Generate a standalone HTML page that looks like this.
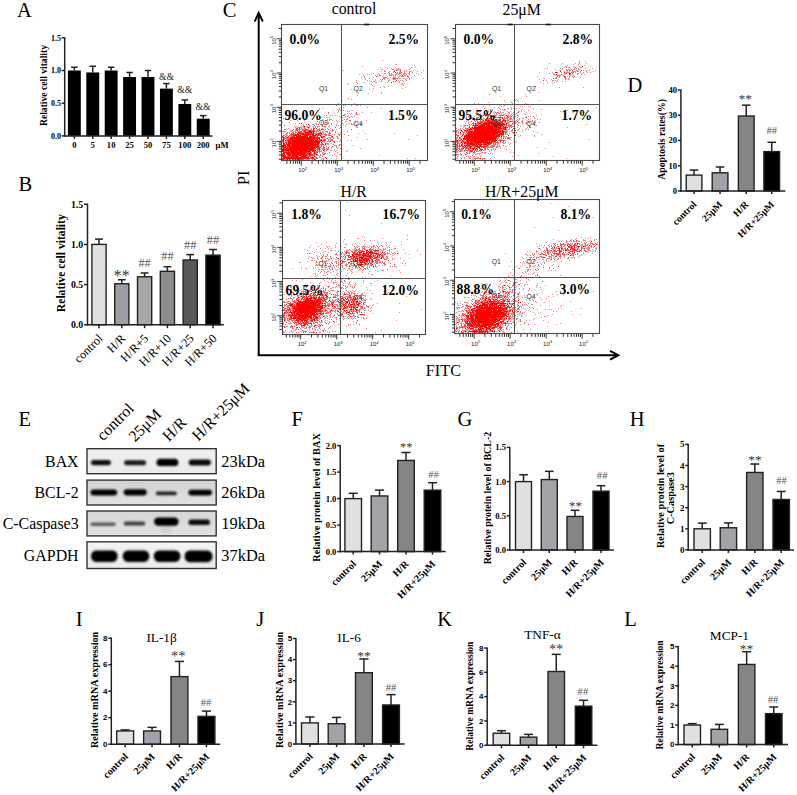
<!DOCTYPE html>
<html><head><meta charset="utf-8"><style>
html,body{margin:0;padding:0;background:#fff;overflow:hidden;width:797px;height:795px;}
svg{display:block;}
</style></head><body>
<svg width="797" height="795" viewBox="0 0 797 795" font-family="Liberation Serif">
<rect width="797" height="795" fill="#fff"/>
<path d="M282 122h1v1h-1zm0 9h1v1h-1zm0 8h1v1h-1zm0 2h1v1h-1zm0 1h1v1h-1zm0 6h1v1h-1zm0 5h1v1h-1zm1 -35h1v1h-1zm0 13h1v1h-1zm0 2h1v1h-1zm0 3h1v1h-1zm1 -7h1v1h-1zm0 2h1v1h-1zm0 1h1v1h-1zm0 3h1v1h-1zm0 3h1v1h-1zm0 1h1v1h-1zm0 2h1v1h-1zm0 10h1v1h-1zm0 8h1v1h-1zm1 -30h1v1h-1zm0 2h1v1h-1zm0 3h1v1h-1zm0 7h1v1h-1zm0 3h1v1h-1zm0 15h1v1h-1zm1 -25h1v1h-1zm0 1h1v1h-1zm0 1h1v1h-1zm0 2h1v1h-1zm0 1h1v1h-1zm0 1h1v1h-1zm0 1h1v1h-1zm0 6h1v1h-1zm1 -15h1v1h-1zm0 1h1v1h-1zm0 2h1v1h-1zm0 3h1v1h-1zm0 3h1v1h-1zm0 1h1v1h-1zm0 1h1v1h-1zm1 -15h1v1h-1zm0 9h1v1h-1zm0 2h1v1h-1zm0 8h1v1h-1zm0 12h1v1h-1zm1 -37h1v1h-1zm0 10h1v1h-1zm0 5h1v1h-1zm0 1h1v1h-1zm0 13h1v1h-1zm1 -31h1v1h-1zm0 10h1v1h-1zm0 1h1v1h-1zm0 3h1v1h-1zm0 1h1v1h-1zm0 1h1v1h-1zm0 20h1v1h-1zm0 3h1v1h-1zm1 -28h1v1h-1zm0 2h1v1h-1zm0 21h1v1h-1zm1 -22h1v1h-1zm0 1h1v1h-1zm0 2h1v1h-1zm1 -6h1v1h-1zm0 2h1v1h-1zm0 1h1v1h-1zm1 -6h1v1h-1zm0 5h1v1h-1zm0 2h1v1h-1zm0 1h1v1h-1zm0 25h1v1h-1zm1 -36h1v1h-1zm0 4h1v1h-1zm0 2h1v1h-1zm0 1h1v1h-1zm0 1h1v1h-1zm0 1h1v1h-1zm0 1h1v1h-1zm1 -7h1v1h-1zm0 6h1v1h-1zm1 -12h1v1h-1zm0 7h1v1h-1zm0 2h1v1h-1zm0 2h1v1h-1zm1 -4h1v1h-1zm0 2h1v1h-1zm0 2h1v1h-1zm0 20h1v1h-1zm0 4h1v1h-1zm1 -32h1v1h-1zm0 4h1v1h-1zm0 2h1v1h-1zm0 2h1v1h-1zm0 3h1v1h-1zm1 -7h1v1h-1zm0 2h1v1h-1zm0 5h1v1h-1zm0 22h1v1h-1zm1 -31h1v1h-1zm0 3h1v1h-1zm0 1h1v1h-1zm0 3h1v1h-1zm0 3h1v1h-1zm1 -9h1v1h-1zm0 2h1v1h-1zm0 1h1v1h-1zm0 1h1v1h-1zm0 2h1v1h-1zm0 3h1v1h-1zm1 -17h1v1h-1zm0 6h1v1h-1zm0 1h1v1h-1zm0 1h1v1h-1zm0 1h1v1h-1zm0 3h1v1h-1zm0 2h1v1h-1zm0 3h1v1h-1zm1 -15h1v1h-1zm0 7h1v1h-1zm0 1h1v1h-1zm0 1h1v1h-1zm0 3h1v1h-1zm1 -13h1v1h-1zm0 40h1v1h-1zm1 -35h1v1h-1zm0 2h1v1h-1zm0 4h1v1h-1zm0 1h1v1h-1zm0 22h1v1h-1zm0 6h1v1h-1zm1 -33h1v1h-1zm0 1h1v1h-1zm0 3h1v1h-1zm0 25h1v1h-1zm0 4h1v1h-1zm1 -44h1v1h-1zm0 13h1v1h-1zm0 1h1v1h-1zm0 1h1v1h-1zm0 25h1v1h-1zm0 1h1v1h-1zm0 3h1v1h-1zm1 -48h1v1h-1zm0 14h1v1h-1zm0 1h1v1h-1zm0 1h1v1h-1zm0 8h1v1h-1zm0 24h1v1h-1zm1 -34h1v1h-1zm0 31h1v1h-1zm0 2h1v1h-1zm1 -30h1v1h-1zm0 2h1v1h-1zm0 22h1v1h-1zm0 2h1v1h-1zm1 -30h1v1h-1zm0 6h1v1h-1zm0 2h1v1h-1zm0 24h1v1h-1zm0 3h1v1h-1zm1 -35h1v1h-1zm0 2h1v1h-1zm0 1h1v1h-1zm0 25h1v1h-1zm0 1h1v1h-1zm0 1h1v1h-1zm1 -22h1v1h-1zm0 1h1v1h-1zm0 16h1v1h-1zm0 6h1v1h-1zm0 3h1v1h-1zm1 -35h1v1h-1zm0 4h1v1h-1zm0 4h1v1h-1zm0 2h1v1h-1zm0 16h1v1h-1zm0 2h1v1h-1zm0 1h1v1h-1zm0 2h1v1h-1zm0 2h1v1h-1zm0 1h1v1h-1zm0 1h1v1h-1zm0 1h1v1h-1zm1 -36h1v1h-1zm0 1h1v1h-1zm0 6h1v1h-1zm0 1h1v1h-1zm0 1h1v1h-1zm0 1h1v1h-1zm0 2h1v1h-1zm0 1h1v1h-1zm0 9h1v1h-1zm0 4h1v1h-1zm0 3h1v1h-1zm0 1h1v1h-1zm0 2h1v1h-1zm0 3h1v1h-1zm1 -37h1v1h-1zm0 3h1v1h-1zm0 2h1v1h-1zm0 1h1v1h-1zm0 2h1v1h-1zm0 1h1v1h-1zm0 1h1v1h-1zm0 2h1v1h-1zm0 1h1v1h-1zm0 17h1v1h-1zm1 -41h1v1h-1zm0 14h1v1h-1zm0 2h1v1h-1zm0 23h1v1h-1zm0 2h1v1h-1zm0 4h1v1h-1zm1 -47h1v1h-1zm0 1h1v1h-1zm0 17h1v1h-1zm0 2h1v1h-1zm0 1h1v1h-1zm0 3h1v1h-1zm0 3h1v1h-1zm0 5h1v1h-1zm0 5h1v1h-1zm0 1h1v1h-1zm0 6h1v1h-1zm0 4h1v1h-1zm0 1h1v1h-1zm1 -27h1v1h-1zm0 1h1v1h-1zm0 3h1v1h-1zm0 2h1v1h-1zm0 3h1v1h-1zm0 2h1v1h-1zm0 3h1v1h-1zm0 2h1v1h-1zm0 3h1v1h-1zm0 2h1v1h-1zm0 3h1v1h-1zm0 3h1v1h-1zm1 -40h1v1h-1zm0 3h1v1h-1zm0 15h1v1h-1zm0 6h1v1h-1zm0 2h1v1h-1zm0 3h1v1h-1zm0 2h1v1h-1zm0 2h1v1h-1zm0 1h1v1h-1zm0 8h1v1h-1zm1 -51h1v1h-1zm0 11h1v1h-1zm0 6h1v1h-1zm0 1h1v1h-1zm0 2h1v1h-1zm0 3h1v1h-1zm0 1h1v1h-1zm0 2h1v1h-1zm0 2h1v1h-1zm0 2h1v1h-1zm0 2h1v1h-1zm0 8h1v1h-1zm0 1h1v1h-1zm0 3h1v1h-1zm0 1h1v1h-1zm0 1h1v1h-1zm0 2h1v1h-1zm0 2h1v1h-1zm1 -37h1v1h-1zm0 10h1v1h-1zm0 1h1v1h-1zm0 5h1v1h-1zm0 2h1v1h-1zm0 2h1v1h-1zm0 7h1v1h-1zm0 1h1v1h-1zm0 3h1v1h-1zm0 6h1v1h-1zm0 1h1v1h-1zm1 -44h1v1h-1zm0 2h1v1h-1zm0 5h1v1h-1zm0 2h1v1h-1zm0 6h1v1h-1zm0 7h1v1h-1zm0 1h1v1h-1zm0 4h1v1h-1zm0 3h1v1h-1zm0 3h1v1h-1zm0 2h1v1h-1zm0 1h1v1h-1zm0 2h1v1h-1zm0 1h1v1h-1zm1 -34h1v1h-1zm0 2h1v1h-1zm0 4h1v1h-1zm0 1h1v1h-1zm0 2h1v1h-1zm0 2h1v1h-1zm0 3h1v1h-1zm0 3h1v1h-1zm0 3h1v1h-1zm0 5h1v1h-1zm1 -11h1v1h-1zm0 1h1v1h-1zm0 3h1v1h-1zm0 5h1v1h-1zm0 3h1v1h-1zm0 2h1v1h-1zm0 1h1v1h-1zm1 -32h1v1h-1zm0 2h1v1h-1zm0 9h1v1h-1zm0 4h1v1h-1zm0 9h1v1h-1zm0 2h1v1h-1zm0 1h1v1h-1zm0 4h1v1h-1zm0 5h1v1h-1zm1 -40h1v1h-1zm0 9h1v1h-1zm0 4h1v1h-1zm0 7h1v1h-1zm0 1h1v1h-1zm0 1h1v1h-1zm0 2h1v1h-1zm0 2h1v1h-1zm0 1h1v1h-1zm0 1h1v1h-1zm0 2h1v1h-1zm0 1h1v1h-1zm0 4h1v1h-1zm0 1h1v1h-1zm1 -32h1v1h-1zm0 2h1v1h-1zm0 1h1v1h-1zm0 5h1v1h-1zm0 2h1v1h-1zm0 4h1v1h-1zm0 1h1v1h-1zm0 2h1v1h-1zm0 3h1v1h-1zm0 2h1v1h-1zm0 2h1v1h-1zm0 5h1v1h-1zm0 9h1v1h-1zm1 -40h1v1h-1zm0 4h1v1h-1zm0 9h1v1h-1zm0 2h1v1h-1zm0 3h1v1h-1zm0 2h1v1h-1zm0 2h1v1h-1zm0 1h1v1h-1zm0 1h1v1h-1zm0 1h1v1h-1zm0 10h1v1h-1zm1 -31h1v1h-1zm0 4h1v1h-1zm0 1h1v1h-1zm0 6h1v1h-1zm0 5h1v1h-1zm0 1h1v1h-1zm0 1h1v1h-1zm0 2h1v1h-1zm0 1h1v1h-1zm0 3h1v1h-1zm0 4h1v1h-1zm0 1h1v1h-1zm0 2h1v1h-1zm1 -35h1v1h-1zm0 5h1v1h-1zm0 9h1v1h-1zm0 1h1v1h-1zm0 1h1v1h-1zm0 3h1v1h-1zm0 3h1v1h-1zm0 2h1v1h-1zm0 16h1v1h-1zm1 -45h1v1h-1zm0 20h1v1h-1zm0 7h1v1h-1zm0 1h1v1h-1zm0 6h1v1h-1zm1 -31h1v1h-1zm0 21h1v1h-1zm0 11h1v1h-1zm0 4h1v1h-1zm0 1h1v1h-1zm0 4h1v1h-1zm1 -39h1v1h-1zm0 16h1v1h-1zm0 1h1v1h-1zm0 13h1v1h-1zm0 6h1v1h-1zm1 -46h1v1h-1zm0 15h1v1h-1zm0 4h1v1h-1zm0 1h1v1h-1zm0 4h1v1h-1zm0 7h1v1h-1zm0 9h1v1h-1zm0 1h1v1h-1zm0 1h1v1h-1zm0 3h1v1h-1zm0 6h1v1h-1zm0 2h1v1h-1zm1 -49h1v1h-1zm0 3h1v1h-1zm0 3h1v1h-1zm0 6h1v1h-1zm0 2h1v1h-1zm0 13h1v1h-1zm0 1h1v1h-1zm0 1h1v1h-1zm0 3h1v1h-1zm0 7h1v1h-1zm0 4h1v1h-1zm1 -49h1v1h-1zm0 7h1v1h-1zm0 1h1v1h-1zm0 14h1v1h-1zm0 8h1v1h-1zm0 1h1v1h-1zm0 4h1v1h-1zm0 9h1v1h-1zm1 -43h1v1h-1zm0 4h1v1h-1zm0 1h1v1h-1zm0 7h1v1h-1zm0 12h1v1h-1zm0 6h1v1h-1zm0 1h1v1h-1zm0 6h1v1h-1zm0 3h1v1h-1zm0 10h1v1h-1zm1 -44h1v1h-1zm0 7h1v1h-1zm0 8h1v1h-1zm0 7h1v1h-1zm0 2h1v1h-1zm0 5h1v1h-1zm0 1h1v1h-1zm0 4h1v1h-1zm0 4h1v1h-1zm0 6h1v1h-1zm1 -33h1v1h-1zm0 2h1v1h-1zm0 10h1v1h-1zm0 1h1v1h-1zm0 4h1v1h-1zm0 4h1v1h-1zm0 3h1v1h-1zm0 6h1v1h-1zm1 -36h1v1h-1zm0 2h1v1h-1zm0 3h1v1h-1zm0 3h1v1h-1zm1 -53h1v1h-1zm0 35h1v1h-1zm0 2h1v1h-1zm0 17h1v1h-1zm1 -20h1v1h-1zm0 10h1v1h-1zm0 1h1v1h-1zm0 4h1v1h-1zm0 15h1v1h-1zm1 -29h1v1h-1zm0 9h1v1h-1zm0 2h1v1h-1zm0 5h1v1h-1zm0 5h1v1h-1zm1 -7h1v1h-1zm0 2h1v1h-1zm0 3h1v1h-1zm0 27h1v1h-1zm1 -68h1v1h-1zm0 28h1v1h-1zm0 2h1v1h-1zm0 5h1v1h-1zm0 1h1v1h-1zm0 12h1v1h-1zm0 9h1v1h-1zm0 10h1v1h-1zm1 -66h1v1h-1zm0 31h1v1h-1zm0 8h1v1h-1zm0 12h1v1h-1zm1 -24h1v1h-1zm0 2h1v1h-1zm0 7h1v1h-1zm0 3h1v1h-1zm1 -9h1v1h-1zm0 7h1v1h-1zm1 -32h1v1h-1zm0 10h1v1h-1zm0 6h1v1h-1zm0 5h1v1h-1zm0 3h1v1h-1zm0 3h1v1h-1zm0 7h1v1h-1zm0 1h1v1h-1zm0 16h1v1h-1zm1 -30h1v1h-1zm0 7h1v1h-1zm0 7h1v1h-1zm1 0h1v1h-1zm0 21h1v1h-1zm1 -42h1v1h-1zm0 13h1v1h-1zm1 -3h1v1h-1zm0 9h1v1h-1zm1 -42h1v1h-1zm0 2h1v1h-1zm0 23h1v1h-1zm0 8h1v1h-1zm0 11h1v1h-1zm0 1h1v1h-1zm1 -42h1v1h-1zm0 12h1v1h-1zm0 10h1v1h-1zm0 9h1v1h-1zm0 23h1v1h-1zm1 -44h1v1h-1zm0 40h1v1h-1zm1 -59h1v1h-1zm0 40h1v1h-1zm1 -9h1v1h-1zm0 18h1v1h-1zm0 2h1v1h-1zm0 23h1v1h-1zm1 -71h1v1h-1zm0 46h1v1h-1zm1 -57h1v1h-1zm0 46h1v1h-1zm1 -37h1v1h-1zm0 7h1v1h-1zm0 49h1v1h-1zm1 -55h1v1h-1zm0 1h1v1h-1zm1 1h1v1h-1zm0 1h1v1h-1zm0 54h1v1h-1zm1 -13h1v1h-1zm1 -46h1v1h-1zm0 6h1v1h-1zm0 27h1v1h-1zm0 32h1v1h-1zm1 -46h1v1h-1zm1 -19h1v1h-1zm0 6h1v1h-1zm0 3h1v1h-1zm0 6h1v1h-1zm2 -16h1v1h-1zm0 8h1v1h-1zm0 3h1v1h-1zm0 28h1v1h-1zm1 -33h1v1h-1zm0 6h1v1h-1zm0 5h1v1h-1zm1 -17h1v1h-1zm0 4h1v1h-1zm0 4h1v1h-1zm0 7h1v1h-1zm1 -7h1v1h-1zm0 5h1v1h-1zm1 -11h1v1h-1zm0 4h1v1h-1zm0 1h1v1h-1zm0 2h1v1h-1zm1 -6h1v1h-1zm0 6h1v1h-1zm1 -8h1v1h-1zm0 2h1v1h-1zm1 -3h1v1h-1zm1 1h1v1h-1zm0 7h1v1h-1zm0 74h1v1h-1zm1 -88h1v1h-1zm0 8h1v1h-1zm0 4h1v1h-1zm0 8h1v1h-1zm1 -18h1v1h-1zm0 2h1v1h-1zm0 9h1v1h-1zm0 1h1v1h-1zm0 11h1v1h-1zm0 1h1v1h-1zm0 15h1v1h-1zm1 -48h1v1h-1zm0 9h1v1h-1zm0 4h1v1h-1zm0 3h1v1h-1zm1 -1h1v1h-1zm0 2h1v1h-1zm0 9h1v1h-1zm1 -16h1v1h-1zm0 1h1v1h-1zm0 2h1v1h-1zm0 5h1v1h-1zm0 1h1v1h-1zm0 8h1v1h-1zm1 -20h1v1h-1zm0 4h1v1h-1zm0 2h1v1h-1zm0 4h1v1h-1zm0 1h1v1h-1zm1 -1h1v1h-1zm1 -9h1v1h-1zm0 8h1v1h-1zm0 2h1v1h-1zm0 4h1v1h-1zm1 -10h1v1h-1zm0 6h1v1h-1zm0 2h1v1h-1zm0 1h1v1h-1zm0 5h1v1h-1zm1 -15h1v1h-1zm0 4h1v1h-1zm0 4h1v1h-1zm0 1h1v1h-1zm1 -5h1v1h-1zm0 2h1v1h-1zm1 -9h1v1h-1zm0 5h1v1h-1zm0 1h1v1h-1zm1 -5h1v1h-1zm0 5h1v1h-1zm0 4h1v1h-1zm1 -9h1v1h-1zm0 2h1v1h-1zm0 1h1v1h-1zm0 3h1v1h-1zm0 1h1v1h-1zm0 1h1v1h-1zm0 2h1v1h-1zm1 -9h1v1h-1zm0 7h1v1h-1zm0 2h1v1h-1zm0 54h1v1h-1zm1 -69h1v1h-1zm0 10h1v1h-1zm0 1h1v1h-1zm0 1h1v1h-1zm0 1h1v1h-1zm0 1h1v1h-1zm0 1h1v1h-1zm0 2h1v1h-1zm1 -17h1v1h-1zm0 4h1v1h-1zm0 5h1v1h-1zm0 1h1v1h-1zm0 4h1v1h-1zm0 3h1v1h-1zm1 -12h1v1h-1zm0 1h1v1h-1zm0 2h1v1h-1zm0 1h1v1h-1zm1 -5h1v1h-1zm0 6h1v1h-1zm0 6h1v1h-1zm1 -10h1v1h-1zm0 2h1v1h-1zm0 3h1v1h-1zm0 1h1v1h-1zm0 2h1v1h-1zm0 3h1v1h-1zm0 1h1v1h-1zm1 -13h1v1h-1zm0 2h1v1h-1zm0 1h1v1h-1zm0 1h1v1h-1zm0 2h1v1h-1zm0 3h1v1h-1zm0 2h1v1h-1zm1 -6h1v1h-1zm0 10h1v1h-1zm1 -8h1v1h-1zm0 4h1v1h-1zm0 3h1v1h-1zm0 1h1v1h-1zm0 4h1v1h-1zm1 -14h1v1h-1zm0 2h1v1h-1zm0 2h1v1h-1zm0 3h1v1h-1zm0 4h1v1h-1zm1 -15h1v1h-1zm0 1h1v1h-1zm0 1h1v1h-1zm0 2h1v1h-1zm0 1h1v1h-1zm0 3h1v1h-1zm0 5h1v1h-1zm1 -10h1v1h-1zm0 2h1v1h-1zm0 4h1v1h-1zm0 8h1v1h-1zm1 -17h1v1h-1zm0 1h1v1h-1zm0 3h1v1h-1zm0 4h1v1h-1zm0 2h1v1h-1zm1 -5h1v1h-1zm0 1h1v1h-1zm0 82h1v1h-1zm1 -85h1v1h-1zm0 3h1v1h-1zm0 1h1v1h-1zm0 62h1v1h-1zm1 -70h1v1h-1zm0 2h1v1h-1zm0 1h1v1h-1zm0 1h1v1h-1zm0 1h1v1h-1zm0 4h1v1h-1zm0 1h1v1h-1zm1 -11h1v1h-1zm0 3h1v1h-1zm0 43h1v1h-1zm1 -47h1v1h-1zm0 4h1v1h-1zm0 6h1v1h-1zm1 -5h1v1h-1zm1 -2h1v1h-1zm1 -5h1v1h-1zm0 10h1v1h-1zm1 -8h1v1h-1zm0 91h1v1h-1zm1 -85h1v1h-1zm1 -2h1v1h-1zm0 64h1v1h-1zm1 -61h1v1h-1zm3 -2h1v1h-1zm2 -2h1v1h-1zm0 8h1v1h-1z" fill="#e62020" fill-opacity="0.55"/>
<path d="M282 136h1v1h-1zm0 1h1v1h-1zm0 3h1v1h-1zm0 7h1v1h-1zm1 -12h1v1h-1zm0 24h1v1h-1zm1 -34h1v1h-1zm0 12h1v1h-1zm0 9h1v1h-1zm0 1h1v1h-1zm0 1h1v1h-1zm1 -12h1v1h-1zm0 6h1v1h-1zm0 6h1v1h-1zm0 3h1v1h-1zm0 1h1v1h-1zm0 3h1v1h-1zm0 1h1v1h-1zm0 2h1v1h-1zm1 -25h1v1h-1zm0 4h1v1h-1zm0 7h1v1h-1zm0 7h1v1h-1zm0 3h1v1h-1zm0 2h1v1h-1zm0 3h1v1h-1zm1 -20h1v1h-1zm0 1h1v1h-1zm0 6h1v1h-1zm0 5h1v1h-1zm0 3h1v1h-1zm0 1h1v1h-1zm0 1h1v1h-1zm1 -18h1v1h-1zm0 18h1v1h-1zm1 -23h1v1h-1zm0 2h1v1h-1zm0 14h1v1h-1zm0 4h1v1h-1zm1 -16h1v1h-1zm0 3h1v1h-1zm0 4h1v1h-1zm0 1h1v1h-1zm0 7h1v1h-1zm1 -17h1v1h-1zm0 1h1v1h-1zm0 4h1v1h-1zm0 2h1v1h-1zm0 3h1v1h-1zm1 -15h1v1h-1zm0 4h1v1h-1zm0 2h1v1h-1zm1 -1h1v1h-1zm0 1h1v1h-1zm0 2h1v1h-1zm0 19h1v1h-1zm0 2h1v1h-1zm1 -20h1v1h-1zm0 17h1v1h-1zm2 -28h1v1h-1zm0 1h1v1h-1zm0 1h1v1h-1zm0 4h1v1h-1zm0 25h1v1h-1zm1 -31h1v1h-1zm0 2h1v1h-1zm0 3h1v1h-1zm0 2h1v1h-1zm1 -2h1v1h-1zm1 -3h1v1h-1zm1 1h1v1h-1zm0 1h1v1h-1zm0 4h1v1h-1zm0 23h1v1h-1zm1 -32h1v1h-1zm0 6h1v1h-1zm0 26h1v1h-1zm1 -2h1v1h-1zm0 2h1v1h-1zm1 -30h1v1h-1zm0 2h1v1h-1zm0 28h1v1h-1zm1 -26h1v1h-1zm0 1h1v1h-1zm1 -6h1v1h-1zm0 1h1v1h-1zm0 1h1v1h-1zm0 1h1v1h-1zm0 23h1v1h-1zm1 -21h1v1h-1zm0 23h1v1h-1zm0 2h1v1h-1zm1 -29h1v1h-1zm0 2h1v1h-1zm0 2h1v1h-1zm0 19h1v1h-1zm0 2h1v1h-1zm0 2h1v1h-1zm1 -25h1v1h-1zm0 4h1v1h-1zm0 15h1v1h-1zm0 2h1v1h-1zm0 2h1v1h-1zm1 -21h1v1h-1zm0 14h1v1h-1zm0 5h1v1h-1zm0 4h1v1h-1zm0 2h1v1h-1zm1 -25h1v1h-1zm0 2h1v1h-1zm0 15h1v1h-1zm0 5h1v1h-1zm0 2h1v1h-1zm1 -28h1v1h-1zm0 4h1v1h-1zm0 20h1v1h-1zm0 4h1v1h-1zm1 -24h1v1h-1zm0 3h1v1h-1zm0 2h1v1h-1zm0 16h1v1h-1zm0 1h1v1h-1zm1 -27h1v1h-1zm0 2h1v1h-1zm0 1h1v1h-1zm0 11h1v1h-1zm0 9h1v1h-1zm0 4h1v1h-1zm0 2h1v1h-1zm0 1h1v1h-1zm1 -33h1v1h-1zm0 5h1v1h-1zm0 1h1v1h-1zm0 5h1v1h-1zm0 4h1v1h-1zm0 3h1v1h-1zm0 11h1v1h-1zm0 5h1v1h-1zm1 -33h1v1h-1zm0 10h1v1h-1zm0 1h1v1h-1zm0 1h1v1h-1zm0 1h1v1h-1zm0 8h1v1h-1zm1 -19h1v1h-1zm0 9h1v1h-1zm0 2h1v1h-1zm0 4h1v1h-1zm0 8h1v1h-1zm0 6h1v1h-1zm1 -22h1v1h-1zm0 1h1v1h-1zm0 11h1v1h-1zm0 1h1v1h-1zm0 6h1v1h-1zm0 4h1v1h-1zm1 -29h1v1h-1zm0 2h1v1h-1zm0 6h1v1h-1zm0 1h1v1h-1zm0 7h1v1h-1zm0 3h1v1h-1zm1 -14h1v1h-1zm0 9h1v1h-1zm0 4h1v1h-1zm0 3h1v1h-1zm0 1h1v1h-1zm1 -19h1v1h-1zm0 15h1v1h-1zm0 8h1v1h-1zm1 -33h1v1h-1zm0 12h1v1h-1zm0 5h1v1h-1zm0 5h1v1h-1zm0 1h1v1h-1zm1 -16h1v1h-1zm0 8h1v1h-1zm0 4h1v1h-1zm0 2h1v1h-1zm0 1h1v1h-1zm1 -15h1v1h-1zm0 4h1v1h-1zm0 7h1v1h-1zm0 4h1v1h-1zm0 2h1v1h-1zm0 1h1v1h-1zm0 3h1v1h-1zm0 4h1v1h-1zm1 -28h1v1h-1zm0 8h1v1h-1zm0 2h1v1h-1zm0 3h1v1h-1zm0 1h1v1h-1zm0 1h1v1h-1zm0 6h1v1h-1zm1 -14h1v1h-1zm0 2h1v1h-1zm0 4h1v1h-1zm0 4h1v1h-1zm1 -28h1v1h-1zm0 16h1v1h-1zm0 19h1v1h-1zm1 -19h1v1h-1zm0 7h1v1h-1zm0 11h1v1h-1zm1 -37h1v1h-1zm0 11h1v1h-1zm0 6h1v1h-1zm0 18h1v1h-1zm1 -14h1v1h-1zm0 2h1v1h-1zm0 17h1v1h-1zm1 -11h1v1h-1zm2 -1h1v1h-1zm0 6h1v1h-1zm1 -5h1v1h-1zm1 0h1v1h-1zm0 1h1v1h-1zm1 -15h1v1h-1zm4 18h1v1h-1zm1 -18h1v1h-1zm1 16h1v1h-1zm2 -33h1v1h-1zm0 5h1v1h-1zm4 1h1v1h-1zm1 -18h1v1h-1zm1 19h1v1h-1zm1 3h1v1h-1zm1 9h1v1h-1zm5 -17h1v1h-1zm0 2h1v1h-1zm13 -36h1v1h-1zm10 -3h1v1h-1zm3 4h1v1h-1zm1 -1h1v1h-1zm1 -1h1v1h-1zm5 -4h1v1h-1zm0 1h1v1h-1zm2 1h1v1h-1zm2 3h1v1h-1zm0 3h1v1h-1zm1 -10h1v1h-1zm0 7h1v1h-1zm2 -8h1v1h-1zm0 10h1v1h-1zm1 -2h1v1h-1zm1 -9h1v1h-1zm0 8h1v1h-1zm2 -7h1v1h-1zm1 2h1v1h-1zm0 4h1v1h-1zm1 -1h1v1h-1zm2 -2h1v1h-1z" fill="#f41010" fill-opacity="0.8"/>
<path d="M282 145h1v1h-1zm0 1h1v1h-1zm0 3h1v1h-1zm0 1h1v1h-1zm0 1h1v1h-1zm0 3h1v1h-1zm0 1h1v1h-1zm0 1h1v1h-1zm0 2h1v1h-1zm0 1h1v1h-1zm1 -22h1v1h-1zm0 1h1v1h-1zm0 1h1v1h-1zm0 1h1v1h-1zm0 1h1v1h-1zm0 1h1v1h-1zm0 1h1v1h-1zm0 1h1v1h-1zm0 1h1v1h-1zm0 1h1v1h-1zm0 1h1v1h-1zm0 1h1v1h-1zm0 1h1v1h-1zm0 1h1v1h-1zm0 1h1v1h-1zm0 1h1v1h-1zm0 1h1v1h-1zm0 1h1v1h-1zm0 1h1v1h-1zm0 1h1v1h-1zm0 1h1v1h-1zm0 1h1v1h-1zm1 -15h1v1h-1zm0 1h1v1h-1zm0 1h1v1h-1zm0 4h1v1h-1zm0 1h1v1h-1zm0 2h1v1h-1zm0 1h1v1h-1zm0 1h1v1h-1zm0 1h1v1h-1zm0 1h1v1h-1zm0 1h1v1h-1zm0 1h1v1h-1zm1 -20h1v1h-1zm0 2h1v1h-1zm0 5h1v1h-1zm0 1h1v1h-1zm0 1h1v1h-1zm0 2h1v1h-1zm0 1h1v1h-1zm0 7h1v1h-1zm1 -15h1v1h-1zm0 1h1v1h-1zm0 3h1v1h-1zm0 2h1v1h-1zm0 1h1v1h-1zm0 1h1v1h-1zm0 2h1v1h-1zm0 1h1v1h-1zm0 4h1v1h-1zm0 1h1v1h-1zm1 -21h1v1h-1zm0 7h1v1h-1zm0 1h1v1h-1zm0 2h1v1h-1zm0 1h1v1h-1zm0 1h1v1h-1zm0 1h1v1h-1zm0 2h1v1h-1zm0 1h1v1h-1zm0 4h1v1h-1zm0 1h1v1h-1zm0 1h1v1h-1zm1 -23h1v1h-1zm0 4h1v1h-1zm0 1h1v1h-1zm0 1h1v1h-1zm0 1h1v1h-1zm0 1h1v1h-1zm0 1h1v1h-1zm0 1h1v1h-1zm0 2h1v1h-1zm0 1h1v1h-1zm0 1h1v1h-1zm0 1h1v1h-1zm0 1h1v1h-1zm0 1h1v1h-1zm0 1h1v1h-1zm0 1h1v1h-1zm0 2h1v1h-1zm0 1h1v1h-1zm1 -19h1v1h-1zm0 1h1v1h-1zm0 1h1v1h-1zm0 1h1v1h-1zm0 1h1v1h-1zm0 1h1v1h-1zm0 1h1v1h-1zm0 1h1v1h-1zm0 1h1v1h-1zm0 1h1v1h-1zm0 2h1v1h-1zm0 2h1v1h-1zm0 2h1v1h-1zm0 1h1v1h-1zm0 1h1v1h-1zm0 1h1v1h-1zm0 1h1v1h-1zm0 1h1v1h-1zm1 -21h1v1h-1zm0 1h1v1h-1zm0 2h1v1h-1zm0 1h1v1h-1zm0 1h1v1h-1zm0 3h1v1h-1zm0 1h1v1h-1zm0 1h1v1h-1zm0 1h1v1h-1zm0 1h1v1h-1zm0 1h1v1h-1zm0 2h1v1h-1zm0 1h1v1h-1zm0 1h1v1h-1zm0 2h1v1h-1zm0 1h1v1h-1zm1 -24h1v1h-1zm0 3h1v1h-1zm0 1h1v1h-1zm0 1h1v1h-1zm0 2h1v1h-1zm0 2h1v1h-1zm0 1h1v1h-1zm0 2h1v1h-1zm0 1h1v1h-1zm0 1h1v1h-1zm0 1h1v1h-1zm0 1h1v1h-1zm0 1h1v1h-1zm0 1h1v1h-1zm0 1h1v1h-1zm0 2h1v1h-1zm0 1h1v1h-1zm0 1h1v1h-1zm0 1h1v1h-1zm1 -21h1v1h-1zm0 1h1v1h-1zm0 1h1v1h-1zm0 1h1v1h-1zm0 1h1v1h-1zm0 1h1v1h-1zm0 1h1v1h-1zm0 1h1v1h-1zm0 1h1v1h-1zm0 1h1v1h-1zm0 1h1v1h-1zm0 1h1v1h-1zm0 1h1v1h-1zm0 1h1v1h-1zm0 1h1v1h-1zm0 1h1v1h-1zm0 1h1v1h-1zm0 1h1v1h-1zm0 1h1v1h-1zm0 1h1v1h-1zm0 1h1v1h-1zm0 1h1v1h-1zm0 1h1v1h-1zm1 -26h1v1h-1zm0 1h1v1h-1zm0 3h1v1h-1zm0 2h1v1h-1zm0 1h1v1h-1zm0 1h1v1h-1zm0 1h1v1h-1zm0 1h1v1h-1zm0 1h1v1h-1zm0 1h1v1h-1zm0 1h1v1h-1zm0 1h1v1h-1zm0 1h1v1h-1zm0 1h1v1h-1zm0 1h1v1h-1zm0 1h1v1h-1zm0 1h1v1h-1zm0 1h1v1h-1zm0 1h1v1h-1zm0 1h1v1h-1zm0 1h1v1h-1zm0 2h1v1h-1zm1 -23h1v1h-1zm0 1h1v1h-1zm0 1h1v1h-1zm0 1h1v1h-1zm0 2h1v1h-1zm0 1h1v1h-1zm0 1h1v1h-1zm0 1h1v1h-1zm0 1h1v1h-1zm0 1h1v1h-1zm0 1h1v1h-1zm0 1h1v1h-1zm0 1h1v1h-1zm0 1h1v1h-1zm0 1h1v1h-1zm0 1h1v1h-1zm0 1h1v1h-1zm0 1h1v1h-1zm0 1h1v1h-1zm0 1h1v1h-1zm0 2h1v1h-1zm0 1h1v1h-1zm1 -24h1v1h-1zm0 1h1v1h-1zm0 2h1v1h-1zm0 1h1v1h-1zm0 1h1v1h-1zm0 1h1v1h-1zm0 1h1v1h-1zm0 1h1v1h-1zm0 1h1v1h-1zm0 1h1v1h-1zm0 1h1v1h-1zm0 1h1v1h-1zm0 1h1v1h-1zm0 1h1v1h-1zm0 1h1v1h-1zm0 1h1v1h-1zm0 1h1v1h-1zm0 1h1v1h-1zm0 1h1v1h-1zm0 1h1v1h-1zm0 1h1v1h-1zm0 1h1v1h-1zm0 1h1v1h-1zm0 1h1v1h-1zm0 1h1v1h-1zm1 -24h1v1h-1zm0 1h1v1h-1zm0 1h1v1h-1zm0 1h1v1h-1zm0 1h1v1h-1zm0 1h1v1h-1zm0 1h1v1h-1zm0 1h1v1h-1zm0 1h1v1h-1zm0 1h1v1h-1zm0 1h1v1h-1zm0 1h1v1h-1zm0 1h1v1h-1zm0 1h1v1h-1zm0 1h1v1h-1zm0 1h1v1h-1zm0 1h1v1h-1zm0 1h1v1h-1zm0 1h1v1h-1zm0 1h1v1h-1zm0 1h1v1h-1zm0 1h1v1h-1zm0 1h1v1h-1zm0 1h1v1h-1zm1 -24h1v1h-1zm0 2h1v1h-1zm0 1h1v1h-1zm0 1h1v1h-1zm0 1h1v1h-1zm0 1h1v1h-1zm0 1h1v1h-1zm0 1h1v1h-1zm0 1h1v1h-1zm0 1h1v1h-1zm0 1h1v1h-1zm0 1h1v1h-1zm0 1h1v1h-1zm0 1h1v1h-1zm0 1h1v1h-1zm0 1h1v1h-1zm0 1h1v1h-1zm0 1h1v1h-1zm0 1h1v1h-1zm0 1h1v1h-1zm0 1h1v1h-1zm0 1h1v1h-1zm0 1h1v1h-1zm0 1h1v1h-1zm0 1h1v1h-1zm1 -27h1v1h-1zm0 2h1v1h-1zm0 1h1v1h-1zm0 1h1v1h-1zm0 1h1v1h-1zm0 1h1v1h-1zm0 1h1v1h-1zm0 1h1v1h-1zm0 1h1v1h-1zm0 1h1v1h-1zm0 1h1v1h-1zm0 1h1v1h-1zm0 1h1v1h-1zm0 1h1v1h-1zm0 1h1v1h-1zm0 1h1v1h-1zm0 1h1v1h-1zm0 1h1v1h-1zm0 2h1v1h-1zm0 1h1v1h-1zm0 1h1v1h-1zm0 2h1v1h-1zm0 1h1v1h-1zm0 1h1v1h-1zm0 1h1v1h-1zm1 -31h1v1h-1zm0 4h1v1h-1zm0 1h1v1h-1zm0 2h1v1h-1zm0 1h1v1h-1zm0 1h1v1h-1zm0 1h1v1h-1zm0 1h1v1h-1zm0 1h1v1h-1zm0 1h1v1h-1zm0 1h1v1h-1zm0 1h1v1h-1zm0 1h1v1h-1zm0 1h1v1h-1zm0 1h1v1h-1zm0 1h1v1h-1zm0 1h1v1h-1zm0 1h1v1h-1zm0 1h1v1h-1zm0 1h1v1h-1zm0 1h1v1h-1zm0 1h1v1h-1zm0 1h1v1h-1zm0 1h1v1h-1zm0 2h1v1h-1zm0 1h1v1h-1zm0 1h1v1h-1zm1 -26h1v1h-1zm0 2h1v1h-1zm0 2h1v1h-1zm0 1h1v1h-1zm0 1h1v1h-1zm0 1h1v1h-1zm0 1h1v1h-1zm0 1h1v1h-1zm0 1h1v1h-1zm0 1h1v1h-1zm0 1h1v1h-1zm0 1h1v1h-1zm0 1h1v1h-1zm0 1h1v1h-1zm0 1h1v1h-1zm0 1h1v1h-1zm0 1h1v1h-1zm0 1h1v1h-1zm0 1h1v1h-1zm0 1h1v1h-1zm0 1h1v1h-1zm0 2h1v1h-1zm0 1h1v1h-1zm1 -35h1v1h-1zm0 8h1v1h-1zm0 3h1v1h-1zm0 2h1v1h-1zm0 1h1v1h-1zm0 1h1v1h-1zm0 1h1v1h-1zm0 1h1v1h-1zm0 1h1v1h-1zm0 1h1v1h-1zm0 1h1v1h-1zm0 1h1v1h-1zm0 1h1v1h-1zm0 1h1v1h-1zm0 1h1v1h-1zm0 1h1v1h-1zm0 1h1v1h-1zm0 1h1v1h-1zm0 1h1v1h-1zm0 1h1v1h-1zm0 1h1v1h-1zm0 1h1v1h-1zm0 1h1v1h-1zm0 1h1v1h-1zm0 1h1v1h-1zm0 1h1v1h-1zm1 -25h1v1h-1zm0 1h1v1h-1zm0 2h1v1h-1zm0 1h1v1h-1zm0 1h1v1h-1zm0 1h1v1h-1zm0 1h1v1h-1zm0 1h1v1h-1zm0 1h1v1h-1zm0 1h1v1h-1zm0 1h1v1h-1zm0 1h1v1h-1zm0 1h1v1h-1zm0 1h1v1h-1zm0 1h1v1h-1zm0 1h1v1h-1zm0 1h1v1h-1zm0 1h1v1h-1zm0 1h1v1h-1zm0 1h1v1h-1zm0 1h1v1h-1zm0 1h1v1h-1zm0 1h1v1h-1zm0 2h1v1h-1zm1 -25h1v1h-1zm0 1h1v1h-1zm0 2h1v1h-1zm0 1h1v1h-1zm0 1h1v1h-1zm0 1h1v1h-1zm0 1h1v1h-1zm0 1h1v1h-1zm0 1h1v1h-1zm0 1h1v1h-1zm0 1h1v1h-1zm0 1h1v1h-1zm0 1h1v1h-1zm0 1h1v1h-1zm0 1h1v1h-1zm0 1h1v1h-1zm0 1h1v1h-1zm0 1h1v1h-1zm0 1h1v1h-1zm0 1h1v1h-1zm0 1h1v1h-1zm0 1h1v1h-1zm0 1h1v1h-1zm0 1h1v1h-1zm0 1h1v1h-1zm1 -32h1v1h-1zm0 4h1v1h-1zm0 1h1v1h-1zm0 4h1v1h-1zm0 1h1v1h-1zm0 1h1v1h-1zm0 1h1v1h-1zm0 1h1v1h-1zm0 1h1v1h-1zm0 1h1v1h-1zm0 1h1v1h-1zm0 1h1v1h-1zm0 1h1v1h-1zm0 1h1v1h-1zm0 1h1v1h-1zm0 1h1v1h-1zm0 1h1v1h-1zm0 1h1v1h-1zm0 1h1v1h-1zm0 1h1v1h-1zm0 1h1v1h-1zm0 1h1v1h-1zm0 1h1v1h-1zm0 1h1v1h-1zm0 1h1v1h-1zm0 1h1v1h-1zm0 1h1v1h-1zm1 -26h1v1h-1zm0 1h1v1h-1zm0 1h1v1h-1zm0 1h1v1h-1zm0 1h1v1h-1zm0 1h1v1h-1zm0 1h1v1h-1zm0 1h1v1h-1zm0 1h1v1h-1zm0 1h1v1h-1zm0 1h1v1h-1zm0 1h1v1h-1zm0 1h1v1h-1zm0 1h1v1h-1zm0 1h1v1h-1zm0 1h1v1h-1zm0 1h1v1h-1zm0 1h1v1h-1zm0 1h1v1h-1zm0 1h1v1h-1zm0 1h1v1h-1zm0 1h1v1h-1zm0 2h1v1h-1zm0 1h1v1h-1zm0 1h1v1h-1zm0 1h1v1h-1zm1 -29h1v1h-1zm0 3h1v1h-1zm0 2h1v1h-1zm0 1h1v1h-1zm0 1h1v1h-1zm0 1h1v1h-1zm0 1h1v1h-1zm0 1h1v1h-1zm0 1h1v1h-1zm0 1h1v1h-1zm0 1h1v1h-1zm0 1h1v1h-1zm0 1h1v1h-1zm0 1h1v1h-1zm0 1h1v1h-1zm0 1h1v1h-1zm0 1h1v1h-1zm0 1h1v1h-1zm0 1h1v1h-1zm0 1h1v1h-1zm0 1h1v1h-1zm0 2h1v1h-1zm0 1h1v1h-1zm0 2h1v1h-1zm1 -25h1v1h-1zm0 2h1v1h-1zm0 1h1v1h-1zm0 1h1v1h-1zm0 1h1v1h-1zm0 1h1v1h-1zm0 1h1v1h-1zm0 1h1v1h-1zm0 1h1v1h-1zm0 1h1v1h-1zm0 1h1v1h-1zm0 1h1v1h-1zm0 1h1v1h-1zm0 1h1v1h-1zm0 1h1v1h-1zm0 1h1v1h-1zm0 1h1v1h-1zm0 1h1v1h-1zm0 1h1v1h-1zm0 2h1v1h-1zm0 4h1v1h-1zm0 1h1v1h-1zm1 -34h1v1h-1zm0 3h1v1h-1zm0 5h1v1h-1zm0 1h1v1h-1zm0 1h1v1h-1zm0 3h1v1h-1zm0 1h1v1h-1zm0 1h1v1h-1zm0 1h1v1h-1zm0 1h1v1h-1zm0 1h1v1h-1zm0 1h1v1h-1zm0 1h1v1h-1zm0 1h1v1h-1zm0 1h1v1h-1zm0 1h1v1h-1zm0 1h1v1h-1zm0 1h1v1h-1zm0 2h1v1h-1zm0 2h1v1h-1zm0 4h1v1h-1zm0 1h1v1h-1zm1 -28h1v1h-1zm0 1h1v1h-1zm0 1h1v1h-1zm0 2h1v1h-1zm0 2h1v1h-1zm0 1h1v1h-1zm0 1h1v1h-1zm0 1h1v1h-1zm0 1h1v1h-1zm0 1h1v1h-1zm0 1h1v1h-1zm0 1h1v1h-1zm0 1h1v1h-1zm0 1h1v1h-1zm0 1h1v1h-1zm0 2h1v1h-1zm0 1h1v1h-1zm0 1h1v1h-1zm0 1h1v1h-1zm0 2h1v1h-1zm0 1h1v1h-1zm0 1h1v1h-1zm1 -25h1v1h-1zm0 1h1v1h-1zm0 1h1v1h-1zm0 2h1v1h-1zm0 2h1v1h-1zm0 1h1v1h-1zm0 1h1v1h-1zm0 1h1v1h-1zm0 1h1v1h-1zm0 1h1v1h-1zm0 1h1v1h-1zm0 1h1v1h-1zm0 1h1v1h-1zm0 1h1v1h-1zm0 1h1v1h-1zm0 1h1v1h-1zm0 1h1v1h-1zm0 1h1v1h-1zm0 2h1v1h-1zm0 1h1v1h-1zm0 1h1v1h-1zm0 1h1v1h-1zm1 -23h1v1h-1zm0 1h1v1h-1zm0 2h1v1h-1zm0 2h1v1h-1zm0 1h1v1h-1zm0 1h1v1h-1zm0 1h1v1h-1zm0 1h1v1h-1zm0 1h1v1h-1zm0 1h1v1h-1zm0 1h1v1h-1zm0 1h1v1h-1zm0 1h1v1h-1zm0 1h1v1h-1zm0 1h1v1h-1zm0 1h1v1h-1zm0 1h1v1h-1zm0 1h1v1h-1zm0 5h1v1h-1zm0 3h1v1h-1zm1 -27h1v1h-1zm0 3h1v1h-1zm0 1h1v1h-1zm0 2h1v1h-1zm0 2h1v1h-1zm0 1h1v1h-1zm0 1h1v1h-1zm0 1h1v1h-1zm0 1h1v1h-1zm0 1h1v1h-1zm0 1h1v1h-1zm0 1h1v1h-1zm0 1h1v1h-1zm0 1h1v1h-1zm0 1h1v1h-1zm0 1h1v1h-1zm0 1h1v1h-1zm0 6h1v1h-1zm0 1h1v1h-1zm1 -29h1v1h-1zm0 3h1v1h-1zm0 1h1v1h-1zm0 1h1v1h-1zm0 1h1v1h-1zm0 1h1v1h-1zm0 1h1v1h-1zm0 1h1v1h-1zm0 1h1v1h-1zm0 1h1v1h-1zm0 1h1v1h-1zm0 2h1v1h-1zm0 1h1v1h-1zm0 1h1v1h-1zm0 1h1v1h-1zm0 1h1v1h-1zm0 1h1v1h-1zm0 1h1v1h-1zm0 1h1v1h-1zm1 -22h1v1h-1zm0 7h1v1h-1zm0 2h1v1h-1zm0 1h1v1h-1zm0 1h1v1h-1zm0 2h1v1h-1zm0 1h1v1h-1zm0 2h1v1h-1zm0 1h1v1h-1zm0 1h1v1h-1zm0 1h1v1h-1zm0 1h1v1h-1zm0 2h1v1h-1zm0 1h1v1h-1zm0 1h1v1h-1zm0 1h1v1h-1zm0 3h1v1h-1zm1 -22h1v1h-1zm0 1h1v1h-1zm0 5h1v1h-1zm0 1h1v1h-1zm0 1h1v1h-1zm0 1h1v1h-1zm0 1h1v1h-1zm0 1h1v1h-1zm0 1h1v1h-1zm0 2h1v1h-1zm0 2h1v1h-1zm0 3h1v1h-1zm1 -19h1v1h-1zm0 4h1v1h-1zm0 2h1v1h-1zm0 1h1v1h-1zm0 1h1v1h-1zm0 2h1v1h-1zm0 2h1v1h-1zm0 1h1v1h-1zm0 7h1v1h-1zm1 -17h1v1h-1zm0 1h1v1h-1zm0 1h1v1h-1zm0 1h1v1h-1zm0 1h1v1h-1zm0 1h1v1h-1zm0 1h1v1h-1zm0 1h1v1h-1zm0 1h1v1h-1zm0 1h1v1h-1zm0 3h1v1h-1zm0 1h1v1h-1zm0 2h1v1h-1zm1 -19h1v1h-1zm0 1h1v1h-1zm0 1h1v1h-1zm0 5h1v1h-1zm0 1h1v1h-1zm0 1h1v1h-1zm0 1h1v1h-1zm0 1h1v1h-1zm0 2h1v1h-1zm0 1h1v1h-1zm1 -17h1v1h-1zm0 3h1v1h-1zm0 4h1v1h-1zm0 1h1v1h-1zm0 1h1v1h-1zm0 2h1v1h-1zm0 1h1v1h-1zm0 6h1v1h-1zm0 1h1v1h-1zm1 -16h1v1h-1zm0 2h1v1h-1zm0 5h1v1h-1zm1 -11h1v1h-1zm0 4h1v1h-1zm0 3h1v1h-1zm0 1h1v1h-1zm0 3h1v1h-1zm0 2h1v1h-1zm2 -6h1v1h-1zm1 13h1v1h-1zm1 -5h1v1h-1zm0 9h1v1h-1zm0 4h1v1h-1zm1 1h1v1h-1zm6 -22h1v1h-1zm59 -54h1v1h-1zm4 -10h1v1h-1zm4 1h1v1h-1z" fill="#ff0000" fill-opacity="1.0"/>
<rect x="281.5" y="24.5" width="146" height="136" fill="none" stroke="#4a4a4a" stroke-width="1.1"/>
<line x1="341.5" y1="24.5" x2="341.5" y2="160.5" stroke="#555" stroke-width="1.1"/>
<line x1="281.5" y1="104.5" x2="427.5" y2="104.5" stroke="#555" stroke-width="1.1"/>
<rect x="364.2" y="23.7" width="5" height="1.6" fill="#111"/>
<path d="M278.8 159.28H281.6M278.8 155.01H281.6M278.8 151.7H281.6M278.8 148.99H281.6M278.8 146.7H281.6M278.8 144.71H281.6M278.8 142.96H281.6M276.8 141.4H281.6M278.8 131.1H281.6M278.8 125.08H281.6M278.8 120.81H281.6M278.8 117.5H281.6M278.8 114.79H281.6M278.8 112.5H281.6M278.8 110.51H281.6M278.8 108.76H281.6M276.8 107.2H281.6M278.8 96.9H281.6M278.8 90.88H281.6M278.8 86.61H281.6M278.8 83.3H281.6M278.8 80.59H281.6M278.8 78.3H281.6M278.8 76.31H281.6M278.8 74.56H281.6M276.8 73H281.6M278.8 62.7H281.6M278.8 56.68H281.6M278.8 52.41H281.6M278.8 49.1H281.6M278.8 46.39H281.6M278.8 44.1H281.6M278.8 42.11H281.6M278.8 40.36H281.6M276.8 38.8H281.6M278.8 28.5H281.6M286.87 160.8V163.8M290.36 160.8V163.8M293.21 160.8V163.8M295.62 160.8V163.8M297.71 160.8V163.8M299.55 160.8V163.8M301.2 160.8V165.6M312.04 160.8V163.8M318.38 160.8V163.8M322.87 160.8V163.8M326.36 160.8V163.8M329.21 160.8V163.8M331.62 160.8V163.8M333.71 160.8V163.8M335.55 160.8V163.8M337.2 160.8V165.6M348.04 160.8V163.8M354.38 160.8V163.8M358.87 160.8V163.8M362.36 160.8V163.8M365.21 160.8V163.8M367.62 160.8V163.8M369.71 160.8V163.8M371.55 160.8V163.8M373.2 160.8V165.6M384.04 160.8V163.8M390.38 160.8V163.8M394.87 160.8V163.8M398.36 160.8V163.8M401.21 160.8V163.8M403.62 160.8V163.8M405.71 160.8V163.8M407.55 160.8V163.8M409.2 160.8V165.6M420.04 160.8V163.8" stroke="#333" stroke-width="1" fill="none"/>
<text transform="translate(275.6 142.9) rotate(-90)" font-size="6" font-family="Liberation Sans" text-anchor="middle" fill="#222">10<tspan dy="-2.4" font-size="4.3">2</tspan></text>
<text x="302.7" y="172.4" font-size="6" font-family="Liberation Sans" text-anchor="middle" fill="#222">10<tspan dy="-2.4" font-size="4.3">2</tspan></text>
<text transform="translate(275.6 108.7) rotate(-90)" font-size="6" font-family="Liberation Sans" text-anchor="middle" fill="#222">10<tspan dy="-2.4" font-size="4.3">3</tspan></text>
<text x="338.7" y="172.4" font-size="6" font-family="Liberation Sans" text-anchor="middle" fill="#222">10<tspan dy="-2.4" font-size="4.3">3</tspan></text>
<text transform="translate(275.6 74.5) rotate(-90)" font-size="6" font-family="Liberation Sans" text-anchor="middle" fill="#222">10<tspan dy="-2.4" font-size="4.3">4</tspan></text>
<text x="374.7" y="172.4" font-size="6" font-family="Liberation Sans" text-anchor="middle" fill="#222">10<tspan dy="-2.4" font-size="4.3">4</tspan></text>
<text transform="translate(275.6 40.3) rotate(-90)" font-size="6" font-family="Liberation Sans" text-anchor="middle" fill="#222">10<tspan dy="-2.4" font-size="4.3">5</tspan></text>
<text x="410.7" y="172.4" font-size="6" font-family="Liberation Sans" text-anchor="middle" fill="#222">10<tspan dy="-2.4" font-size="4.3">5</tspan></text>
<text x="318.9" y="91.2" font-size="6.8" font-family="Liberation Sans" fill="#333">Q1</text>
<text x="353.6" y="91.2" font-size="6.8" font-family="Liberation Sans" fill="#333">Q2</text>
<text x="318.9" y="125.1" font-size="6.8" font-family="Liberation Sans" fill="#333">Q3</text>
<text x="353.6" y="125.5" font-size="6.8" font-family="Liberation Sans" fill="#333">Q4</text>
<text x="354" y="14.3" font-size="15.8" text-anchor="middle">control</text>
<text x="289.6" y="44.1" font-size="13.6" font-weight="bold">0.0%</text>
<text x="388.6" y="44.1" font-size="13.6" font-weight="bold">2.5%</text>
<text x="284.4" y="119.6" font-size="13.6" font-weight="bold">96.0%</text>
<text x="387.9" y="119.6" font-size="13.6" font-weight="bold">1.5%</text>
<path d="M456 119h1v1h-1zm0 9h1v1h-1zm0 2h1v1h-1zm0 1h1v1h-1zm0 1h1v1h-1zm0 3h1v1h-1zm0 2h1v1h-1zm0 1h1v1h-1zm0 1h1v1h-1zm0 2h1v1h-1zm0 1h1v1h-1zm0 4h1v1h-1zm0 1h1v1h-1zm0 1h1v1h-1zm0 3h1v1h-1zm0 1h1v1h-1zm0 2h1v1h-1zm0 1h1v1h-1zm0 3h1v1h-1zm1 -28h1v1h-1zm0 6h1v1h-1zm0 1h1v1h-1zm0 1h1v1h-1zm0 10h1v1h-1zm0 1h1v1h-1zm0 2h1v1h-1zm0 1h1v1h-1zm0 4h1v1h-1zm0 2h1v1h-1zm1 -29h1v1h-1zm0 2h1v1h-1zm0 1h1v1h-1zm0 1h1v1h-1zm0 3h1v1h-1zm0 3h1v1h-1zm0 1h1v1h-1zm0 1h1v1h-1zm0 1h1v1h-1zm0 1h1v1h-1zm0 3h1v1h-1zm0 2h1v1h-1zm0 2h1v1h-1zm0 4h1v1h-1zm1 -42h1v1h-1zm0 18h1v1h-1zm0 11h1v1h-1zm0 2h1v1h-1zm0 1h1v1h-1zm0 2h1v1h-1zm0 1h1v1h-1zm0 1h1v1h-1zm0 3h1v1h-1zm1 -26h1v1h-1zm0 3h1v1h-1zm0 1h1v1h-1zm0 1h1v1h-1zm0 4h1v1h-1zm0 3h1v1h-1zm0 1h1v1h-1zm0 1h1v1h-1zm0 3h1v1h-1zm0 1h1v1h-1zm0 6h1v1h-1zm0 1h1v1h-1zm0 3h1v1h-1zm0 1h1v1h-1zm0 3h1v1h-1zm1 -31h1v1h-1zm0 5h1v1h-1zm0 7h1v1h-1zm0 2h1v1h-1zm0 1h1v1h-1zm0 9h1v1h-1zm0 1h1v1h-1zm0 3h1v1h-1zm0 1h1v1h-1zm1 -27h1v1h-1zm0 3h1v1h-1zm0 1h1v1h-1zm0 2h1v1h-1zm0 2h1v1h-1zm0 2h1v1h-1zm0 4h1v1h-1zm0 5h1v1h-1zm0 2h1v1h-1zm0 1h1v1h-1zm1 -25h1v1h-1zm0 2h1v1h-1zm0 2h1v1h-1zm0 4h1v1h-1zm0 7h1v1h-1zm0 2h1v1h-1zm1 -17h1v1h-1zm0 1h1v1h-1zm0 3h1v1h-1zm0 2h1v1h-1zm0 1h1v1h-1zm0 8h1v1h-1zm0 1h1v1h-1zm0 3h1v1h-1zm0 2h1v1h-1zm0 5h1v1h-1zm0 2h1v1h-1zm0 4h1v1h-1zm0 1h1v1h-1zm1 -35h1v1h-1zm0 4h1v1h-1zm0 4h1v1h-1zm0 3h1v1h-1zm0 3h1v1h-1zm0 7h1v1h-1zm0 3h1v1h-1zm0 2h1v1h-1zm0 1h1v1h-1zm1 -34h1v1h-1zm0 5h1v1h-1zm0 4h1v1h-1zm0 3h1v1h-1zm0 1h1v1h-1zm0 10h1v1h-1zm0 2h1v1h-1zm0 3h1v1h-1zm0 2h1v1h-1zm0 2h1v1h-1zm0 1h1v1h-1zm0 1h1v1h-1zm0 4h1v1h-1zm0 2h1v1h-1zm1 -44h1v1h-1zm0 8h1v1h-1zm0 5h1v1h-1zm0 4h1v1h-1zm0 3h1v1h-1zm0 15h1v1h-1zm0 4h1v1h-1zm0 1h1v1h-1zm1 -36h1v1h-1zm0 4h1v1h-1zm0 2h1v1h-1zm0 1h1v1h-1zm0 4h1v1h-1zm0 1h1v1h-1zm0 2h1v1h-1zm0 16h1v1h-1zm0 1h1v1h-1zm0 3h1v1h-1zm1 -26h1v1h-1zm0 1h1v1h-1zm0 1h1v1h-1zm0 15h1v1h-1zm0 9h1v1h-1zm0 1h1v1h-1zm0 1h1v1h-1zm0 5h1v1h-1zm0 1h1v1h-1zm1 -33h1v1h-1zm0 5h1v1h-1zm0 15h1v1h-1zm0 7h1v1h-1zm0 4h1v1h-1zm0 2h1v1h-1zm1 -40h1v1h-1zm0 6h1v1h-1zm0 3h1v1h-1zm0 3h1v1h-1zm0 15h1v1h-1zm0 2h1v1h-1zm0 3h1v1h-1zm1 -33h1v1h-1zm0 6h1v1h-1zm0 2h1v1h-1zm0 1h1v1h-1zm0 3h1v1h-1zm0 17h1v1h-1zm0 1h1v1h-1zm0 2h1v1h-1zm0 2h1v1h-1zm0 4h1v1h-1zm0 3h1v1h-1zm1 -39h1v1h-1zm0 3h1v1h-1zm0 5h1v1h-1zm0 2h1v1h-1zm0 13h1v1h-1zm0 11h1v1h-1zm0 1h1v1h-1zm0 2h1v1h-1zm0 3h1v1h-1zm1 -56h1v1h-1zm0 13h1v1h-1zm0 2h1v1h-1zm0 1h1v1h-1zm0 4h1v1h-1zm0 23h1v1h-1zm0 4h1v1h-1zm0 2h1v1h-1zm0 1h1v1h-1zm0 3h1v1h-1zm1 -8h1v1h-1zm0 2h1v1h-1zm0 2h1v1h-1zm0 2h1v1h-1zm0 4h1v1h-1zm0 1h1v1h-1zm1 -51h1v1h-1zm0 5h1v1h-1zm0 6h1v1h-1zm0 1h1v1h-1zm0 3h1v1h-1zm0 3h1v1h-1zm0 23h1v1h-1zm0 1h1v1h-1zm0 1h1v1h-1zm0 3h1v1h-1zm0 4h1v1h-1zm1 -45h1v1h-1zm0 4h1v1h-1zm0 1h1v1h-1zm0 2h1v1h-1zm0 4h1v1h-1zm0 2h1v1h-1zm0 22h1v1h-1zm0 2h1v1h-1zm0 1h1v1h-1zm0 2h1v1h-1zm0 4h1v1h-1zm0 1h1v1h-1zm1 -55h1v1h-1zm0 10h1v1h-1zm0 10h1v1h-1zm0 2h1v1h-1zm0 20h1v1h-1zm0 6h1v1h-1zm0 2h1v1h-1zm0 4h1v1h-1zm0 1h1v1h-1zm1 -39h1v1h-1zm0 2h1v1h-1zm0 1h1v1h-1zm0 2h1v1h-1zm0 29h1v1h-1zm0 1h1v1h-1zm0 4h1v1h-1zm1 -45h1v1h-1zm0 7h1v1h-1zm0 4h1v1h-1zm0 24h1v1h-1zm0 2h1v1h-1zm0 1h1v1h-1zm0 2h1v1h-1zm0 3h1v1h-1zm1 -46h1v1h-1zm0 11h1v1h-1zm0 2h1v1h-1zm0 20h1v1h-1zm0 2h1v1h-1zm0 7h1v1h-1zm0 3h1v1h-1zm1 -40h1v1h-1zm0 1h1v1h-1zm0 3h1v1h-1zm0 1h1v1h-1zm0 3h1v1h-1zm0 23h1v1h-1zm0 1h1v1h-1zm0 11h1v1h-1zm0 1h1v1h-1zm1 -53h1v1h-1zm0 12h1v1h-1zm0 1h1v1h-1zm0 3h1v1h-1zm0 28h1v1h-1zm0 8h1v1h-1zm1 -40h1v1h-1zm0 3h1v1h-1zm0 24h1v1h-1zm0 2h1v1h-1zm0 2h1v1h-1zm0 1h1v1h-1zm0 2h1v1h-1zm1 -45h1v1h-1zm0 6h1v1h-1zm0 1h1v1h-1zm0 2h1v1h-1zm0 5h1v1h-1zm0 4h1v1h-1zm0 20h1v1h-1zm0 2h1v1h-1zm0 6h1v1h-1zm1 -43h1v1h-1zm0 1h1v1h-1zm0 3h1v1h-1zm0 4h1v1h-1zm0 3h1v1h-1zm0 26h1v1h-1zm1 -34h1v1h-1zm0 1h1v1h-1zm0 1h1v1h-1zm0 1h1v1h-1zm0 3h1v1h-1zm0 25h1v1h-1zm0 3h1v1h-1zm0 1h1v1h-1zm0 1h1v1h-1zm1 -47h1v1h-1zm0 7h1v1h-1zm0 2h1v1h-1zm0 3h1v1h-1zm0 4h1v1h-1zm0 23h1v1h-1zm0 4h1v1h-1zm0 1h1v1h-1zm0 1h1v1h-1zm0 2h1v1h-1zm0 4h1v1h-1zm1 -59h1v1h-1zm0 11h1v1h-1zm0 9h1v1h-1zm0 5h1v1h-1zm0 28h1v1h-1zm0 4h1v1h-1zm0 3h1v1h-1zm1 -45h1v1h-1zm0 3h1v1h-1zm0 4h1v1h-1zm0 1h1v1h-1zm0 1h1v1h-1zm0 1h1v1h-1zm0 1h1v1h-1zm0 4h1v1h-1zm0 17h1v1h-1zm0 3h1v1h-1zm0 2h1v1h-1zm0 1h1v1h-1zm0 6h1v1h-1zm0 5h1v1h-1zm1 -42h1v1h-1zm0 1h1v1h-1zm0 1h1v1h-1zm0 27h1v1h-1zm0 1h1v1h-1zm0 3h1v1h-1zm0 1h1v1h-1zm1 -41h1v1h-1zm0 8h1v1h-1zm0 2h1v1h-1zm0 23h1v1h-1zm0 4h1v1h-1zm0 7h1v1h-1zm1 -41h1v1h-1zm0 3h1v1h-1zm0 1h1v1h-1zm0 4h1v1h-1zm0 1h1v1h-1zm0 21h1v1h-1zm0 2h1v1h-1zm0 1h1v1h-1zm0 3h1v1h-1zm0 1h1v1h-1zm1 -42h1v1h-1zm0 4h1v1h-1zm0 2h1v1h-1zm0 1h1v1h-1zm0 1h1v1h-1zm0 2h1v1h-1zm0 2h1v1h-1zm0 25h1v1h-1zm0 1h1v1h-1zm0 1h1v1h-1zm0 4h1v1h-1zm0 7h1v1h-1zm1 -53h1v1h-1zm0 12h1v1h-1zm0 26h1v1h-1zm0 6h1v1h-1zm0 1h1v1h-1zm1 -37h1v1h-1zm0 1h1v1h-1zm0 1h1v1h-1zm0 1h1v1h-1zm0 2h1v1h-1zm0 21h1v1h-1zm0 1h1v1h-1zm0 7h1v1h-1zm1 -34h1v1h-1zm0 5h1v1h-1zm0 2h1v1h-1zm0 1h1v1h-1zm0 21h1v1h-1zm0 1h1v1h-1zm0 1h1v1h-1zm0 1h1v1h-1zm0 1h1v1h-1zm0 1h1v1h-1zm0 1h1v1h-1zm1 -40h1v1h-1zm0 3h1v1h-1zm0 2h1v1h-1zm0 1h1v1h-1zm0 6h1v1h-1zm0 2h1v1h-1zm0 12h1v1h-1zm0 4h1v1h-1zm0 1h1v1h-1zm0 2h1v1h-1zm0 2h1v1h-1zm0 1h1v1h-1zm0 1h1v1h-1zm0 2h1v1h-1zm1 -41h1v1h-1zm0 3h1v1h-1zm0 7h1v1h-1zm0 3h1v1h-1zm0 1h1v1h-1zm0 2h1v1h-1zm0 18h1v1h-1zm0 6h1v1h-1zm0 1h1v1h-1zm1 -50h1v1h-1zm0 13h1v1h-1zm0 2h1v1h-1zm0 1h1v1h-1zm0 4h1v1h-1zm0 2h1v1h-1zm0 2h1v1h-1zm0 2h1v1h-1zm0 13h1v1h-1zm0 2h1v1h-1zm0 2h1v1h-1zm0 3h1v1h-1zm0 5h1v1h-1zm0 1h1v1h-1zm1 -42h1v1h-1zm0 7h1v1h-1zm0 1h1v1h-1zm0 1h1v1h-1zm0 2h1v1h-1zm0 4h1v1h-1zm0 2h1v1h-1zm0 4h1v1h-1zm0 2h1v1h-1zm0 1h1v1h-1zm0 2h1v1h-1zm0 3h1v1h-1zm0 2h1v1h-1zm0 1h1v1h-1zm0 1h1v1h-1zm1 -30h1v1h-1zm0 3h1v1h-1zm0 14h1v1h-1zm0 2h1v1h-1zm0 7h1v1h-1zm0 7h1v1h-1zm1 -36h1v1h-1zm0 4h1v1h-1zm0 2h1v1h-1zm0 2h1v1h-1zm0 1h1v1h-1zm0 3h1v1h-1zm0 3h1v1h-1zm0 4h1v1h-1zm0 5h1v1h-1zm0 5h1v1h-1zm0 2h1v1h-1zm0 5h1v1h-1zm0 1h1v1h-1zm1 -43h1v1h-1zm0 5h1v1h-1zm0 4h1v1h-1zm0 1h1v1h-1zm0 4h1v1h-1zm0 2h1v1h-1zm0 1h1v1h-1zm0 1h1v1h-1zm0 1h1v1h-1zm0 2h1v1h-1zm0 1h1v1h-1zm0 1h1v1h-1zm0 2h1v1h-1zm0 1h1v1h-1zm0 6h1v1h-1zm0 4h1v1h-1zm0 4h1v1h-1zm0 3h1v1h-1zm0 5h1v1h-1zm1 -46h1v1h-1zm0 7h1v1h-1zm0 4h1v1h-1zm0 2h1v1h-1zm0 7h1v1h-1zm0 2h1v1h-1zm0 6h1v1h-1zm0 2h1v1h-1zm0 2h1v1h-1zm0 3h1v1h-1zm0 1h1v1h-1zm0 2h1v1h-1zm0 6h1v1h-1zm1 -29h1v1h-1zm0 1h1v1h-1zm0 2h1v1h-1zm0 2h1v1h-1zm0 4h1v1h-1zm0 2h1v1h-1zm0 2h1v1h-1zm0 1h1v1h-1zm0 1h1v1h-1zm0 1h1v1h-1zm0 3h1v1h-1zm0 10h1v1h-1zm0 3h1v1h-1zm1 -41h1v1h-1zm0 3h1v1h-1zm0 2h1v1h-1zm0 2h1v1h-1zm0 2h1v1h-1zm0 2h1v1h-1zm0 1h1v1h-1zm0 1h1v1h-1zm0 1h1v1h-1zm0 1h1v1h-1zm0 2h1v1h-1zm0 5h1v1h-1zm0 1h1v1h-1zm0 6h1v1h-1zm1 -29h1v1h-1zm0 4h1v1h-1zm0 2h1v1h-1zm0 1h1v1h-1zm0 1h1v1h-1zm0 3h1v1h-1zm0 5h1v1h-1zm0 1h1v1h-1zm0 1h1v1h-1zm0 3h1v1h-1zm0 8h1v1h-1zm0 5h1v1h-1zm1 -30h1v1h-1zm0 1h1v1h-1zm0 3h1v1h-1zm0 2h1v1h-1zm0 1h1v1h-1zm0 2h1v1h-1zm0 1h1v1h-1zm0 3h1v1h-1zm0 2h1v1h-1zm0 1h1v1h-1zm0 1h1v1h-1zm0 2h1v1h-1zm0 2h1v1h-1zm0 4h1v1h-1zm0 1h1v1h-1zm0 1h1v1h-1zm0 5h1v1h-1zm1 -43h1v1h-1zm0 6h1v1h-1zm0 4h1v1h-1zm0 4h1v1h-1zm0 1h1v1h-1zm0 1h1v1h-1zm0 2h1v1h-1zm0 7h1v1h-1zm0 11h1v1h-1zm0 2h1v1h-1zm0 4h1v1h-1zm0 9h1v1h-1zm1 -50h1v1h-1zm0 6h1v1h-1zm0 1h1v1h-1zm0 9h1v1h-1zm0 1h1v1h-1zm0 5h1v1h-1zm0 1h1v1h-1zm0 1h1v1h-1zm0 4h1v1h-1zm0 1h1v1h-1zm0 6h1v1h-1zm1 -34h1v1h-1zm0 10h1v1h-1zm0 2h1v1h-1zm0 4h1v1h-1zm0 1h1v1h-1zm0 1h1v1h-1zm0 3h1v1h-1zm0 2h1v1h-1zm0 3h1v1h-1zm0 3h1v1h-1zm0 24h1v1h-1zm1 -52h1v1h-1zm0 4h1v1h-1zm0 4h1v1h-1zm0 2h1v1h-1zm0 2h1v1h-1zm0 1h1v1h-1zm0 1h1v1h-1zm0 3h1v1h-1zm0 1h1v1h-1zm0 1h1v1h-1zm0 3h1v1h-1zm0 7h1v1h-1zm0 19h1v1h-1zm1 -39h1v1h-1zm0 3h1v1h-1zm0 1h1v1h-1zm0 3h1v1h-1zm0 2h1v1h-1zm0 1h1v1h-1zm0 1h1v1h-1zm0 3h1v1h-1zm0 5h1v1h-1zm0 5h1v1h-1zm0 8h1v1h-1zm1 -45h1v1h-1zm0 14h1v1h-1zm0 2h1v1h-1zm0 5h1v1h-1zm0 1h1v1h-1zm0 1h1v1h-1zm0 5h1v1h-1zm0 14h1v1h-1zm1 -43h1v1h-1zm0 9h1v1h-1zm0 5h1v1h-1zm0 7h1v1h-1zm0 2h1v1h-1zm0 19h1v1h-1zm1 -41h1v1h-1zm0 12h1v1h-1zm0 5h1v1h-1zm0 2h1v1h-1zm0 8h1v1h-1zm0 3h1v1h-1zm1 -29h1v1h-1zm0 10h1v1h-1zm0 1h1v1h-1zm0 3h1v1h-1zm0 5h1v1h-1zm0 2h1v1h-1zm0 1h1v1h-1zm0 2h1v1h-1zm0 11h1v1h-1zm0 19h1v1h-1zm1 -47h1v1h-1zm0 3h1v1h-1zm0 7h1v1h-1zm0 1h1v1h-1zm0 3h1v1h-1zm0 6h1v1h-1zm1 -22h1v1h-1zm0 20h1v1h-1zm0 9h1v1h-1zm1 -37h1v1h-1zm0 12h1v1h-1zm0 1h1v1h-1zm0 10h1v1h-1zm1 -15h1v1h-1zm0 3h1v1h-1zm0 9h1v1h-1zm0 2h1v1h-1zm0 1h1v1h-1zm0 1h1v1h-1zm0 7h1v1h-1zm0 2h1v1h-1zm1 -13h1v1h-1zm1 -7h1v1h-1zm0 2h1v1h-1zm1 -19h1v1h-1zm0 9h1v1h-1zm0 11h1v1h-1zm0 3h1v1h-1zm0 6h1v1h-1zm0 6h1v1h-1zm1 -33h1v1h-1zm0 16h1v1h-1zm0 4h1v1h-1zm0 1h1v1h-1zm0 5h1v1h-1zm0 1h1v1h-1zm0 5h1v1h-1zm1 -24h1v1h-1zm0 16h1v1h-1zm0 7h1v1h-1zm1 -21h1v1h-1zm0 4h1v1h-1zm0 6h1v1h-1zm0 3h1v1h-1zm0 2h1v1h-1zm0 1h1v1h-1zm0 7h1v1h-1zm1 -7h1v1h-1zm0 4h1v1h-1zm0 1h1v1h-1zm1 -21h1v1h-1zm0 10h1v1h-1zm0 2h1v1h-1zm0 9h1v1h-1zm2 -7h1v1h-1zm0 1h1v1h-1zm1 -13h1v1h-1zm0 8h1v1h-1zm0 7h1v1h-1zm0 8h1v1h-1zm1 -14h1v1h-1zm0 1h1v1h-1zm0 17h1v1h-1zm0 1h1v1h-1zm1 -50h1v1h-1zm0 34h1v1h-1zm0 2h1v1h-1zm1 -7h1v1h-1zm0 10h1v1h-1zm1 -49h1v1h-1zm0 43h1v1h-1zm0 13h1v1h-1zm0 15h1v1h-1zm1 -55h1v1h-1zm0 61h1v1h-1zm1 -81h1v1h-1zm0 7h1v1h-1zm0 21h1v1h-1zm0 22h1v1h-1zm1 -40h1v1h-1zm0 37h1v1h-1zm1 -10h1v1h-1zm0 5h1v1h-1zm0 20h1v1h-1zm2 -56h1v1h-1zm0 5h1v1h-1zm1 -5h1v1h-1zm1 -10h1v1h-1zm0 80h1v1h-1zm1 -68h1v1h-1zm1 -12h1v1h-1zm0 14h1v1h-1zm2 -19h1v1h-1zm0 10h1v1h-1zm0 69h1v1h-1zm2 -63h1v1h-1zm1 -7h1v1h-1zm0 8h1v1h-1zm0 1h1v1h-1zm0 2h1v1h-1zm1 -10h1v1h-1zm0 1h1v1h-1zm0 6h1v1h-1zm0 76h1v1h-1zm1 -82h1v1h-1zm0 8h1v1h-1zm1 -13h1v1h-1zm0 6h1v1h-1zm0 3h1v1h-1zm0 2h1v1h-1zm1 -3h1v1h-1zm0 4h1v1h-1zm1 -9h1v1h-1zm0 3h1v1h-1zm0 1h1v1h-1zm0 4h1v1h-1zm1 -5h1v1h-1zm0 1h1v1h-1zm0 3h1v1h-1zm1 -9h1v1h-1zm0 5h1v1h-1zm0 1h1v1h-1zm0 1h1v1h-1zm0 10h1v1h-1zm1 -19h1v1h-1zm0 2h1v1h-1zm0 5h1v1h-1zm0 36h1v1h-1zm1 -39h1v1h-1zm1 -9h1v1h-1zm0 5h1v1h-1zm0 1h1v1h-1zm0 5h1v1h-1zm0 7h1v1h-1zm1 -6h1v1h-1zm1 -8h1v1h-1zm0 4h1v1h-1zm0 2h1v1h-1zm0 2h1v1h-1zm0 2h1v1h-1zm1 -11h1v1h-1zm0 7h1v1h-1zm0 1h1v1h-1zm0 2h1v1h-1zm0 2h1v1h-1zm0 1h1v1h-1zm0 2h1v1h-1zm1 -15h1v1h-1zm0 1h1v1h-1zm0 3h1v1h-1zm0 2h1v1h-1zm0 6h1v1h-1zm0 80h1v1h-1zm1 -93h1v1h-1zm0 5h1v1h-1zm0 1h1v1h-1zm0 1h1v1h-1zm0 4h1v1h-1zm0 34h1v1h-1zm0 17h1v1h-1zm1 -60h1v1h-1zm0 2h1v1h-1zm0 3h1v1h-1zm0 6h1v1h-1zm0 1h1v1h-1zm1 -10h1v1h-1zm0 1h1v1h-1zm0 1h1v1h-1zm0 1h1v1h-1zm0 4h1v1h-1zm0 1h1v1h-1zm1 -9h1v1h-1zm0 2h1v1h-1zm0 4h1v1h-1zm0 1h1v1h-1zm1 -6h1v1h-1zm0 3h1v1h-1zm1 -1h1v1h-1zm0 1h1v1h-1zm0 1h1v1h-1zm0 1h1v1h-1zm0 2h1v1h-1zm1 -12h1v1h-1zm0 3h1v1h-1zm0 2h1v1h-1zm0 2h1v1h-1zm0 4h1v1h-1zm0 2h1v1h-1zm1 -11h1v1h-1zm0 2h1v1h-1zm0 1h1v1h-1zm0 2h1v1h-1zm0 5h1v1h-1zm1 -13h1v1h-1zm0 8h1v1h-1zm0 1h1v1h-1zm1 -2h1v1h-1zm1 0h1v1h-1zm0 3h1v1h-1zm0 1h1v1h-1zm1 -10h1v1h-1zm0 4h1v1h-1zm0 1h1v1h-1zm0 2h1v1h-1zm0 2h1v1h-1zm1 -12h1v1h-1zm0 1h1v1h-1zm0 1h1v1h-1zm0 6h1v1h-1zm1 -2h1v1h-1zm0 4h1v1h-1zm0 1h1v1h-1zm0 5h1v1h-1zm1 -10h1v1h-1zm0 7h1v1h-1zm1 -1h1v1h-1zm1 -3h1v1h-1zm0 2h1v1h-1zm0 15h1v1h-1zm1 -22h1v1h-1zm0 9h1v1h-1zm1 -13h1v1h-1zm0 7h1v1h-1zm1 -5h1v1h-1zm0 7h1v1h-1zm0 1h1v1h-1zm0 53h1v1h-1zm1 -52h1v1h-1zm2 -2h1v1h-1zm0 69h1v1h-1zm1 -73h1v1h-1zm0 6h1v1h-1zm2 -4h1v1h-1zm1 3h1v1h-1zm2 -1h1v1h-1zm1 37h1v1h-1z" fill="#e62020" fill-opacity="0.55"/>
<path d="M456 134h1v1h-1zm0 10h1v1h-1zm0 1h1v1h-1zm0 5h1v1h-1zm1 -15h1v1h-1zm0 6h1v1h-1zm0 2h1v1h-1zm0 1h1v1h-1zm0 1h1v1h-1zm0 1h1v1h-1zm0 1h1v1h-1zm0 7h1v1h-1zm1 -19h1v1h-1zm1 5h1v1h-1zm0 9h1v1h-1zm1 -17h1v1h-1zm0 1h1v1h-1zm0 7h1v1h-1zm0 11h1v1h-1zm1 -15h1v1h-1zm0 3h1v1h-1zm0 5h1v1h-1zm0 4h1v1h-1zm0 1h1v1h-1zm0 9h1v1h-1zm1 -18h1v1h-1zm0 1h1v1h-1zm0 3h1v1h-1zm0 1h1v1h-1zm0 1h1v1h-1zm0 2h1v1h-1zm1 -16h1v1h-1zm0 14h1v1h-1zm0 1h1v1h-1zm1 -17h1v1h-1zm0 5h1v1h-1zm0 4h1v1h-1zm0 8h1v1h-1zm0 3h1v1h-1zm1 -25h1v1h-1zm0 3h1v1h-1zm0 5h1v1h-1zm0 2h1v1h-1zm0 6h1v1h-1zm0 2h1v1h-1zm0 2h1v1h-1zm0 3h1v1h-1zm0 6h1v1h-1zm1 -24h1v1h-1zm0 1h1v1h-1zm0 1h1v1h-1zm0 2h1v1h-1zm0 9h1v1h-1zm0 9h1v1h-1zm1 -24h1v1h-1zm0 3h1v1h-1zm0 2h1v1h-1zm0 1h1v1h-1zm0 8h1v1h-1zm0 3h1v1h-1zm0 3h1v1h-1zm0 2h1v1h-1zm0 3h1v1h-1zm1 -22h1v1h-1zm0 13h1v1h-1zm0 5h1v1h-1zm0 7h1v1h-1zm1 -25h1v1h-1zm0 11h1v1h-1zm0 5h1v1h-1zm0 2h1v1h-1zm0 4h1v1h-1zm1 -20h1v1h-1zm0 2h1v1h-1zm0 11h1v1h-1zm0 5h1v1h-1zm1 -30h1v1h-1zm0 7h1v1h-1zm0 9h1v1h-1zm0 4h1v1h-1zm0 7h1v1h-1zm1 -29h1v1h-1zm0 9h1v1h-1zm0 2h1v1h-1zm0 2h1v1h-1zm0 8h1v1h-1zm0 10h1v1h-1zm1 -27h1v1h-1zm0 1h1v1h-1zm0 7h1v1h-1zm0 14h1v1h-1zm0 1h1v1h-1zm0 6h1v1h-1zm1 -32h1v1h-1zm0 5h1v1h-1zm0 18h1v1h-1zm0 8h1v1h-1zm0 7h1v1h-1zm1 -39h1v1h-1zm0 2h1v1h-1zm0 3h1v1h-1zm0 20h1v1h-1zm0 2h1v1h-1zm0 1h1v1h-1zm1 -23h1v1h-1zm0 19h1v1h-1zm0 2h1v1h-1zm1 -24h1v1h-1zm0 1h1v1h-1zm0 1h1v1h-1zm0 17h1v1h-1zm0 4h1v1h-1zm1 -29h1v1h-1zm0 2h1v1h-1zm0 7h1v1h-1zm0 22h1v1h-1zm0 1h1v1h-1zm1 -22h1v1h-1zm0 18h1v1h-1zm0 2h1v1h-1zm0 5h1v1h-1zm1 -32h1v1h-1zm0 3h1v1h-1zm0 1h1v1h-1zm1 25h1v1h-1zm1 -26h1v1h-1zm0 1h1v1h-1zm0 22h1v1h-1zm0 5h1v1h-1zm0 3h1v1h-1zm1 -37h1v1h-1zm0 5h1v1h-1zm0 1h1v1h-1zm0 4h1v1h-1zm0 19h1v1h-1zm0 1h1v1h-1zm0 1h1v1h-1zm1 -38h1v1h-1zm0 33h1v1h-1zm0 2h1v1h-1zm0 5h1v1h-1zm0 10h1v1h-1zm1 -43h1v1h-1zm0 4h1v1h-1zm0 3h1v1h-1zm0 4h1v1h-1zm0 2h1v1h-1zm0 15h1v1h-1zm0 3h1v1h-1zm0 2h1v1h-1zm0 1h1v1h-1zm0 3h1v1h-1zm1 -11h1v1h-1zm0 4h1v1h-1zm0 1h1v1h-1zm1 -28h1v1h-1zm0 2h1v1h-1zm0 2h1v1h-1zm0 23h1v1h-1zm0 1h1v1h-1zm1 -27h1v1h-1zm0 25h1v1h-1zm1 -23h1v1h-1zm1 -11h1v1h-1zm0 1h1v1h-1zm0 4h1v1h-1zm1 0h1v1h-1zm0 5h1v1h-1zm0 5h1v1h-1zm0 9h1v1h-1zm0 6h1v1h-1zm0 3h1v1h-1zm0 4h1v1h-1zm1 -31h1v1h-1zm0 6h1v1h-1zm0 23h1v1h-1zm0 2h1v1h-1zm1 -6h1v1h-1zm0 2h1v1h-1zm1 -15h1v1h-1zm0 11h1v1h-1zm0 2h1v1h-1zm0 1h1v1h-1zm1 -30h1v1h-1zm0 3h1v1h-1zm0 2h1v1h-1zm0 3h1v1h-1zm0 1h1v1h-1zm0 14h1v1h-1zm0 8h1v1h-1zm0 1h1v1h-1zm1 -24h1v1h-1zm0 14h1v1h-1zm0 8h1v1h-1zm0 5h1v1h-1zm1 -19h1v1h-1zm0 2h1v1h-1zm0 8h1v1h-1zm0 1h1v1h-1zm1 -22h1v1h-1zm0 6h1v1h-1zm1 -10h1v1h-1zm0 4h1v1h-1zm0 3h1v1h-1zm0 6h1v1h-1zm0 3h1v1h-1zm0 4h1v1h-1zm0 3h1v1h-1zm0 4h1v1h-1zm1 -25h1v1h-1zm0 6h1v1h-1zm0 2h1v1h-1zm0 6h1v1h-1zm0 1h1v1h-1zm0 2h1v1h-1zm0 2h1v1h-1zm0 6h1v1h-1zm1 -14h1v1h-1zm0 5h1v1h-1zm0 9h1v1h-1zm1 -23h1v1h-1zm0 3h1v1h-1zm0 2h1v1h-1zm0 5h1v1h-1zm0 2h1v1h-1zm0 4h1v1h-1zm0 7h1v1h-1zm1 -21h1v1h-1zm0 8h1v1h-1zm0 2h1v1h-1zm0 7h1v1h-1zm0 2h1v1h-1zm0 2h1v1h-1zm0 1h1v1h-1zm0 4h1v1h-1zm1 -25h1v1h-1zm0 8h1v1h-1zm0 3h1v1h-1zm1 -13h1v1h-1zm0 8h1v1h-1zm0 5h1v1h-1zm0 2h1v1h-1zm0 9h1v1h-1zm1 -18h1v1h-1zm0 1h1v1h-1zm0 2h1v1h-1zm0 2h1v1h-1zm1 -11h1v1h-1zm0 16h1v1h-1zm0 4h1v1h-1zm1 -21h1v1h-1zm0 3h1v1h-1zm0 2h1v1h-1zm1 2h1v1h-1zm0 2h1v1h-1zm1 -8h1v1h-1zm0 3h1v1h-1zm1 -7h1v1h-1zm0 2h1v1h-1zm0 5h1v1h-1zm0 6h1v1h-1zm1 -4h1v1h-1zm0 7h1v1h-1zm1 -2h1v1h-1zm0 4h1v1h-1zm1 -23h1v1h-1zm0 5h1v1h-1zm0 7h1v1h-1zm1 9h1v1h-1zm1 2h1v1h-1zm1 -17h1v1h-1zm0 6h1v1h-1zm0 3h1v1h-1zm1 5h1v1h-1zm4 -6h1v1h-1zm6 2h1v1h-1zm15 -45h1v1h-1zm10 -2h1v1h-1zm3 0h1v1h-1zm5 -4h1v1h-1zm4 3h1v1h-1zm1 -8h1v1h-1zm0 4h1v1h-1zm3 -6h1v1h-1zm0 7h1v1h-1zm1 -1h1v1h-1zm2 -3h1v1h-1zm1 2h1v1h-1zm2 -5h1v1h-1zm1 1h1v1h-1zm1 3h1v1h-1zm4 -1h1v1h-1z" fill="#f41010" fill-opacity="0.8"/>
<path d="M456 140h1v1h-1zm0 9h1v1h-1zm1 -9h1v1h-1zm0 2h1v1h-1zm2 -5h1v1h-1zm0 1h1v1h-1zm0 7h1v1h-1zm1 1h1v1h-1zm1 -16h1v1h-1zm0 12h1v1h-1zm0 3h1v1h-1zm1 -10h1v1h-1zm0 8h1v1h-1zm1 -9h1v1h-1zm0 4h1v1h-1zm0 1h1v1h-1zm0 2h1v1h-1zm0 7h1v1h-1zm1 -12h1v1h-1zm0 1h1v1h-1zm0 1h1v1h-1zm0 4h1v1h-1zm0 1h1v1h-1zm0 2h1v1h-1zm1 -15h1v1h-1zm0 6h1v1h-1zm0 2h1v1h-1zm0 1h1v1h-1zm0 3h1v1h-1zm0 4h1v1h-1zm1 -11h1v1h-1zm0 1h1v1h-1zm0 1h1v1h-1zm0 1h1v1h-1zm0 2h1v1h-1zm0 2h1v1h-1zm0 3h1v1h-1zm0 2h1v1h-1zm1 -17h1v1h-1zm0 5h1v1h-1zm0 1h1v1h-1zm0 1h1v1h-1zm0 1h1v1h-1zm0 1h1v1h-1zm0 1h1v1h-1zm0 1h1v1h-1zm0 2h1v1h-1zm0 1h1v1h-1zm0 2h1v1h-1zm1 -17h1v1h-1zm0 3h1v1h-1zm0 1h1v1h-1zm0 1h1v1h-1zm0 1h1v1h-1zm0 1h1v1h-1zm0 1h1v1h-1zm0 1h1v1h-1zm0 1h1v1h-1zm0 1h1v1h-1zm0 1h1v1h-1zm0 1h1v1h-1zm0 1h1v1h-1zm0 2h1v1h-1zm0 3h1v1h-1zm1 -21h1v1h-1zm0 2h1v1h-1zm0 1h1v1h-1zm0 2h1v1h-1zm0 1h1v1h-1zm0 1h1v1h-1zm0 1h1v1h-1zm0 1h1v1h-1zm0 1h1v1h-1zm0 1h1v1h-1zm0 1h1v1h-1zm0 1h1v1h-1zm0 3h1v1h-1zm0 1h1v1h-1zm0 1h1v1h-1zm0 1h1v1h-1zm1 -18h1v1h-1zm0 1h1v1h-1zm0 2h1v1h-1zm0 1h1v1h-1zm0 2h1v1h-1zm0 2h1v1h-1zm0 1h1v1h-1zm0 1h1v1h-1zm0 1h1v1h-1zm0 1h1v1h-1zm0 1h1v1h-1zm0 1h1v1h-1zm0 1h1v1h-1zm0 1h1v1h-1zm0 3h1v1h-1zm0 1h1v1h-1zm0 2h1v1h-1zm1 -21h1v1h-1zm0 2h1v1h-1zm0 1h1v1h-1zm0 1h1v1h-1zm0 1h1v1h-1zm0 1h1v1h-1zm0 1h1v1h-1zm0 2h1v1h-1zm0 1h1v1h-1zm0 1h1v1h-1zm0 2h1v1h-1zm0 1h1v1h-1zm0 1h1v1h-1zm0 2h1v1h-1zm0 5h1v1h-1zm1 -24h1v1h-1zm0 4h1v1h-1zm0 2h1v1h-1zm0 1h1v1h-1zm0 1h1v1h-1zm0 1h1v1h-1zm0 1h1v1h-1zm0 1h1v1h-1zm0 1h1v1h-1zm0 2h1v1h-1zm0 1h1v1h-1zm0 1h1v1h-1zm0 1h1v1h-1zm0 1h1v1h-1zm0 3h1v1h-1zm1 -23h1v1h-1zm0 3h1v1h-1zm0 4h1v1h-1zm0 1h1v1h-1zm0 1h1v1h-1zm0 1h1v1h-1zm0 1h1v1h-1zm0 1h1v1h-1zm0 1h1v1h-1zm0 1h1v1h-1zm0 1h1v1h-1zm0 1h1v1h-1zm0 2h1v1h-1zm0 1h1v1h-1zm0 4h1v1h-1zm0 1h1v1h-1zm1 -23h1v1h-1zm0 1h1v1h-1zm0 1h1v1h-1zm0 1h1v1h-1zm0 1h1v1h-1zm0 1h1v1h-1zm0 1h1v1h-1zm0 1h1v1h-1zm0 1h1v1h-1zm0 1h1v1h-1zm0 1h1v1h-1zm0 1h1v1h-1zm0 1h1v1h-1zm0 1h1v1h-1zm0 1h1v1h-1zm0 1h1v1h-1zm0 1h1v1h-1zm0 2h1v1h-1zm0 1h1v1h-1zm0 2h1v1h-1zm0 1h1v1h-1zm1 -25h1v1h-1zm0 2h1v1h-1zm0 1h1v1h-1zm0 1h1v1h-1zm0 1h1v1h-1zm0 1h1v1h-1zm0 1h1v1h-1zm0 1h1v1h-1zm0 1h1v1h-1zm0 1h1v1h-1zm0 1h1v1h-1zm0 1h1v1h-1zm0 1h1v1h-1zm0 1h1v1h-1zm0 1h1v1h-1zm0 1h1v1h-1zm0 1h1v1h-1zm0 1h1v1h-1zm0 1h1v1h-1zm0 1h1v1h-1zm0 2h1v1h-1zm0 4h1v1h-1zm1 -24h1v1h-1zm0 2h1v1h-1zm0 1h1v1h-1zm0 1h1v1h-1zm0 1h1v1h-1zm0 1h1v1h-1zm0 1h1v1h-1zm0 1h1v1h-1zm0 1h1v1h-1zm0 1h1v1h-1zm0 1h1v1h-1zm0 1h1v1h-1zm0 1h1v1h-1zm0 1h1v1h-1zm0 1h1v1h-1zm0 1h1v1h-1zm0 1h1v1h-1zm0 2h1v1h-1zm0 2h1v1h-1zm0 2h1v1h-1zm1 -23h1v1h-1zm0 2h1v1h-1zm0 1h1v1h-1zm0 1h1v1h-1zm0 1h1v1h-1zm0 1h1v1h-1zm0 1h1v1h-1zm0 1h1v1h-1zm0 1h1v1h-1zm0 1h1v1h-1zm0 1h1v1h-1zm0 1h1v1h-1zm0 1h1v1h-1zm0 1h1v1h-1zm0 2h1v1h-1zm0 1h1v1h-1zm0 1h1v1h-1zm0 2h1v1h-1zm0 1h1v1h-1zm0 1h1v1h-1zm0 2h1v1h-1zm1 -27h1v1h-1zm0 4h1v1h-1zm0 1h1v1h-1zm0 1h1v1h-1zm0 1h1v1h-1zm0 1h1v1h-1zm0 1h1v1h-1zm0 1h1v1h-1zm0 1h1v1h-1zm0 1h1v1h-1zm0 1h1v1h-1zm0 1h1v1h-1zm0 1h1v1h-1zm0 1h1v1h-1zm0 1h1v1h-1zm0 1h1v1h-1zm0 1h1v1h-1zm0 1h1v1h-1zm0 1h1v1h-1zm0 1h1v1h-1zm1 -21h1v1h-1zm0 3h1v1h-1zm0 1h1v1h-1zm0 1h1v1h-1zm0 1h1v1h-1zm0 1h1v1h-1zm0 1h1v1h-1zm0 1h1v1h-1zm0 1h1v1h-1zm0 1h1v1h-1zm0 1h1v1h-1zm0 1h1v1h-1zm0 1h1v1h-1zm0 1h1v1h-1zm0 1h1v1h-1zm0 1h1v1h-1zm0 1h1v1h-1zm0 1h1v1h-1zm0 2h1v1h-1zm0 2h1v1h-1zm0 1h1v1h-1zm0 1h1v1h-1zm1 -25h1v1h-1zm0 2h1v1h-1zm0 1h1v1h-1zm0 1h1v1h-1zm0 1h1v1h-1zm0 1h1v1h-1zm0 1h1v1h-1zm0 1h1v1h-1zm0 1h1v1h-1zm0 1h1v1h-1zm0 1h1v1h-1zm0 1h1v1h-1zm0 1h1v1h-1zm0 1h1v1h-1zm0 1h1v1h-1zm0 1h1v1h-1zm0 1h1v1h-1zm0 1h1v1h-1zm0 1h1v1h-1zm0 1h1v1h-1zm0 1h1v1h-1zm0 1h1v1h-1zm0 1h1v1h-1zm0 3h1v1h-1zm0 9h1v1h-1zm1 -39h1v1h-1zm0 3h1v1h-1zm0 2h1v1h-1zm0 1h1v1h-1zm0 1h1v1h-1zm0 1h1v1h-1zm0 1h1v1h-1zm0 1h1v1h-1zm0 1h1v1h-1zm0 1h1v1h-1zm0 1h1v1h-1zm0 1h1v1h-1zm0 1h1v1h-1zm0 1h1v1h-1zm0 1h1v1h-1zm0 1h1v1h-1zm0 1h1v1h-1zm0 1h1v1h-1zm0 1h1v1h-1zm0 1h1v1h-1zm0 1h1v1h-1zm0 2h1v1h-1zm0 2h1v1h-1zm0 3h1v1h-1zm0 1h1v1h-1zm1 -26h1v1h-1zm0 1h1v1h-1zm0 1h1v1h-1zm0 1h1v1h-1zm0 1h1v1h-1zm0 1h1v1h-1zm0 1h1v1h-1zm0 1h1v1h-1zm0 1h1v1h-1zm0 1h1v1h-1zm0 1h1v1h-1zm0 1h1v1h-1zm0 1h1v1h-1zm0 1h1v1h-1zm0 1h1v1h-1zm0 1h1v1h-1zm0 1h1v1h-1zm0 1h1v1h-1zm0 1h1v1h-1zm1 -19h1v1h-1zm0 1h1v1h-1zm0 2h1v1h-1zm0 1h1v1h-1zm0 1h1v1h-1zm0 1h1v1h-1zm0 1h1v1h-1zm0 1h1v1h-1zm0 1h1v1h-1zm0 1h1v1h-1zm0 1h1v1h-1zm0 1h1v1h-1zm0 1h1v1h-1zm0 1h1v1h-1zm0 1h1v1h-1zm0 1h1v1h-1zm0 1h1v1h-1zm0 1h1v1h-1zm0 1h1v1h-1zm0 1h1v1h-1zm0 4h1v1h-1zm1 -25h1v1h-1zm0 1h1v1h-1zm0 1h1v1h-1zm0 1h1v1h-1zm0 1h1v1h-1zm0 1h1v1h-1zm0 1h1v1h-1zm0 1h1v1h-1zm0 1h1v1h-1zm0 1h1v1h-1zm0 1h1v1h-1zm0 1h1v1h-1zm0 1h1v1h-1zm0 1h1v1h-1zm0 1h1v1h-1zm0 1h1v1h-1zm0 1h1v1h-1zm0 1h1v1h-1zm0 1h1v1h-1zm0 2h1v1h-1zm0 2h1v1h-1zm0 2h1v1h-1zm1 -26h1v1h-1zm0 3h1v1h-1zm0 1h1v1h-1zm0 3h1v1h-1zm0 2h1v1h-1zm0 1h1v1h-1zm0 1h1v1h-1zm0 1h1v1h-1zm0 1h1v1h-1zm0 1h1v1h-1zm0 1h1v1h-1zm0 1h1v1h-1zm0 1h1v1h-1zm0 1h1v1h-1zm0 1h1v1h-1zm0 1h1v1h-1zm0 1h1v1h-1zm0 1h1v1h-1zm0 2h1v1h-1zm1 -24h1v1h-1zm0 2h1v1h-1zm0 1h1v1h-1zm0 1h1v1h-1zm0 1h1v1h-1zm0 1h1v1h-1zm0 1h1v1h-1zm0 1h1v1h-1zm0 1h1v1h-1zm0 1h1v1h-1zm0 1h1v1h-1zm0 1h1v1h-1zm0 1h1v1h-1zm0 1h1v1h-1zm0 1h1v1h-1zm0 1h1v1h-1zm0 1h1v1h-1zm0 1h1v1h-1zm0 1h1v1h-1zm0 1h1v1h-1zm0 2h1v1h-1zm0 1h1v1h-1zm0 1h1v1h-1zm1 -23h1v1h-1zm0 2h1v1h-1zm0 1h1v1h-1zm0 1h1v1h-1zm0 1h1v1h-1zm0 1h1v1h-1zm0 1h1v1h-1zm0 1h1v1h-1zm0 1h1v1h-1zm0 1h1v1h-1zm0 1h1v1h-1zm0 1h1v1h-1zm0 1h1v1h-1zm0 1h1v1h-1zm0 1h1v1h-1zm0 1h1v1h-1zm0 1h1v1h-1zm0 1h1v1h-1zm0 1h1v1h-1zm0 1h1v1h-1zm0 1h1v1h-1zm0 1h1v1h-1zm1 -23h1v1h-1zm0 1h1v1h-1zm0 1h1v1h-1zm0 1h1v1h-1zm0 1h1v1h-1zm0 1h1v1h-1zm0 1h1v1h-1zm0 1h1v1h-1zm0 1h1v1h-1zm0 1h1v1h-1zm0 1h1v1h-1zm0 1h1v1h-1zm0 1h1v1h-1zm0 1h1v1h-1zm0 1h1v1h-1zm0 1h1v1h-1zm0 1h1v1h-1zm0 1h1v1h-1zm0 1h1v1h-1zm0 1h1v1h-1zm0 1h1v1h-1zm0 2h1v1h-1zm0 1h1v1h-1zm1 -25h1v1h-1zm0 2h1v1h-1zm0 2h1v1h-1zm0 1h1v1h-1zm0 1h1v1h-1zm0 1h1v1h-1zm0 1h1v1h-1zm0 1h1v1h-1zm0 1h1v1h-1zm0 1h1v1h-1zm0 1h1v1h-1zm0 1h1v1h-1zm0 1h1v1h-1zm0 1h1v1h-1zm0 1h1v1h-1zm0 1h1v1h-1zm0 1h1v1h-1zm0 1h1v1h-1zm0 1h1v1h-1zm0 1h1v1h-1zm0 1h1v1h-1zm0 1h1v1h-1zm0 1h1v1h-1zm0 1h1v1h-1zm0 1h1v1h-1zm1 -23h1v1h-1zm0 1h1v1h-1zm0 1h1v1h-1zm0 2h1v1h-1zm0 1h1v1h-1zm0 1h1v1h-1zm0 1h1v1h-1zm0 1h1v1h-1zm0 1h1v1h-1zm0 1h1v1h-1zm0 1h1v1h-1zm0 1h1v1h-1zm0 1h1v1h-1zm0 1h1v1h-1zm0 1h1v1h-1zm0 1h1v1h-1zm0 1h1v1h-1zm0 1h1v1h-1zm0 1h1v1h-1zm0 2h1v1h-1zm0 1h1v1h-1zm1 -24h1v1h-1zm0 2h1v1h-1zm0 1h1v1h-1zm0 1h1v1h-1zm0 1h1v1h-1zm0 2h1v1h-1zm0 1h1v1h-1zm0 1h1v1h-1zm0 1h1v1h-1zm0 1h1v1h-1zm0 1h1v1h-1zm0 1h1v1h-1zm0 1h1v1h-1zm0 2h1v1h-1zm0 1h1v1h-1zm0 1h1v1h-1zm0 1h1v1h-1zm0 1h1v1h-1zm0 2h1v1h-1zm0 1h1v1h-1zm1 -22h1v1h-1zm0 1h1v1h-1zm0 2h1v1h-1zm0 1h1v1h-1zm0 1h1v1h-1zm0 1h1v1h-1zm0 1h1v1h-1zm0 1h1v1h-1zm0 1h1v1h-1zm0 1h1v1h-1zm0 1h1v1h-1zm0 1h1v1h-1zm0 1h1v1h-1zm0 1h1v1h-1zm0 1h1v1h-1zm0 1h1v1h-1zm0 1h1v1h-1zm0 1h1v1h-1zm0 1h1v1h-1zm0 1h1v1h-1zm0 1h1v1h-1zm1 -24h1v1h-1zm0 1h1v1h-1zm0 1h1v1h-1zm0 3h1v1h-1zm0 1h1v1h-1zm0 1h1v1h-1zm0 1h1v1h-1zm0 1h1v1h-1zm0 1h1v1h-1zm0 1h1v1h-1zm0 1h1v1h-1zm0 1h1v1h-1zm0 1h1v1h-1zm0 1h1v1h-1zm0 1h1v1h-1zm0 1h1v1h-1zm0 1h1v1h-1zm0 1h1v1h-1zm0 1h1v1h-1zm0 1h1v1h-1zm0 1h1v1h-1zm0 1h1v1h-1zm0 6h1v1h-1zm1 -30h1v1h-1zm0 4h1v1h-1zm0 1h1v1h-1zm0 1h1v1h-1zm0 1h1v1h-1zm0 1h1v1h-1zm0 1h1v1h-1zm0 1h1v1h-1zm0 1h1v1h-1zm0 2h1v1h-1zm0 1h1v1h-1zm0 1h1v1h-1zm0 1h1v1h-1zm0 1h1v1h-1zm0 1h1v1h-1zm0 1h1v1h-1zm0 1h1v1h-1zm0 1h1v1h-1zm0 1h1v1h-1zm0 2h1v1h-1zm1 -21h1v1h-1zm0 3h1v1h-1zm0 1h1v1h-1zm0 1h1v1h-1zm0 1h1v1h-1zm0 1h1v1h-1zm0 1h1v1h-1zm0 1h1v1h-1zm0 1h1v1h-1zm0 1h1v1h-1zm0 1h1v1h-1zm0 1h1v1h-1zm0 1h1v1h-1zm0 1h1v1h-1zm0 2h1v1h-1zm0 1h1v1h-1zm0 1h1v1h-1zm0 1h1v1h-1zm0 1h1v1h-1zm0 1h1v1h-1zm1 -22h1v1h-1zm0 2h1v1h-1zm0 1h1v1h-1zm0 1h1v1h-1zm0 1h1v1h-1zm0 1h1v1h-1zm0 1h1v1h-1zm0 1h1v1h-1zm0 1h1v1h-1zm0 1h1v1h-1zm0 1h1v1h-1zm0 1h1v1h-1zm0 1h1v1h-1zm0 1h1v1h-1zm0 2h1v1h-1zm0 1h1v1h-1zm0 1h1v1h-1zm0 3h1v1h-1zm1 -19h1v1h-1zm0 1h1v1h-1zm0 1h1v1h-1zm0 1h1v1h-1zm0 1h1v1h-1zm0 1h1v1h-1zm0 1h1v1h-1zm0 2h1v1h-1zm0 2h1v1h-1zm0 1h1v1h-1zm0 1h1v1h-1zm0 1h1v1h-1zm0 1h1v1h-1zm0 1h1v1h-1zm1 -14h1v1h-1zm0 2h1v1h-1zm0 1h1v1h-1zm0 1h1v1h-1zm0 1h1v1h-1zm0 1h1v1h-1zm0 1h1v1h-1zm0 1h1v1h-1zm0 1h1v1h-1zm0 1h1v1h-1zm0 2h1v1h-1zm0 1h1v1h-1zm0 1h1v1h-1zm1 -14h1v1h-1zm0 1h1v1h-1zm0 1h1v1h-1zm0 1h1v1h-1zm0 2h1v1h-1zm0 1h1v1h-1zm0 2h1v1h-1zm0 1h1v1h-1zm0 1h1v1h-1zm0 2h1v1h-1zm0 1h1v1h-1zm1 -18h1v1h-1zm0 2h1v1h-1zm0 5h1v1h-1zm0 1h1v1h-1zm0 1h1v1h-1zm0 1h1v1h-1zm0 1h1v1h-1zm0 3h1v1h-1zm0 2h1v1h-1zm0 8h1v1h-1zm1 -19h1v1h-1zm0 2h1v1h-1zm0 1h1v1h-1zm0 3h1v1h-1zm0 5h1v1h-1zm0 1h1v1h-1zm0 2h1v1h-1zm1 -21h1v1h-1zm0 3h1v1h-1zm0 3h1v1h-1zm0 2h1v1h-1zm0 1h1v1h-1zm0 1h1v1h-1zm0 5h1v1h-1zm0 1h1v1h-1zm0 1h1v1h-1zm0 2h1v1h-1zm1 -14h1v1h-1zm0 3h1v1h-1zm0 1h1v1h-1zm0 2h1v1h-1zm0 2h1v1h-1zm0 3h1v1h-1zm0 1h1v1h-1zm0 1h1v1h-1zm0 1h1v1h-1zm1 -10h1v1h-1zm0 3h1v1h-1zm0 2h1v1h-1zm1 -9h1v1h-1zm0 1h1v1h-1zm0 6h1v1h-1zm0 1h1v1h-1zm0 1h1v1h-1zm1 -14h1v1h-1zm0 8h1v1h-1zm1 -7h1v1h-1zm0 11h1v1h-1zm1 8h1v1h-1zm0 3h1v1h-1zm2 -13h1v1h-1zm5 10h1v1h-1zm40 -63h1v1h-1zm1 0h1v1h-1zm0 2h1v1h-1zm4 -3h1v1h-1zm4 1h1v1h-1zm0 4h1v1h-1zm5 -3h1v1h-1zm13 -7h1v1h-1z" fill="#ff0000" fill-opacity="1.0"/>
<rect x="455.5" y="24.5" width="144" height="136" fill="none" stroke="#4a4a4a" stroke-width="1.1"/>
<line x1="514.5" y1="24.5" x2="514.5" y2="160.5" stroke="#555" stroke-width="1.1"/>
<line x1="455.5" y1="104.5" x2="599.5" y2="104.5" stroke="#555" stroke-width="1.1"/>
<rect x="507.6" y="23.7" width="5" height="1.6" fill="#111"/>
<rect x="545.8" y="23.7" width="5" height="1.6" fill="#111"/>
<path d="M452.5 159.28H455.3M452.5 155.01H455.3M452.5 151.7H455.3M452.5 148.99H455.3M452.5 146.7H455.3M452.5 144.71H455.3M452.5 142.96H455.3M450.5 141.4H455.3M452.5 131.1H455.3M452.5 125.08H455.3M452.5 120.81H455.3M452.5 117.5H455.3M452.5 114.79H455.3M452.5 112.5H455.3M452.5 110.51H455.3M452.5 108.76H455.3M450.5 107.2H455.3M452.5 96.9H455.3M452.5 90.88H455.3M452.5 86.61H455.3M452.5 83.3H455.3M452.5 80.59H455.3M452.5 78.3H455.3M452.5 76.31H455.3M452.5 74.56H455.3M450.5 73H455.3M452.5 62.7H455.3M452.5 56.68H455.3M452.5 52.41H455.3M452.5 49.1H455.3M452.5 46.39H455.3M452.5 44.1H455.3M452.5 42.11H455.3M452.5 40.36H455.3M450.5 38.8H455.3M452.5 28.5H455.3M459.87 160.7V163.7M463.36 160.7V163.7M466.21 160.7V163.7M468.62 160.7V163.7M470.71 160.7V163.7M472.55 160.7V163.7M474.2 160.7V165.5M485.04 160.7V163.7M491.38 160.7V163.7M495.87 160.7V163.7M499.36 160.7V163.7M502.21 160.7V163.7M504.62 160.7V163.7M506.71 160.7V163.7M508.55 160.7V163.7M510.2 160.7V165.5M521.04 160.7V163.7M527.38 160.7V163.7M531.87 160.7V163.7M535.36 160.7V163.7M538.21 160.7V163.7M540.62 160.7V163.7M542.71 160.7V163.7M544.55 160.7V163.7M546.2 160.7V165.5M557.04 160.7V163.7M563.38 160.7V163.7M567.87 160.7V163.7M571.36 160.7V163.7M574.21 160.7V163.7M576.62 160.7V163.7M578.71 160.7V163.7M580.55 160.7V163.7M582.2 160.7V165.5M593.04 160.7V163.7" stroke="#333" stroke-width="1" fill="none"/>
<text transform="translate(449.3 142.9) rotate(-90)" font-size="6" font-family="Liberation Sans" text-anchor="middle" fill="#222">10<tspan dy="-2.4" font-size="4.3">2</tspan></text>
<text x="475.7" y="172.3" font-size="6" font-family="Liberation Sans" text-anchor="middle" fill="#222">10<tspan dy="-2.4" font-size="4.3">2</tspan></text>
<text transform="translate(449.3 108.7) rotate(-90)" font-size="6" font-family="Liberation Sans" text-anchor="middle" fill="#222">10<tspan dy="-2.4" font-size="4.3">3</tspan></text>
<text x="511.7" y="172.3" font-size="6" font-family="Liberation Sans" text-anchor="middle" fill="#222">10<tspan dy="-2.4" font-size="4.3">3</tspan></text>
<text transform="translate(449.3 74.5) rotate(-90)" font-size="6" font-family="Liberation Sans" text-anchor="middle" fill="#222">10<tspan dy="-2.4" font-size="4.3">4</tspan></text>
<text x="547.7" y="172.3" font-size="6" font-family="Liberation Sans" text-anchor="middle" fill="#222">10<tspan dy="-2.4" font-size="4.3">4</tspan></text>
<text transform="translate(449.3 40.3) rotate(-90)" font-size="6" font-family="Liberation Sans" text-anchor="middle" fill="#222">10<tspan dy="-2.4" font-size="4.3">5</tspan></text>
<text x="583.7" y="172.3" font-size="6" font-family="Liberation Sans" text-anchor="middle" fill="#222">10<tspan dy="-2.4" font-size="4.3">5</tspan></text>
<text x="491.9" y="91.2" font-size="6.8" font-family="Liberation Sans" fill="#333">Q1</text>
<text x="526.6" y="91.2" font-size="6.8" font-family="Liberation Sans" fill="#333">Q2</text>
<text x="491.9" y="125.1" font-size="6.8" font-family="Liberation Sans" fill="#333">Q3</text>
<text x="526.6" y="125.5" font-size="6.8" font-family="Liberation Sans" fill="#333">Q4</text>
<text x="521.7" y="15.3" font-size="15.8" text-anchor="middle">25μM</text>
<text x="463.6" y="44.1" font-size="13.6" font-weight="bold">0.0%</text>
<text x="562.6" y="44.1" font-size="13.6" font-weight="bold">2.8%</text>
<text x="458.5" y="119.6" font-size="13.6" font-weight="bold">95.5%</text>
<text x="561.6" y="119.6" font-size="13.6" font-weight="bold">1.7%</text>
<path d="M283 298h1v1h-1zm0 3h1v1h-1zm0 1h1v1h-1zm0 7h1v1h-1zm0 5h1v1h-1zm0 3h1v1h-1zm0 2h1v1h-1zm0 3h1v1h-1zm0 1h1v1h-1zm0 1h1v1h-1zm0 2h1v1h-1zm0 5h1v1h-1zm0 1h1v1h-1zm1 -38h1v1h-1zm0 7h1v1h-1zm0 1h1v1h-1zm0 2h1v1h-1zm0 2h1v1h-1zm0 2h1v1h-1zm0 1h1v1h-1zm0 1h1v1h-1zm0 4h1v1h-1zm0 2h1v1h-1zm0 5h1v1h-1zm1 -19h1v1h-1zm0 3h1v1h-1zm0 5h1v1h-1zm0 1h1v1h-1zm0 2h1v1h-1zm0 4h1v1h-1zm0 1h1v1h-1zm0 1h1v1h-1zm0 1h1v1h-1zm0 1h1v1h-1zm0 3h1v1h-1zm0 3h1v1h-1zm0 3h1v1h-1zm1 -44h1v1h-1zm0 12h1v1h-1zm0 1h1v1h-1zm0 3h1v1h-1zm0 6h1v1h-1zm0 3h1v1h-1zm0 1h1v1h-1zm0 3h1v1h-1zm0 1h1v1h-1zm0 10h1v1h-1zm1 -25h1v1h-1zm0 1h1v1h-1zm0 1h1v1h-1zm0 2h1v1h-1zm0 2h1v1h-1zm0 1h1v1h-1zm0 2h1v1h-1zm0 1h1v1h-1zm0 5h1v1h-1zm0 3h1v1h-1zm0 1h1v1h-1zm0 6h1v1h-1zm1 -38h1v1h-1zm0 7h1v1h-1zm0 3h1v1h-1zm0 3h1v1h-1zm0 4h1v1h-1zm0 1h1v1h-1zm0 5h1v1h-1zm0 1h1v1h-1zm0 1h1v1h-1zm0 5h1v1h-1zm0 2h1v1h-1zm0 1h1v1h-1zm0 2h1v1h-1zm1 -29h1v1h-1zm0 1h1v1h-1zm0 6h1v1h-1zm0 3h1v1h-1zm0 3h1v1h-1zm0 10h1v1h-1zm0 1h1v1h-1zm0 2h1v1h-1zm0 1h1v1h-1zm0 2h1v1h-1zm0 9h1v1h-1zm1 -45h1v1h-1zm0 10h1v1h-1zm0 9h1v1h-1zm0 2h1v1h-1zm0 6h1v1h-1zm0 8h1v1h-1zm0 1h1v1h-1zm0 3h1v1h-1zm0 1h1v1h-1zm1 -38h1v1h-1zm0 5h1v1h-1zm0 1h1v1h-1zm0 1h1v1h-1zm0 2h1v1h-1zm0 5h1v1h-1zm0 3h1v1h-1zm0 1h1v1h-1zm0 1h1v1h-1zm0 2h1v1h-1zm0 9h1v1h-1zm0 1h1v1h-1zm0 3h1v1h-1zm0 2h1v1h-1zm0 2h1v1h-1zm0 3h1v1h-1zm0 1h1v1h-1zm1 -63h1v1h-1zm0 12h1v1h-1zm0 12h1v1h-1zm0 7h1v1h-1zm0 2h1v1h-1zm0 8h1v1h-1zm0 2h1v1h-1zm0 5h1v1h-1zm0 5h1v1h-1zm0 6h1v1h-1zm0 1h1v1h-1zm0 4h1v1h-1zm1 -39h1v1h-1zm0 1h1v1h-1zm0 3h1v1h-1zm0 1h1v1h-1zm0 4h1v1h-1zm0 2h1v1h-1zm0 1h1v1h-1zm0 9h1v1h-1zm0 2h1v1h-1zm0 3h1v1h-1zm0 1h1v1h-1zm0 8h1v1h-1zm0 1h1v1h-1zm0 2h1v1h-1zm1 -37h1v1h-1zm0 1h1v1h-1zm0 2h1v1h-1zm0 4h1v1h-1zm0 4h1v1h-1zm0 5h1v1h-1zm0 9h1v1h-1zm0 1h1v1h-1zm0 1h1v1h-1zm0 1h1v1h-1zm0 3h1v1h-1zm1 -34h1v1h-1zm0 3h1v1h-1zm0 7h1v1h-1zm0 2h1v1h-1zm0 2h1v1h-1zm0 8h1v1h-1zm0 8h1v1h-1zm0 3h1v1h-1zm0 5h1v1h-1zm0 1h1v1h-1zm1 -50h1v1h-1zm0 6h1v1h-1zm0 1h1v1h-1zm0 2h1v1h-1zm0 4h1v1h-1zm0 5h1v1h-1zm0 2h1v1h-1zm0 1h1v1h-1zm0 1h1v1h-1zm0 16h1v1h-1zm0 5h1v1h-1zm0 1h1v1h-1zm0 4h1v1h-1zm0 1h1v1h-1zm1 -39h1v1h-1zm0 6h1v1h-1zm0 3h1v1h-1zm0 17h1v1h-1zm0 6h1v1h-1zm0 2h1v1h-1zm0 1h1v1h-1zm1 -30h1v1h-1zm0 1h1v1h-1zm0 2h1v1h-1zm0 1h1v1h-1zm0 25h1v1h-1zm0 8h1v1h-1zm1 -70h1v1h-1zm0 28h1v1h-1zm0 3h1v1h-1zm0 1h1v1h-1zm0 1h1v1h-1zm0 2h1v1h-1zm0 2h1v1h-1zm0 21h1v1h-1zm0 1h1v1h-1zm0 6h1v1h-1zm1 -65h1v1h-1zm0 34h1v1h-1zm0 2h1v1h-1zm0 2h1v1h-1zm0 21h1v1h-1zm0 2h1v1h-1zm0 5h1v1h-1zm0 3h1v1h-1zm1 -65h1v1h-1zm0 2h1v1h-1zm0 23h1v1h-1zm0 2h1v1h-1zm0 2h1v1h-1zm0 3h1v1h-1zm0 2h1v1h-1zm0 21h1v1h-1zm0 3h1v1h-1zm0 2h1v1h-1zm0 1h1v1h-1zm0 2h1v1h-1zm0 2h1v1h-1zm1 -52h1v1h-1zm0 6h1v1h-1zm0 5h1v1h-1zm0 1h1v1h-1zm0 2h1v1h-1zm0 2h1v1h-1zm0 1h1v1h-1zm0 2h1v1h-1zm0 1h1v1h-1zm0 23h1v1h-1zm0 1h1v1h-1zm0 2h1v1h-1zm0 1h1v1h-1zm0 1h1v1h-1zm0 3h1v1h-1zm1 -39h1v1h-1zm0 3h1v1h-1zm0 1h1v1h-1zm0 5h1v1h-1zm0 13h1v1h-1zm0 7h1v1h-1zm0 4h1v1h-1zm0 3h1v1h-1zm0 3h1v1h-1zm0 1h1v1h-1zm1 -82h1v1h-1zm0 36h1v1h-1zm0 6h1v1h-1zm0 6h1v1h-1zm0 3h1v1h-1zm0 22h1v1h-1zm0 4h1v1h-1zm0 2h1v1h-1zm0 3h1v1h-1zm1 -48h1v1h-1zm0 6h1v1h-1zm0 1h1v1h-1zm0 1h1v1h-1zm0 2h1v1h-1zm0 2h1v1h-1zm0 2h1v1h-1zm0 1h1v1h-1zm0 23h1v1h-1zm0 7h1v1h-1zm0 3h1v1h-1zm0 1h1v1h-1zm1 -46h1v1h-1zm0 1h1v1h-1zm0 2h1v1h-1zm0 1h1v1h-1zm0 2h1v1h-1zm0 27h1v1h-1zm0 5h1v1h-1zm0 4h1v1h-1zm1 -78h1v1h-1zm0 3h1v1h-1zm0 8h1v1h-1zm0 17h1v1h-1zm0 14h1v1h-1zm0 29h1v1h-1zm0 2h1v1h-1zm0 2h1v1h-1zm0 5h1v1h-1zm1 -72h1v1h-1zm0 34h1v1h-1zm0 26h1v1h-1zm0 4h1v1h-1zm0 3h1v1h-1zm0 2h1v1h-1zm1 -80h1v1h-1zm0 9h1v1h-1zm0 35h1v1h-1zm0 3h1v1h-1zm0 1h1v1h-1zm0 1h1v1h-1zm0 18h1v1h-1zm0 4h1v1h-1zm0 1h1v1h-1zm0 1h1v1h-1zm0 1h1v1h-1zm0 6h1v1h-1zm0 1h1v1h-1zm0 1h1v1h-1zm0 3h1v1h-1zm1 -87h1v1h-1zm0 8h1v1h-1zm0 23h1v1h-1zm0 6h1v1h-1zm0 4h1v1h-1zm0 1h1v1h-1zm0 1h1v1h-1zm0 1h1v1h-1zm0 1h1v1h-1zm0 1h1v1h-1zm0 2h1v1h-1zm0 3h1v1h-1zm0 23h1v1h-1zm0 2h1v1h-1zm0 1h1v1h-1zm0 4h1v1h-1zm0 1h1v1h-1zm0 5h1v1h-1zm1 -75h1v1h-1zm0 3h1v1h-1zm0 35h1v1h-1zm0 4h1v1h-1zm0 26h1v1h-1zm0 1h1v1h-1zm0 6h1v1h-1zm1 -81h1v1h-1zm0 7h1v1h-1zm0 2h1v1h-1zm0 30h1v1h-1zm0 2h1v1h-1zm0 6h1v1h-1zm0 19h1v1h-1zm0 1h1v1h-1zm0 10h1v1h-1zm0 1h1v1h-1zm0 3h1v1h-1zm1 -74h1v1h-1zm0 9h1v1h-1zm0 6h1v1h-1zm0 19h1v1h-1zm0 1h1v1h-1zm0 2h1v1h-1zm0 4h1v1h-1zm0 17h1v1h-1zm0 6h1v1h-1zm0 1h1v1h-1zm0 8h1v1h-1zm1 -79h1v1h-1zm0 8h1v1h-1zm0 18h1v1h-1zm0 8h1v1h-1zm0 2h1v1h-1zm0 2h1v1h-1zm0 6h1v1h-1zm0 21h1v1h-1zm0 4h1v1h-1zm0 2h1v1h-1zm0 5h1v1h-1zm0 4h1v1h-1zm1 -81h1v1h-1zm0 14h1v1h-1zm0 2h1v1h-1zm0 6h1v1h-1zm0 1h1v1h-1zm0 2h1v1h-1zm0 10h1v1h-1zm0 3h1v1h-1zm0 2h1v1h-1zm0 4h1v1h-1zm0 1h1v1h-1zm0 1h1v1h-1zm0 3h1v1h-1zm0 20h1v1h-1zm0 4h1v1h-1zm0 5h1v1h-1zm0 1h1v1h-1zm1 -88h1v1h-1zm0 7h1v1h-1zm0 6h1v1h-1zm0 7h1v1h-1zm0 2h1v1h-1zm0 1h1v1h-1zm0 12h1v1h-1zm0 12h1v1h-1zm0 1h1v1h-1zm0 2h1v1h-1zm0 4h1v1h-1zm0 16h1v1h-1zm0 3h1v1h-1zm0 5h1v1h-1zm0 5h1v1h-1zm0 2h1v1h-1zm1 -71h1v1h-1zm0 1h1v1h-1zm0 1h1v1h-1zm0 4h1v1h-1zm0 3h1v1h-1zm0 10h1v1h-1zm0 10h1v1h-1zm0 4h1v1h-1zm0 2h1v1h-1zm0 2h1v1h-1zm0 10h1v1h-1zm0 5h1v1h-1zm0 7h1v1h-1zm0 1h1v1h-1zm0 3h1v1h-1zm0 3h1v1h-1zm0 1h1v1h-1zm0 2h1v1h-1zm0 4h1v1h-1zm1 -83h1v1h-1zm0 13h1v1h-1zm0 5h1v1h-1zm0 3h1v1h-1zm0 2h1v1h-1zm0 2h1v1h-1zm0 20h1v1h-1zm0 3h1v1h-1zm0 14h1v1h-1zm0 4h1v1h-1zm0 1h1v1h-1zm0 1h1v1h-1zm0 1h1v1h-1zm0 1h1v1h-1zm0 1h1v1h-1zm0 1h1v1h-1zm0 2h1v1h-1zm0 4h1v1h-1zm0 2h1v1h-1zm1 -70h1v1h-1zm0 5h1v1h-1zm0 4h1v1h-1zm0 4h1v1h-1zm0 14h1v1h-1zm0 3h1v1h-1zm0 1h1v1h-1zm0 3h1v1h-1zm0 1h1v1h-1zm0 1h1v1h-1zm0 2h1v1h-1zm0 1h1v1h-1zm0 2h1v1h-1zm0 11h1v1h-1zm0 4h1v1h-1zm0 3h1v1h-1zm0 2h1v1h-1zm0 1h1v1h-1zm0 1h1v1h-1zm0 2h1v1h-1zm0 1h1v1h-1zm0 2h1v1h-1zm0 1h1v1h-1zm0 1h1v1h-1zm0 1h1v1h-1zm0 1h1v1h-1zm0 4h1v1h-1zm1 -84h1v1h-1zm0 5h1v1h-1zm0 5h1v1h-1zm0 14h1v1h-1zm0 10h1v1h-1zm0 7h1v1h-1zm0 2h1v1h-1zm0 4h1v1h-1zm0 2h1v1h-1zm0 2h1v1h-1zm0 5h1v1h-1zm0 11h1v1h-1zm0 3h1v1h-1zm0 4h1v1h-1zm0 4h1v1h-1zm0 3h1v1h-1zm0 3h1v1h-1zm1 -88h1v1h-1zm0 11h1v1h-1zm0 2h1v1h-1zm0 12h1v1h-1zm0 2h1v1h-1zm0 17h1v1h-1zm0 2h1v1h-1zm0 1h1v1h-1zm0 1h1v1h-1zm0 1h1v1h-1zm0 3h1v1h-1zm0 2h1v1h-1zm0 3h1v1h-1zm0 3h1v1h-1zm0 6h1v1h-1zm0 2h1v1h-1zm0 1h1v1h-1zm0 8h1v1h-1zm0 1h1v1h-1zm0 2h1v1h-1zm1 -67h1v1h-1zm0 2h1v1h-1zm0 1h1v1h-1zm0 1h1v1h-1zm0 3h1v1h-1zm0 2h1v1h-1zm0 3h1v1h-1zm0 9h1v1h-1zm0 13h1v1h-1zm0 2h1v1h-1zm0 2h1v1h-1zm0 2h1v1h-1zm0 1h1v1h-1zm0 4h1v1h-1zm0 2h1v1h-1zm0 7h1v1h-1zm0 3h1v1h-1zm0 1h1v1h-1zm0 2h1v1h-1zm0 4h1v1h-1zm0 9h1v1h-1zm1 -78h1v1h-1zm0 2h1v1h-1zm0 1h1v1h-1zm0 5h1v1h-1zm0 15h1v1h-1zm0 4h1v1h-1zm0 8h1v1h-1zm0 4h1v1h-1zm0 1h1v1h-1zm0 2h1v1h-1zm0 1h1v1h-1zm0 1h1v1h-1zm0 2h1v1h-1zm0 1h1v1h-1zm0 4h1v1h-1zm0 6h1v1h-1zm0 2h1v1h-1zm0 1h1v1h-1zm0 2h1v1h-1zm0 17h1v1h-1zm1 -70h1v1h-1zm0 1h1v1h-1zm0 4h1v1h-1zm0 5h1v1h-1zm0 2h1v1h-1zm0 7h1v1h-1zm0 11h1v1h-1zm0 2h1v1h-1zm0 6h1v1h-1zm0 2h1v1h-1zm0 5h1v1h-1zm0 1h1v1h-1zm0 1h1v1h-1zm0 2h1v1h-1zm0 1h1v1h-1zm0 4h1v1h-1zm0 1h1v1h-1zm0 2h1v1h-1zm0 3h1v1h-1zm0 7h1v1h-1zm0 1h1v1h-1zm1 -81h1v1h-1zm0 3h1v1h-1zm0 5h1v1h-1zm0 7h1v1h-1zm0 4h1v1h-1zm0 8h1v1h-1zm0 9h1v1h-1zm0 4h1v1h-1zm0 1h1v1h-1zm0 3h1v1h-1zm0 3h1v1h-1zm0 5h1v1h-1zm0 2h1v1h-1zm0 5h1v1h-1zm0 4h1v1h-1zm0 6h1v1h-1zm0 3h1v1h-1zm0 2h1v1h-1zm0 8h1v1h-1zm1 -88h1v1h-1zm0 4h1v1h-1zm0 10h1v1h-1zm0 11h1v1h-1zm0 25h1v1h-1zm0 1h1v1h-1zm0 1h1v1h-1zm0 5h1v1h-1zm0 2h1v1h-1zm0 1h1v1h-1zm0 3h1v1h-1zm0 1h1v1h-1zm0 2h1v1h-1zm0 4h1v1h-1zm0 3h1v1h-1zm1 -68h1v1h-1zm0 7h1v1h-1zm0 1h1v1h-1zm0 3h1v1h-1zm0 5h1v1h-1zm0 6h1v1h-1zm0 2h1v1h-1zm0 3h1v1h-1zm0 3h1v1h-1zm0 4h1v1h-1zm0 5h1v1h-1zm0 7h1v1h-1zm0 4h1v1h-1zm0 1h1v1h-1zm0 4h1v1h-1zm0 1h1v1h-1zm0 1h1v1h-1zm0 3h1v1h-1zm0 1h1v1h-1zm0 3h1v1h-1zm0 1h1v1h-1zm0 1h1v1h-1zm0 3h1v1h-1zm0 2h1v1h-1zm0 2h1v1h-1zm0 11h1v1h-1zm1 -83h1v1h-1zm0 4h1v1h-1zm0 7h1v1h-1zm0 1h1v1h-1zm0 11h1v1h-1zm0 11h1v1h-1zm0 5h1v1h-1zm0 3h1v1h-1zm0 7h1v1h-1zm0 4h1v1h-1zm0 2h1v1h-1zm0 1h1v1h-1zm0 9h1v1h-1zm0 10h1v1h-1zm0 1h1v1h-1zm0 4h1v1h-1zm1 -82h1v1h-1zm0 13h1v1h-1zm0 4h1v1h-1zm0 3h1v1h-1zm0 13h1v1h-1zm0 7h1v1h-1zm0 5h1v1h-1zm0 2h1v1h-1zm0 4h1v1h-1zm0 1h1v1h-1zm0 1h1v1h-1zm0 4h1v1h-1zm0 1h1v1h-1zm0 1h1v1h-1zm0 1h1v1h-1zm0 2h1v1h-1zm0 1h1v1h-1zm0 2h1v1h-1zm0 4h1v1h-1zm0 2h1v1h-1zm0 2h1v1h-1zm0 2h1v1h-1zm0 1h1v1h-1zm0 5h1v1h-1zm0 5h1v1h-1zm1 -82h1v1h-1zm0 6h1v1h-1zm0 1h1v1h-1zm0 1h1v1h-1zm0 6h1v1h-1zm0 1h1v1h-1zm0 4h1v1h-1zm0 3h1v1h-1zm0 16h1v1h-1zm0 2h1v1h-1zm0 3h1v1h-1zm0 11h1v1h-1zm0 1h1v1h-1zm0 7h1v1h-1zm0 2h1v1h-1zm0 1h1v1h-1zm0 1h1v1h-1zm0 1h1v1h-1zm0 9h1v1h-1zm1 -78h1v1h-1zm0 2h1v1h-1zm0 8h1v1h-1zm0 22h1v1h-1zm0 2h1v1h-1zm0 6h1v1h-1zm0 2h1v1h-1zm0 11h1v1h-1zm0 3h1v1h-1zm0 1h1v1h-1zm0 2h1v1h-1zm0 2h1v1h-1zm0 4h1v1h-1zm0 6h1v1h-1zm1 -59h1v1h-1zm0 7h1v1h-1zm0 1h1v1h-1zm0 11h1v1h-1zm0 8h1v1h-1zm0 3h1v1h-1zm0 9h1v1h-1zm0 1h1v1h-1zm0 1h1v1h-1zm0 4h1v1h-1zm0 3h1v1h-1zm0 2h1v1h-1zm0 1h1v1h-1zm0 6h1v1h-1zm0 14h1v1h-1zm1 -73h1v1h-1zm0 13h1v1h-1zm0 11h1v1h-1zm0 1h1v1h-1zm0 4h1v1h-1zm0 3h1v1h-1zm0 6h1v1h-1zm0 4h1v1h-1zm0 1h1v1h-1zm0 2h1v1h-1zm0 4h1v1h-1zm0 1h1v1h-1zm0 2h1v1h-1zm0 5h1v1h-1zm0 1h1v1h-1zm1 -54h1v1h-1zm0 5h1v1h-1zm0 8h1v1h-1zm0 7h1v1h-1zm0 12h1v1h-1zm0 2h1v1h-1zm0 4h1v1h-1zm0 1h1v1h-1zm0 3h1v1h-1zm0 3h1v1h-1zm0 1h1v1h-1zm0 3h1v1h-1zm0 3h1v1h-1zm0 1h1v1h-1zm0 6h1v1h-1zm0 1h1v1h-1zm0 3h1v1h-1zm1 -80h1v1h-1zm0 2h1v1h-1zm0 3h1v1h-1zm0 9h1v1h-1zm0 2h1v1h-1zm0 8h1v1h-1zm0 8h1v1h-1zm0 3h1v1h-1zm0 2h1v1h-1zm0 5h1v1h-1zm0 7h1v1h-1zm0 1h1v1h-1zm0 1h1v1h-1zm0 3h1v1h-1zm0 1h1v1h-1zm0 2h1v1h-1zm0 2h1v1h-1zm0 2h1v1h-1zm0 3h1v1h-1zm0 1h1v1h-1zm0 1h1v1h-1zm0 1h1v1h-1zm0 5h1v1h-1zm0 14h1v1h-1zm1 -88h1v1h-1zm0 10h1v1h-1zm0 8h1v1h-1zm0 1h1v1h-1zm0 3h1v1h-1zm0 1h1v1h-1zm0 4h1v1h-1zm0 4h1v1h-1zm0 8h1v1h-1zm0 2h1v1h-1zm0 2h1v1h-1zm0 6h1v1h-1zm0 3h1v1h-1zm0 2h1v1h-1zm0 2h1v1h-1zm0 2h1v1h-1zm0 3h1v1h-1zm0 1h1v1h-1zm0 3h1v1h-1zm0 9h1v1h-1zm0 1h1v1h-1zm0 1h1v1h-1zm0 2h1v1h-1zm1 -66h1v1h-1zm0 3h1v1h-1zm0 11h1v1h-1zm0 4h1v1h-1zm0 2h1v1h-1zm0 15h1v1h-1zm0 1h1v1h-1zm0 1h1v1h-1zm0 1h1v1h-1zm0 2h1v1h-1zm0 1h1v1h-1zm0 2h1v1h-1zm0 1h1v1h-1zm0 1h1v1h-1zm0 4h1v1h-1zm0 1h1v1h-1zm0 1h1v1h-1zm0 1h1v1h-1zm0 1h1v1h-1zm0 5h1v1h-1zm0 1h1v1h-1zm1 -63h1v1h-1zm0 9h1v1h-1zm0 2h1v1h-1zm0 1h1v1h-1zm0 2h1v1h-1zm0 2h1v1h-1zm0 17h1v1h-1zm0 1h1v1h-1zm0 10h1v1h-1zm0 3h1v1h-1zm0 4h1v1h-1zm0 4h1v1h-1zm0 18h1v1h-1zm1 -70h1v1h-1zm0 14h1v1h-1zm0 17h1v1h-1zm0 2h1v1h-1zm0 13h1v1h-1zm0 3h1v1h-1zm0 2h1v1h-1zm0 1h1v1h-1zm0 8h1v1h-1zm0 1h1v1h-1zm0 1h1v1h-1zm0 2h1v1h-1zm1 -61h1v1h-1zm0 8h1v1h-1zm0 12h1v1h-1zm0 3h1v1h-1zm0 2h1v1h-1zm0 3h1v1h-1zm0 10h1v1h-1zm0 1h1v1h-1zm0 1h1v1h-1zm0 2h1v1h-1zm0 2h1v1h-1zm0 1h1v1h-1zm0 2h1v1h-1zm0 1h1v1h-1zm0 5h1v1h-1zm0 1h1v1h-1zm0 6h1v1h-1zm1 -64h1v1h-1zm0 1h1v1h-1zm0 6h1v1h-1zm0 5h1v1h-1zm0 6h1v1h-1zm0 8h1v1h-1zm0 8h1v1h-1zm0 1h1v1h-1zm0 8h1v1h-1zm0 3h1v1h-1zm0 1h1v1h-1zm0 2h1v1h-1zm0 4h1v1h-1zm0 1h1v1h-1zm0 1h1v1h-1zm0 3h1v1h-1zm0 2h1v1h-1zm1 -61h1v1h-1zm0 5h1v1h-1zm0 2h1v1h-1zm0 1h1v1h-1zm0 3h1v1h-1zm0 2h1v1h-1zm0 1h1v1h-1zm0 1h1v1h-1zm0 15h1v1h-1zm0 5h1v1h-1zm0 6h1v1h-1zm0 7h1v1h-1zm0 2h1v1h-1zm0 1h1v1h-1zm0 5h1v1h-1zm0 4h1v1h-1zm0 1h1v1h-1zm0 3h1v1h-1zm1 -75h1v1h-1zm0 12h1v1h-1zm0 5h1v1h-1zm0 4h1v1h-1zm0 7h1v1h-1zm0 14h1v1h-1zm0 2h1v1h-1zm0 3h1v1h-1zm0 3h1v1h-1zm0 3h1v1h-1zm0 1h1v1h-1zm0 2h1v1h-1zm0 1h1v1h-1zm0 2h1v1h-1zm0 2h1v1h-1zm0 5h1v1h-1zm0 2h1v1h-1zm0 1h1v1h-1zm0 1h1v1h-1zm0 1h1v1h-1zm0 5h1v1h-1zm0 2h1v1h-1zm1 -80h1v1h-1zm0 8h1v1h-1zm0 4h1v1h-1zm0 3h1v1h-1zm0 1h1v1h-1zm0 2h1v1h-1zm0 4h1v1h-1zm0 1h1v1h-1zm0 6h1v1h-1zm0 13h1v1h-1zm0 11h1v1h-1zm0 5h1v1h-1zm0 2h1v1h-1zm0 3h1v1h-1zm0 3h1v1h-1zm0 6h1v1h-1zm0 2h1v1h-1zm0 5h1v1h-1zm1 -108h1v1h-1zm0 34h1v1h-1zm0 3h1v1h-1zm0 6h1v1h-1zm0 1h1v1h-1zm0 3h1v1h-1zm0 4h1v1h-1zm0 3h1v1h-1zm0 1h1v1h-1zm0 16h1v1h-1zm0 2h1v1h-1zm0 2h1v1h-1zm0 1h1v1h-1zm0 2h1v1h-1zm0 8h1v1h-1zm0 1h1v1h-1zm0 7h1v1h-1zm0 12h1v1h-1zm1 -72h1v1h-1zm0 6h1v1h-1zm0 5h1v1h-1zm0 8h1v1h-1zm0 1h1v1h-1zm0 1h1v1h-1zm0 1h1v1h-1zm0 21h1v1h-1zm0 6h1v1h-1zm0 1h1v1h-1zm0 2h1v1h-1zm0 7h1v1h-1zm0 1h1v1h-1zm0 1h1v1h-1zm0 2h1v1h-1zm0 1h1v1h-1zm0 18h1v1h-1zm1 -124h1v1h-1zm0 48h1v1h-1zm0 1h1v1h-1zm0 9h1v1h-1zm0 4h1v1h-1zm0 6h1v1h-1zm0 3h1v1h-1zm0 13h1v1h-1zm0 1h1v1h-1zm0 7h1v1h-1zm0 2h1v1h-1zm0 1h1v1h-1zm0 2h1v1h-1zm0 9h1v1h-1zm0 1h1v1h-1zm0 1h1v1h-1zm0 1h1v1h-1zm0 3h1v1h-1zm0 3h1v1h-1zm1 -67h1v1h-1zm0 2h1v1h-1zm0 1h1v1h-1zm0 10h1v1h-1zm0 5h1v1h-1zm0 9h1v1h-1zm0 2h1v1h-1zm0 5h1v1h-1zm0 7h1v1h-1zm0 1h1v1h-1zm0 2h1v1h-1zm0 2h1v1h-1zm0 1h1v1h-1zm0 1h1v1h-1zm0 1h1v1h-1zm0 2h1v1h-1zm0 4h1v1h-1zm0 4h1v1h-1zm0 7h1v1h-1zm0 2h1v1h-1zm0 6h1v1h-1zm0 1h1v1h-1zm1 -110h1v1h-1zm0 34h1v1h-1zm0 3h1v1h-1zm0 1h1v1h-1zm0 1h1v1h-1zm0 3h1v1h-1zm0 8h1v1h-1zm0 3h1v1h-1zm0 11h1v1h-1zm0 3h1v1h-1zm0 1h1v1h-1zm0 9h1v1h-1zm0 1h1v1h-1zm0 1h1v1h-1zm0 4h1v1h-1zm0 2h1v1h-1zm0 1h1v1h-1zm0 3h1v1h-1zm0 6h1v1h-1zm0 3h1v1h-1zm1 -63h1v1h-1zm0 7h1v1h-1zm0 3h1v1h-1zm0 1h1v1h-1zm0 2h1v1h-1zm0 1h1v1h-1zm0 2h1v1h-1zm0 4h1v1h-1zm0 11h1v1h-1zm0 3h1v1h-1zm0 2h1v1h-1zm0 5h1v1h-1zm0 5h1v1h-1zm0 2h1v1h-1zm0 2h1v1h-1zm0 1h1v1h-1zm0 2h1v1h-1zm0 3h1v1h-1zm0 1h1v1h-1zm0 1h1v1h-1zm0 2h1v1h-1zm0 1h1v1h-1zm0 13h1v1h-1zm1 -73h1v1h-1zm0 3h1v1h-1zm0 5h1v1h-1zm0 3h1v1h-1zm0 2h1v1h-1zm0 1h1v1h-1zm0 4h1v1h-1zm0 2h1v1h-1zm0 2h1v1h-1zm0 19h1v1h-1zm0 1h1v1h-1zm0 1h1v1h-1zm0 4h1v1h-1zm0 7h1v1h-1zm0 5h1v1h-1zm0 3h1v1h-1zm0 1h1v1h-1zm0 2h1v1h-1zm0 2h1v1h-1zm1 -74h1v1h-1zm0 5h1v1h-1zm0 3h1v1h-1zm0 7h1v1h-1zm0 1h1v1h-1zm0 1h1v1h-1zm0 2h1v1h-1zm0 2h1v1h-1zm0 2h1v1h-1zm0 2h1v1h-1zm0 3h1v1h-1zm0 14h1v1h-1zm0 1h1v1h-1zm0 3h1v1h-1zm0 2h1v1h-1zm0 4h1v1h-1zm0 2h1v1h-1zm0 5h1v1h-1zm0 4h1v1h-1zm0 2h1v1h-1zm0 1h1v1h-1zm0 1h1v1h-1zm0 5h1v1h-1zm0 3h1v1h-1zm1 -69h1v1h-1zm0 12h1v1h-1zm0 1h1v1h-1zm0 2h1v1h-1zm0 1h1v1h-1zm0 12h1v1h-1zm0 10h1v1h-1zm0 5h1v1h-1zm0 3h1v1h-1zm0 1h1v1h-1zm0 2h1v1h-1zm0 1h1v1h-1zm0 5h1v1h-1zm0 5h1v1h-1zm0 4h1v1h-1zm0 4h1v1h-1zm0 3h1v1h-1zm0 3h1v1h-1zm1 -78h1v1h-1zm0 2h1v1h-1zm0 1h1v1h-1zm0 1h1v1h-1zm0 1h1v1h-1zm0 3h1v1h-1zm0 1h1v1h-1zm0 5h1v1h-1zm0 5h1v1h-1zm0 19h1v1h-1zm0 2h1v1h-1zm0 1h1v1h-1zm0 4h1v1h-1zm0 2h1v1h-1zm0 4h1v1h-1zm0 1h1v1h-1zm0 1h1v1h-1zm0 3h1v1h-1zm0 3h1v1h-1zm0 1h1v1h-1zm0 2h1v1h-1zm0 2h1v1h-1zm0 1h1v1h-1zm0 2h1v1h-1zm0 2h1v1h-1zm0 2h1v1h-1zm1 -74h1v1h-1zm0 4h1v1h-1zm0 1h1v1h-1zm0 3h1v1h-1zm0 1h1v1h-1zm0 1h1v1h-1zm0 2h1v1h-1zm0 1h1v1h-1zm0 10h1v1h-1zm0 1h1v1h-1zm0 1h1v1h-1zm0 17h1v1h-1zm0 5h1v1h-1zm0 3h1v1h-1zm0 8h1v1h-1zm0 1h1v1h-1zm0 5h1v1h-1zm0 4h1v1h-1zm0 7h1v1h-1zm1 -72h1v1h-1zm0 5h1v1h-1zm0 14h1v1h-1zm0 1h1v1h-1zm0 29h1v1h-1zm0 1h1v1h-1zm0 2h1v1h-1zm0 1h1v1h-1zm0 2h1v1h-1zm0 3h1v1h-1zm0 8h1v1h-1zm0 10h1v1h-1zm0 1h1v1h-1zm0 6h1v1h-1zm1 -91h1v1h-1zm0 7h1v1h-1zm0 2h1v1h-1zm0 8h1v1h-1zm0 2h1v1h-1zm0 5h1v1h-1zm0 1h1v1h-1zm0 1h1v1h-1zm0 4h1v1h-1zm0 25h1v1h-1zm0 4h1v1h-1zm0 1h1v1h-1zm0 4h1v1h-1zm0 3h1v1h-1zm0 1h1v1h-1zm0 3h1v1h-1zm0 1h1v1h-1zm0 3h1v1h-1zm0 3h1v1h-1zm0 1h1v1h-1zm1 -79h1v1h-1zm0 14h1v1h-1zm0 4h1v1h-1zm0 1h1v1h-1zm0 1h1v1h-1zm0 1h1v1h-1zm0 3h1v1h-1zm0 3h1v1h-1zm0 1h1v1h-1zm0 1h1v1h-1zm0 3h1v1h-1zm0 25h1v1h-1zm0 1h1v1h-1zm0 3h1v1h-1zm0 7h1v1h-1zm0 3h1v1h-1zm0 6h1v1h-1zm1 -69h1v1h-1zm0 3h1v1h-1zm0 2h1v1h-1zm0 10h1v1h-1zm0 1h1v1h-1zm0 3h1v1h-1zm0 4h1v1h-1zm0 27h1v1h-1zm0 2h1v1h-1zm0 2h1v1h-1zm0 1h1v1h-1zm0 1h1v1h-1zm0 2h1v1h-1zm0 6h1v1h-1zm0 2h1v1h-1zm0 2h1v1h-1zm1 -63h1v1h-1zm0 2h1v1h-1zm0 3h1v1h-1zm0 2h1v1h-1zm0 3h1v1h-1zm0 17h1v1h-1zm0 17h1v1h-1zm0 1h1v1h-1zm0 9h1v1h-1zm0 1h1v1h-1zm0 1h1v1h-1zm0 1h1v1h-1zm0 1h1v1h-1zm1 -59h1v1h-1zm0 4h1v1h-1zm0 1h1v1h-1zm0 10h1v1h-1zm0 21h1v1h-1zm0 7h1v1h-1zm0 1h1v1h-1zm0 3h1v1h-1zm0 1h1v1h-1zm0 1h1v1h-1zm0 1h1v1h-1zm0 4h1v1h-1zm0 3h1v1h-1zm0 1h1v1h-1zm0 9h1v1h-1zm1 -81h1v1h-1zm0 10h1v1h-1zm0 1h1v1h-1zm0 1h1v1h-1zm0 1h1v1h-1zm0 1h1v1h-1zm0 3h1v1h-1zm0 3h1v1h-1zm0 14h1v1h-1zm0 2h1v1h-1zm0 5h1v1h-1zm0 16h1v1h-1zm0 1h1v1h-1zm0 1h1v1h-1zm0 5h1v1h-1zm0 5h1v1h-1zm0 1h1v1h-1zm1 -48h1v1h-1zm0 3h1v1h-1zm0 3h1v1h-1zm0 2h1v1h-1zm0 1h1v1h-1zm0 13h1v1h-1zm0 2h1v1h-1zm0 13h1v1h-1zm0 2h1v1h-1zm0 2h1v1h-1zm0 3h1v1h-1zm0 15h1v1h-1zm0 1h1v1h-1zm1 -81h1v1h-1zm0 3h1v1h-1zm0 4h1v1h-1zm0 2h1v1h-1zm0 1h1v1h-1zm0 1h1v1h-1zm0 3h1v1h-1zm0 1h1v1h-1zm0 5h1v1h-1zm0 4h1v1h-1zm0 3h1v1h-1zm0 4h1v1h-1zm0 24h1v1h-1zm0 3h1v1h-1zm0 4h1v1h-1zm0 1h1v1h-1zm0 2h1v1h-1zm0 2h1v1h-1zm0 3h1v1h-1zm0 1h1v1h-1zm0 2h1v1h-1zm0 2h1v1h-1zm0 2h1v1h-1zm0 1h1v1h-1zm0 3h1v1h-1zm1 -72h1v1h-1zm0 3h1v1h-1zm0 1h1v1h-1zm0 12h1v1h-1zm0 6h1v1h-1zm0 1h1v1h-1zm0 7h1v1h-1zm0 19h1v1h-1zm0 1h1v1h-1zm0 2h1v1h-1zm0 4h1v1h-1zm0 6h1v1h-1zm0 2h1v1h-1zm1 -63h1v1h-1zm0 7h1v1h-1zm0 8h1v1h-1zm0 1h1v1h-1zm0 1h1v1h-1zm0 23h1v1h-1zm0 6h1v1h-1zm0 6h1v1h-1zm0 6h1v1h-1zm0 1h1v1h-1zm0 12h1v1h-1zm0 10h1v1h-1zm1 -82h1v1h-1zm0 3h1v1h-1zm0 2h1v1h-1zm0 2h1v1h-1zm0 4h1v1h-1zm0 5h1v1h-1zm0 1h1v1h-1zm0 2h1v1h-1zm0 1h1v1h-1zm0 1h1v1h-1zm0 22h1v1h-1zm0 17h1v1h-1zm1 -59h1v1h-1zm0 5h1v1h-1zm0 5h1v1h-1zm0 3h1v1h-1zm0 1h1v1h-1zm0 3h1v1h-1zm0 9h1v1h-1zm0 34h1v1h-1zm0 3h1v1h-1zm1 -64h1v1h-1zm0 5h1v1h-1zm0 2h1v1h-1zm0 6h1v1h-1zm0 7h1v1h-1zm0 1h1v1h-1zm0 4h1v1h-1zm0 7h1v1h-1zm1 -38h1v1h-1zm0 10h1v1h-1zm0 10h1v1h-1zm0 2h1v1h-1zm0 2h1v1h-1zm0 1h1v1h-1zm0 18h1v1h-1zm0 7h1v1h-1zm0 9h1v1h-1zm0 9h1v1h-1zm0 3h1v1h-1zm1 -67h1v1h-1zm0 2h1v1h-1zm0 1h1v1h-1zm0 2h1v1h-1zm0 6h1v1h-1zm0 2h1v1h-1zm0 3h1v1h-1zm0 1h1v1h-1zm0 1h1v1h-1zm0 2h1v1h-1zm0 2h1v1h-1zm0 8h1v1h-1zm0 9h1v1h-1zm0 2h1v1h-1zm0 13h1v1h-1zm0 9h1v1h-1zm0 3h1v1h-1zm1 -64h1v1h-1zm0 5h1v1h-1zm0 4h1v1h-1zm0 1h1v1h-1zm0 18h1v1h-1zm0 19h1v1h-1zm0 12h1v1h-1zm0 8h1v1h-1zm1 -68h1v1h-1zm0 1h1v1h-1zm0 1h1v1h-1zm0 1h1v1h-1zm0 1h1v1h-1zm0 3h1v1h-1zm0 2h1v1h-1zm0 13h1v1h-1zm0 37h1v1h-1zm1 -64h1v1h-1zm0 5h1v1h-1zm0 1h1v1h-1zm0 4h1v1h-1zm0 5h1v1h-1zm0 1h1v1h-1zm0 1h1v1h-1zm0 3h1v1h-1zm0 3h1v1h-1zm0 18h1v1h-1zm1 -34h1v1h-1zm0 7h1v1h-1zm0 2h1v1h-1zm0 5h1v1h-1zm0 3h1v1h-1zm0 1h1v1h-1zm0 5h1v1h-1zm0 62h1v1h-1zm1 -87h1v1h-1zm0 7h1v1h-1zm0 4h1v1h-1zm0 2h1v1h-1zm0 2h1v1h-1zm0 2h1v1h-1zm0 5h1v1h-1zm1 -25h1v1h-1zm0 4h1v1h-1zm0 5h1v1h-1zm0 7h1v1h-1zm0 3h1v1h-1zm0 1h1v1h-1zm0 1h1v1h-1zm0 3h1v1h-1zm0 5h1v1h-1zm0 9h1v1h-1zm0 23h1v1h-1zm1 -59h1v1h-1zm0 3h1v1h-1zm0 1h1v1h-1zm0 3h1v1h-1zm0 1h1v1h-1zm0 3h1v1h-1zm0 1h1v1h-1zm0 1h1v1h-1zm0 1h1v1h-1zm0 1h1v1h-1zm0 1h1v1h-1zm0 2h1v1h-1zm1 -16h1v1h-1zm0 3h1v1h-1zm0 8h1v1h-1zm0 2h1v1h-1zm0 1h1v1h-1zm0 1h1v1h-1zm0 1h1v1h-1zm0 3h1v1h-1zm1 -16h1v1h-1zm0 2h1v1h-1zm0 1h1v1h-1zm0 4h1v1h-1zm0 2h1v1h-1zm0 3h1v1h-1zm0 1h1v1h-1zm1 -39h1v1h-1zm0 22h1v1h-1zm0 5h1v1h-1zm0 20h1v1h-1zm0 60h1v1h-1zm1 -92h1v1h-1zm0 8h1v1h-1zm0 4h1v1h-1zm0 1h1v1h-1zm0 3h1v1h-1zm0 7h1v1h-1zm0 4h1v1h-1zm0 5h1v1h-1zm1 -22h1v1h-1zm0 1h1v1h-1zm0 1h1v1h-1zm0 3h1v1h-1zm0 2h1v1h-1zm0 1h1v1h-1zm0 2h1v1h-1zm0 5h1v1h-1zm0 7h1v1h-1zm1 -21h1v1h-1zm0 3h1v1h-1zm0 1h1v1h-1zm0 5h1v1h-1zm0 1h1v1h-1zm0 3h1v1h-1zm0 2h1v1h-1zm0 1h1v1h-1zm1 -17h1v1h-1zm0 1h1v1h-1zm0 2h1v1h-1zm0 2h1v1h-1zm0 1h1v1h-1zm0 3h1v1h-1zm0 2h1v1h-1zm0 2h1v1h-1zm1 -18h1v1h-1zm0 2h1v1h-1zm0 13h1v1h-1zm0 1h1v1h-1zm1 -12h1v1h-1zm0 3h1v1h-1zm0 2h1v1h-1zm0 1h1v1h-1zm0 1h1v1h-1zm0 2h1v1h-1zm0 1h1v1h-1zm0 1h1v1h-1zm0 1h1v1h-1zm0 34h1v1h-1zm1 -47h1v1h-1zm0 7h1v1h-1zm0 9h1v1h-1zm0 30h1v1h-1zm1 -47h1v1h-1zm0 2h1v1h-1zm0 2h1v1h-1zm0 1h1v1h-1zm0 1h1v1h-1zm0 2h1v1h-1zm1 -11h1v1h-1zm0 12h1v1h-1zm0 9h1v1h-1zm0 3h1v1h-1zm0 9h1v1h-1zm1 -26h1v1h-1zm0 3h1v1h-1zm1 1h1v1h-1zm0 2h1v1h-1zm0 3h1v1h-1zm0 1h1v1h-1zm0 7h1v1h-1zm0 24h1v1h-1zm1 -41h1v1h-1zm0 4h1v1h-1zm1 -5h1v1h-1zm0 4h1v1h-1zm0 2h1v1h-1zm0 4h1v1h-1zm0 8h1v1h-1zm1 -20h1v1h-1zm0 7h1v1h-1zm0 13h1v1h-1zm1 1h1v1h-1zm0 53h1v1h-1zm1 -69h1v1h-1zm1 2h1v1h-1zm1 17h1v1h-1zm0 33h1v1h-1zm0 9h1v1h-1zm1 -54h1v1h-1zm0 14h1v1h-1zm1 -31h1v1h-1zm0 3h1v1h-1zm1 19h1v1h-1zm1 -14h1v1h-1zm0 11h1v1h-1zm1 5h1v1h-1zm1 -12h1v1h-1zm0 10h1v1h-1zm1 33h1v1h-1zm1 -61h1v1h-1zm0 4h1v1h-1zm2 15h1v1h-1zm0 4h1v1h-1zm3 -39h1v1h-1zm3 -6h1v1h-1zm2 37h1v1h-1zm3 4h1v1h-1zm1 55h1v1h-1z" fill="#e62020" fill-opacity="0.55"/>
<path d="M283 307h1v1h-1zm0 6h1v1h-1zm0 2h1v1h-1zm1 -10h1v1h-1zm0 8h1v1h-1zm0 2h1v1h-1zm0 2h1v1h-1zm0 1h1v1h-1zm0 1h1v1h-1zm0 7h1v1h-1zm0 1h1v1h-1zm0 5h1v1h-1zm1 -20h1v1h-1zm1 -8h1v1h-1zm0 9h1v1h-1zm0 9h1v1h-1zm1 -16h1v1h-1zm0 3h1v1h-1zm0 5h1v1h-1zm0 4h1v1h-1zm1 -15h1v1h-1zm0 4h1v1h-1zm0 2h1v1h-1zm0 1h1v1h-1zm0 4h1v1h-1zm0 1h1v1h-1zm0 1h1v1h-1zm1 -13h1v1h-1zm0 6h1v1h-1zm0 1h1v1h-1zm0 4h1v1h-1zm1 -16h1v1h-1zm0 4h1v1h-1zm0 1h1v1h-1zm0 6h1v1h-1zm0 1h1v1h-1zm0 2h1v1h-1zm0 3h1v1h-1zm0 2h1v1h-1zm0 1h1v1h-1zm0 1h1v1h-1zm1 -6h1v1h-1zm0 1h1v1h-1zm0 2h1v1h-1zm0 10h1v1h-1zm1 -26h1v1h-1zm0 3h1v1h-1zm0 4h1v1h-1zm0 1h1v1h-1zm0 2h1v1h-1zm0 2h1v1h-1zm0 1h1v1h-1zm0 7h1v1h-1zm0 6h1v1h-1zm1 -25h1v1h-1zm0 2h1v1h-1zm0 4h1v1h-1zm0 2h1v1h-1zm0 2h1v1h-1zm0 2h1v1h-1zm0 9h1v1h-1zm1 -22h1v1h-1zm0 2h1v1h-1zm0 2h1v1h-1zm0 5h1v1h-1zm0 6h1v1h-1zm0 8h1v1h-1zm0 3h1v1h-1zm1 -24h1v1h-1zm0 4h1v1h-1zm0 1h1v1h-1zm0 5h1v1h-1zm0 2h1v1h-1zm0 6h1v1h-1zm0 2h1v1h-1zm1 -23h1v1h-1zm0 6h1v1h-1zm0 2h1v1h-1zm0 5h1v1h-1zm0 4h1v1h-1zm0 6h1v1h-1zm0 3h1v1h-1zm0 2h1v1h-1zm0 5h1v1h-1zm1 -37h1v1h-1zm0 3h1v1h-1zm0 13h1v1h-1zm0 4h1v1h-1zm0 4h1v1h-1zm0 2h1v1h-1zm1 -19h1v1h-1zm0 20h1v1h-1zm0 1h1v1h-1zm0 6h1v1h-1zm1 -28h1v1h-1zm0 12h1v1h-1zm1 -10h1v1h-1zm0 14h1v1h-1zm0 3h1v1h-1zm0 2h1v1h-1zm0 2h1v1h-1zm1 -23h1v1h-1zm0 13h1v1h-1zm0 4h1v1h-1zm1 -17h1v1h-1zm0 13h1v1h-1zm0 5h1v1h-1zm1 -23h1v1h-1zm0 1h1v1h-1zm0 2h1v1h-1zm0 18h1v1h-1zm0 6h1v1h-1zm0 9h1v1h-1zm1 -39h1v1h-1zm0 5h1v1h-1zm0 1h1v1h-1zm0 16h1v1h-1zm0 4h1v1h-1zm0 4h1v1h-1zm1 -24h1v1h-1zm0 19h1v1h-1zm0 1h1v1h-1zm0 3h1v1h-1zm1 -54h1v1h-1zm0 25h1v1h-1zm0 1h1v1h-1zm0 1h1v1h-1zm0 2h1v1h-1zm0 25h1v1h-1zm0 5h1v1h-1zm0 4h1v1h-1zm1 -38h1v1h-1zm0 1h1v1h-1zm0 23h1v1h-1zm0 1h1v1h-1zm0 4h1v1h-1zm0 2h1v1h-1zm1 -30h1v1h-1zm0 25h1v1h-1zm0 2h1v1h-1zm0 2h1v1h-1zm1 -70h1v1h-1zm0 37h1v1h-1zm0 9h1v1h-1zm0 24h1v1h-1zm0 3h1v1h-1zm1 -32h1v1h-1zm0 1h1v1h-1zm0 9h1v1h-1zm0 6h1v1h-1zm0 10h1v1h-1zm0 3h1v1h-1zm1 -27h1v1h-1zm0 20h1v1h-1zm0 3h1v1h-1zm0 2h1v1h-1zm0 2h1v1h-1zm0 1h1v1h-1zm1 -37h1v1h-1zm0 8h1v1h-1zm0 2h1v1h-1zm0 18h1v1h-1zm0 4h1v1h-1zm0 2h1v1h-1zm1 -25h1v1h-1zm0 1h1v1h-1zm0 3h1v1h-1zm0 18h1v1h-1zm0 14h1v1h-1zm1 -45h1v1h-1zm0 12h1v1h-1zm0 13h1v1h-1zm0 2h1v1h-1zm0 4h1v1h-1zm0 7h1v1h-1zm1 -18h1v1h-1zm0 8h1v1h-1zm0 3h1v1h-1zm0 4h1v1h-1zm0 3h1v1h-1zm1 -64h1v1h-1zm0 37h1v1h-1zm0 1h1v1h-1zm0 5h1v1h-1zm0 2h1v1h-1zm0 8h1v1h-1zm0 2h1v1h-1zm0 3h1v1h-1zm0 3h1v1h-1zm0 10h1v1h-1zm1 -38h1v1h-1zm0 1h1v1h-1zm0 14h1v1h-1zm0 2h1v1h-1zm0 1h1v1h-1zm0 1h1v1h-1zm0 5h1v1h-1zm0 2h1v1h-1zm1 -28h1v1h-1zm0 14h1v1h-1zm1 -10h1v1h-1zm0 2h1v1h-1zm0 1h1v1h-1zm0 3h1v1h-1zm0 3h1v1h-1zm0 5h1v1h-1zm0 6h1v1h-1zm1 -23h1v1h-1zm0 5h1v1h-1zm0 2h1v1h-1zm0 5h1v1h-1zm0 5h1v1h-1zm0 2h1v1h-1zm0 2h1v1h-1zm0 3h1v1h-1zm0 8h1v1h-1zm1 -67h1v1h-1zm0 36h1v1h-1zm0 3h1v1h-1zm0 5h1v1h-1zm0 1h1v1h-1zm0 2h1v1h-1zm0 4h1v1h-1zm0 5h1v1h-1zm1 -58h1v1h-1zm0 44h1v1h-1zm0 8h1v1h-1zm0 2h1v1h-1zm0 3h1v1h-1zm0 12h1v1h-1zm1 -55h1v1h-1zm0 18h1v1h-1zm0 2h1v1h-1zm0 10h1v1h-1zm0 1h1v1h-1zm0 4h1v1h-1zm0 2h1v1h-1zm0 23h1v1h-1zm1 -38h1v1h-1zm0 6h1v1h-1zm0 2h1v1h-1zm0 5h1v1h-1zm1 -47h1v1h-1zm0 11h1v1h-1zm0 21h1v1h-1zm0 4h1v1h-1zm0 9h1v1h-1zm0 1h1v1h-1zm0 2h1v1h-1zm0 3h1v1h-1zm0 4h1v1h-1zm1 -53h1v1h-1zm0 12h1v1h-1zm0 24h1v1h-1zm0 14h1v1h-1zm0 3h1v1h-1zm0 10h1v1h-1zm1 -31h1v1h-1zm0 2h1v1h-1zm0 11h1v1h-1zm1 -39h1v1h-1zm0 20h1v1h-1zm0 19h1v1h-1zm0 1h1v1h-1zm0 2h1v1h-1zm0 4h1v1h-1zm1 -44h1v1h-1zm1 -2h1v1h-1zm0 31h1v1h-1zm0 4h1v1h-1zm0 9h1v1h-1zm0 1h1v1h-1zm1 -49h1v1h-1zm0 32h1v1h-1zm0 8h1v1h-1zm0 1h1v1h-1zm1 -40h1v1h-1zm0 6h1v1h-1zm0 33h1v1h-1zm0 1h1v1h-1zm1 -38h1v1h-1zm0 29h1v1h-1zm0 3h1v1h-1zm0 5h1v1h-1zm0 3h1v1h-1zm0 16h1v1h-1zm1 -24h1v1h-1zm1 -43h1v1h-1zm0 43h1v1h-1zm0 10h1v1h-1zm1 -53h1v1h-1zm0 3h1v1h-1zm0 6h1v1h-1zm1 31h1v1h-1zm0 7h1v1h-1zm0 10h1v1h-1zm1 -53h1v1h-1zm0 6h1v1h-1zm0 35h1v1h-1zm0 2h1v1h-1zm0 7h1v1h-1zm0 7h1v1h-1zm1 -11h1v1h-1zm0 8h1v1h-1zm1 -21h1v1h-1zm0 7h1v1h-1zm0 5h1v1h-1zm0 6h1v1h-1zm1 -53h1v1h-1zm0 7h1v1h-1zm0 18h1v1h-1zm0 17h1v1h-1zm0 5h1v1h-1zm0 2h1v1h-1zm0 9h1v1h-1zm1 -53h1v1h-1zm0 1h1v1h-1zm0 34h1v1h-1zm0 1h1v1h-1zm0 9h1v1h-1zm0 3h1v1h-1zm0 5h1v1h-1zm1 -58h1v1h-1zm0 5h1v1h-1zm0 42h1v1h-1zm0 1h1v1h-1zm0 12h1v1h-1zm1 -57h1v1h-1zm0 21h1v1h-1zm0 13h1v1h-1zm0 1h1v1h-1zm0 10h1v1h-1zm0 3h1v1h-1zm1 -55h1v1h-1zm0 4h1v1h-1zm0 2h1v1h-1zm0 36h1v1h-1zm0 4h1v1h-1zm0 7h1v1h-1zm0 3h1v1h-1zm0 3h1v1h-1zm1 -60h1v1h-1zm0 1h1v1h-1zm0 23h1v1h-1zm0 15h1v1h-1zm0 11h1v1h-1zm0 5h1v1h-1zm0 7h1v1h-1zm1 -61h1v1h-1zm0 3h1v1h-1zm0 4h1v1h-1zm0 44h1v1h-1zm0 3h1v1h-1zm0 1h1v1h-1zm0 5h1v1h-1zm1 -57h1v1h-1zm0 1h1v1h-1zm0 1h1v1h-1zm0 2h1v1h-1zm0 45h1v1h-1zm0 2h1v1h-1zm0 8h1v1h-1zm1 -59h1v1h-1zm0 4h1v1h-1zm0 3h1v1h-1zm0 34h1v1h-1zm0 1h1v1h-1zm0 8h1v1h-1zm0 1h1v1h-1zm0 1h1v1h-1zm0 4h1v1h-1zm0 4h1v1h-1zm1 -56h1v1h-1zm0 36h1v1h-1zm0 2h1v1h-1zm0 8h1v1h-1zm0 8h1v1h-1zm1 -57h1v1h-1zm0 1h1v1h-1zm0 1h1v1h-1zm0 5h1v1h-1zm0 34h1v1h-1zm0 2h1v1h-1zm0 2h1v1h-1zm0 7h1v1h-1zm0 3h1v1h-1zm1 -60h1v1h-1zm0 5h1v1h-1zm0 2h1v1h-1zm0 41h1v1h-1zm0 3h1v1h-1zm0 4h1v1h-1zm0 6h1v1h-1zm0 1h1v1h-1zm1 -61h1v1h-1zm0 1h1v1h-1zm0 1h1v1h-1zm0 2h1v1h-1zm0 2h1v1h-1zm0 1h1v1h-1zm0 2h1v1h-1zm0 37h1v1h-1zm0 5h1v1h-1zm0 1h1v1h-1zm0 2h1v1h-1zm0 2h1v1h-1zm0 3h1v1h-1zm0 2h1v1h-1zm0 2h1v1h-1zm1 -62h1v1h-1zm0 41h1v1h-1zm0 2h1v1h-1zm0 4h1v1h-1zm0 1h1v1h-1zm0 2h1v1h-1zm1 -53h1v1h-1zm0 7h1v1h-1zm0 2h1v1h-1zm0 2h1v1h-1zm0 22h1v1h-1zm0 14h1v1h-1zm0 8h1v1h-1zm0 1h1v1h-1zm0 3h1v1h-1zm0 7h1v1h-1zm1 -67h1v1h-1zm0 1h1v1h-1zm0 5h1v1h-1zm0 2h1v1h-1zm0 4h1v1h-1zm0 2h1v1h-1zm0 40h1v1h-1zm0 2h1v1h-1zm0 6h1v1h-1zm1 -61h1v1h-1zm0 2h1v1h-1zm0 1h1v1h-1zm0 3h1v1h-1zm0 4h1v1h-1zm0 1h1v1h-1zm0 34h1v1h-1zm0 5h1v1h-1zm1 -51h1v1h-1zm0 5h1v1h-1zm0 1h1v1h-1zm0 5h1v1h-1zm0 42h1v1h-1zm0 1h1v1h-1zm0 7h1v1h-1zm0 7h1v1h-1zm1 -69h1v1h-1zm0 2h1v1h-1zm0 4h1v1h-1zm0 2h1v1h-1zm0 3h1v1h-1zm0 4h1v1h-1zm0 1h1v1h-1zm0 3h1v1h-1zm0 28h1v1h-1zm0 14h1v1h-1zm0 2h1v1h-1zm0 13h1v1h-1zm1 -74h1v1h-1zm0 5h1v1h-1zm0 4h1v1h-1zm0 6h1v1h-1zm0 3h1v1h-1zm0 29h1v1h-1zm0 4h1v1h-1zm0 2h1v1h-1zm1 -52h1v1h-1zm0 8h1v1h-1zm0 4h1v1h-1zm0 3h1v1h-1zm0 36h1v1h-1zm0 4h1v1h-1zm0 6h1v1h-1zm0 2h1v1h-1zm1 -60h1v1h-1zm0 5h1v1h-1zm0 1h1v1h-1zm0 2h1v1h-1zm0 4h1v1h-1zm0 32h1v1h-1zm0 9h1v1h-1zm0 1h1v1h-1zm1 -62h1v1h-1zm0 2h1v1h-1zm0 4h1v1h-1zm0 17h1v1h-1zm0 35h1v1h-1zm0 10h1v1h-1zm1 -65h1v1h-1zm0 7h1v1h-1zm0 7h1v1h-1zm0 2h1v1h-1zm1 -12h1v1h-1zm0 3h1v1h-1zm0 1h1v1h-1zm0 2h1v1h-1zm0 2h1v1h-1zm0 39h1v1h-1zm1 -49h1v1h-1zm0 5h1v1h-1zm0 1h1v1h-1zm0 1h1v1h-1zm1 -3h1v1h-1zm0 3h1v1h-1zm0 6h1v1h-1zm0 4h1v1h-1zm1 -13h1v1h-1zm0 51h1v1h-1zm1 -56h1v1h-1zm0 5h1v1h-1zm0 2h1v1h-1zm0 1h1v1h-1zm0 4h1v1h-1zm1 -14h1v1h-1zm0 1h1v1h-1zm0 5h1v1h-1zm0 4h1v1h-1zm0 5h1v1h-1zm1 -13h1v1h-1zm0 3h1v1h-1zm0 5h1v1h-1zm0 1h1v1h-1zm0 4h1v1h-1zm0 2h1v1h-1zm1 -16h1v1h-1zm0 8h1v1h-1zm0 2h1v1h-1zm0 3h1v1h-1zm1 -12h1v1h-1zm0 6h1v1h-1zm0 2h1v1h-1zm0 3h1v1h-1zm1 -10h1v1h-1zm0 1h1v1h-1zm0 1h1v1h-1zm0 5h1v1h-1zm1 -9h1v1h-1zm0 2h1v1h-1zm0 4h1v1h-1zm0 2h1v1h-1zm0 1h1v1h-1zm0 2h1v1h-1zm0 2h1v1h-1zm0 4h1v1h-1zm1 -12h1v1h-1zm0 5h1v1h-1zm0 2h1v1h-1zm0 2h1v1h-1zm1 -10h1v1h-1zm0 1h1v1h-1zm0 1h1v1h-1zm0 2h1v1h-1zm0 2h1v1h-1zm0 1h1v1h-1zm1 -10h1v1h-1zm0 3h1v1h-1zm0 1h1v1h-1zm1 0h1v1h-1zm0 2h1v1h-1zm2 -1h1v1h-1zm0 2h1v1h-1zm1 -2h1v1h-1zm0 1h1v1h-1zm0 1h1v1h-1zm0 5h1v1h-1zm1 -5h1v1h-1zm1 6h1v1h-1zm1 1h1v1h-1zm1 -8h1v1h-1zm1 13h1v1h-1zm1 -9h1v1h-1zm6 4h1v1h-1zm1 -16h1v1h-1zm2 5h1v1h-1z" fill="#f41010" fill-opacity="0.8"/>
<path d="M283 310h1v1h-1zm0 6h1v1h-1zm1 -4h1v1h-1zm0 8h1v1h-1zm1 -12h1v1h-1zm1 2h1v1h-1zm1 2h1v1h-1zm2 -7h1v1h-1zm0 3h1v1h-1zm0 4h1v1h-1zm0 3h1v1h-1zm0 4h1v1h-1zm1 -15h1v1h-1zm0 1h1v1h-1zm0 6h1v1h-1zm0 5h1v1h-1zm1 -12h1v1h-1zm0 1h1v1h-1zm0 7h1v1h-1zm0 3h1v1h-1zm0 2h1v1h-1zm0 1h1v1h-1zm1 -14h1v1h-1zm0 1h1v1h-1zm0 1h1v1h-1zm0 8h1v1h-1zm0 1h1v1h-1zm0 3h1v1h-1zm1 -12h1v1h-1zm0 2h1v1h-1zm0 2h1v1h-1zm0 2h1v1h-1zm0 3h1v1h-1zm0 2h1v1h-1zm0 1h1v1h-1zm1 -12h1v1h-1zm0 1h1v1h-1zm0 1h1v1h-1zm0 3h1v1h-1zm0 1h1v1h-1zm0 1h1v1h-1zm0 1h1v1h-1zm0 2h1v1h-1zm0 1h1v1h-1zm0 1h1v1h-1zm1 -10h1v1h-1zm0 1h1v1h-1zm0 1h1v1h-1zm0 1h1v1h-1zm0 4h1v1h-1zm0 1h1v1h-1zm0 1h1v1h-1zm0 1h1v1h-1zm1 -15h1v1h-1zm0 1h1v1h-1zm0 2h1v1h-1zm0 2h1v1h-1zm0 1h1v1h-1zm0 1h1v1h-1zm0 1h1v1h-1zm0 2h1v1h-1zm0 1h1v1h-1zm0 1h1v1h-1zm0 2h1v1h-1zm0 2h1v1h-1zm0 1h1v1h-1zm1 -20h1v1h-1zm0 2h1v1h-1zm0 1h1v1h-1zm0 1h1v1h-1zm0 1h1v1h-1zm0 1h1v1h-1zm0 1h1v1h-1zm0 1h1v1h-1zm0 1h1v1h-1zm0 1h1v1h-1zm0 2h1v1h-1zm0 1h1v1h-1zm0 1h1v1h-1zm0 3h1v1h-1zm0 1h1v1h-1zm0 2h1v1h-1zm0 7h1v1h-1zm1 -30h1v1h-1zm0 3h1v1h-1zm0 1h1v1h-1zm0 2h1v1h-1zm0 1h1v1h-1zm0 1h1v1h-1zm0 1h1v1h-1zm0 1h1v1h-1zm0 1h1v1h-1zm0 1h1v1h-1zm0 1h1v1h-1zm0 1h1v1h-1zm0 1h1v1h-1zm0 1h1v1h-1zm0 1h1v1h-1zm0 1h1v1h-1zm0 1h1v1h-1zm0 1h1v1h-1zm0 1h1v1h-1zm0 1h1v1h-1zm0 1h1v1h-1zm0 1h1v1h-1zm1 -19h1v1h-1zm0 1h1v1h-1zm0 1h1v1h-1zm0 1h1v1h-1zm0 1h1v1h-1zm0 1h1v1h-1zm0 1h1v1h-1zm0 1h1v1h-1zm0 1h1v1h-1zm0 1h1v1h-1zm0 1h1v1h-1zm0 2h1v1h-1zm0 1h1v1h-1zm0 1h1v1h-1zm0 1h1v1h-1zm0 1h1v1h-1zm0 1h1v1h-1zm0 4h1v1h-1zm1 -22h1v1h-1zm0 1h1v1h-1zm0 2h1v1h-1zm0 1h1v1h-1zm0 1h1v1h-1zm0 1h1v1h-1zm0 1h1v1h-1zm0 1h1v1h-1zm0 1h1v1h-1zm0 1h1v1h-1zm0 1h1v1h-1zm0 1h1v1h-1zm0 1h1v1h-1zm0 1h1v1h-1zm0 1h1v1h-1zm0 2h1v1h-1zm0 1h1v1h-1zm1 -23h1v1h-1zm0 3h1v1h-1zm0 3h1v1h-1zm0 1h1v1h-1zm0 1h1v1h-1zm0 1h1v1h-1zm0 1h1v1h-1zm0 1h1v1h-1zm0 1h1v1h-1zm0 1h1v1h-1zm0 1h1v1h-1zm0 1h1v1h-1zm0 1h1v1h-1zm0 1h1v1h-1zm0 2h1v1h-1zm0 1h1v1h-1zm0 1h1v1h-1zm0 2h1v1h-1zm0 1h1v1h-1zm0 3h1v1h-1zm0 2h1v1h-1zm1 -28h1v1h-1zm0 5h1v1h-1zm0 1h1v1h-1zm0 1h1v1h-1zm0 1h1v1h-1zm0 1h1v1h-1zm0 1h1v1h-1zm0 1h1v1h-1zm0 1h1v1h-1zm0 1h1v1h-1zm0 1h1v1h-1zm0 1h1v1h-1zm0 1h1v1h-1zm0 2h1v1h-1zm0 1h1v1h-1zm0 1h1v1h-1zm0 1h1v1h-1zm0 2h1v1h-1zm0 1h1v1h-1zm1 -20h1v1h-1zm0 1h1v1h-1zm0 1h1v1h-1zm0 1h1v1h-1zm0 1h1v1h-1zm0 1h1v1h-1zm0 1h1v1h-1zm0 1h1v1h-1zm0 1h1v1h-1zm0 1h1v1h-1zm0 1h1v1h-1zm0 1h1v1h-1zm0 2h1v1h-1zm0 1h1v1h-1zm0 1h1v1h-1zm0 2h1v1h-1zm0 1h1v1h-1zm0 3h1v1h-1zm0 3h1v1h-1zm1 -29h1v1h-1zm0 5h1v1h-1zm0 1h1v1h-1zm0 1h1v1h-1zm0 1h1v1h-1zm0 1h1v1h-1zm0 1h1v1h-1zm0 1h1v1h-1zm0 1h1v1h-1zm0 1h1v1h-1zm0 1h1v1h-1zm0 1h1v1h-1zm0 1h1v1h-1zm0 1h1v1h-1zm0 1h1v1h-1zm0 2h1v1h-1zm0 1h1v1h-1zm0 1h1v1h-1zm0 2h1v1h-1zm0 1h1v1h-1zm0 3h1v1h-1zm0 1h1v1h-1zm1 -33h1v1h-1zm0 8h1v1h-1zm0 1h1v1h-1zm0 1h1v1h-1zm0 1h1v1h-1zm0 1h1v1h-1zm0 1h1v1h-1zm0 1h1v1h-1zm0 1h1v1h-1zm0 1h1v1h-1zm0 1h1v1h-1zm0 1h1v1h-1zm0 1h1v1h-1zm0 1h1v1h-1zm0 1h1v1h-1zm0 1h1v1h-1zm0 1h1v1h-1zm0 1h1v1h-1zm0 1h1v1h-1zm0 3h1v1h-1zm0 3h1v1h-1zm0 1h1v1h-1zm1 -28h1v1h-1zm0 2h1v1h-1zm0 1h1v1h-1zm0 1h1v1h-1zm0 1h1v1h-1zm0 1h1v1h-1zm0 1h1v1h-1zm0 1h1v1h-1zm0 1h1v1h-1zm0 1h1v1h-1zm0 1h1v1h-1zm0 1h1v1h-1zm0 1h1v1h-1zm0 1h1v1h-1zm0 1h1v1h-1zm0 1h1v1h-1zm0 1h1v1h-1zm0 1h1v1h-1zm0 1h1v1h-1zm0 1h1v1h-1zm0 1h1v1h-1zm0 1h1v1h-1zm0 2h1v1h-1zm0 1h1v1h-1zm0 2h1v1h-1zm1 -26h1v1h-1zm0 1h1v1h-1zm0 1h1v1h-1zm0 1h1v1h-1zm0 1h1v1h-1zm0 1h1v1h-1zm0 1h1v1h-1zm0 1h1v1h-1zm0 1h1v1h-1zm0 1h1v1h-1zm0 1h1v1h-1zm0 1h1v1h-1zm0 1h1v1h-1zm0 1h1v1h-1zm0 1h1v1h-1zm0 1h1v1h-1zm0 1h1v1h-1zm0 1h1v1h-1zm0 1h1v1h-1zm0 1h1v1h-1zm0 3h1v1h-1zm0 1h1v1h-1zm1 -24h1v1h-1zm0 2h1v1h-1zm0 1h1v1h-1zm0 1h1v1h-1zm0 1h1v1h-1zm0 1h1v1h-1zm0 1h1v1h-1zm0 1h1v1h-1zm0 1h1v1h-1zm0 1h1v1h-1zm0 1h1v1h-1zm0 1h1v1h-1zm0 1h1v1h-1zm0 1h1v1h-1zm0 1h1v1h-1zm0 1h1v1h-1zm0 1h1v1h-1zm0 1h1v1h-1zm0 1h1v1h-1zm0 1h1v1h-1zm0 1h1v1h-1zm1 -19h1v1h-1zm0 2h1v1h-1zm0 1h1v1h-1zm0 1h1v1h-1zm0 1h1v1h-1zm0 1h1v1h-1zm0 1h1v1h-1zm0 1h1v1h-1zm0 1h1v1h-1zm0 1h1v1h-1zm0 1h1v1h-1zm0 1h1v1h-1zm0 1h1v1h-1zm0 1h1v1h-1zm0 1h1v1h-1zm0 2h1v1h-1zm0 1h1v1h-1zm0 1h1v1h-1zm1 -20h1v1h-1zm0 1h1v1h-1zm0 1h1v1h-1zm0 1h1v1h-1zm0 1h1v1h-1zm0 1h1v1h-1zm0 1h1v1h-1zm0 2h1v1h-1zm0 1h1v1h-1zm0 1h1v1h-1zm0 1h1v1h-1zm0 1h1v1h-1zm0 2h1v1h-1zm0 1h1v1h-1zm0 1h1v1h-1zm0 1h1v1h-1zm0 1h1v1h-1zm0 1h1v1h-1zm0 1h1v1h-1zm0 1h1v1h-1zm1 -27h1v1h-1zm0 2h1v1h-1zm0 4h1v1h-1zm0 1h1v1h-1zm0 2h1v1h-1zm0 1h1v1h-1zm0 1h1v1h-1zm0 1h1v1h-1zm0 1h1v1h-1zm0 1h1v1h-1zm0 1h1v1h-1zm0 1h1v1h-1zm0 1h1v1h-1zm0 1h1v1h-1zm0 1h1v1h-1zm0 1h1v1h-1zm0 1h1v1h-1zm0 1h1v1h-1zm0 1h1v1h-1zm0 1h1v1h-1zm0 2h1v1h-1zm0 1h1v1h-1zm0 2h1v1h-1zm1 -20h1v1h-1zm0 1h1v1h-1zm0 1h1v1h-1zm0 1h1v1h-1zm0 1h1v1h-1zm0 1h1v1h-1zm0 1h1v1h-1zm0 1h1v1h-1zm0 1h1v1h-1zm0 1h1v1h-1zm0 1h1v1h-1zm0 1h1v1h-1zm0 1h1v1h-1zm0 1h1v1h-1zm0 1h1v1h-1zm0 6h1v1h-1zm1 -22h1v1h-1zm0 3h1v1h-1zm0 1h1v1h-1zm0 1h1v1h-1zm0 1h1v1h-1zm0 1h1v1h-1zm0 1h1v1h-1zm0 1h1v1h-1zm0 1h1v1h-1zm0 1h1v1h-1zm0 1h1v1h-1zm0 1h1v1h-1zm0 1h1v1h-1zm0 1h1v1h-1zm0 1h1v1h-1zm0 1h1v1h-1zm0 2h1v1h-1zm0 2h1v1h-1zm1 -24h1v1h-1zm0 2h1v1h-1zm0 1h1v1h-1zm0 2h1v1h-1zm0 1h1v1h-1zm0 1h1v1h-1zm0 1h1v1h-1zm0 1h1v1h-1zm0 1h1v1h-1zm0 1h1v1h-1zm0 1h1v1h-1zm0 1h1v1h-1zm0 1h1v1h-1zm0 1h1v1h-1zm0 1h1v1h-1zm0 2h1v1h-1zm0 2h1v1h-1zm0 1h1v1h-1zm0 3h1v1h-1zm0 1h1v1h-1zm0 6h1v1h-1zm1 -34h1v1h-1zm0 2h1v1h-1zm0 4h1v1h-1zm0 1h1v1h-1zm0 2h1v1h-1zm0 1h1v1h-1zm0 1h1v1h-1zm0 1h1v1h-1zm0 1h1v1h-1zm0 1h1v1h-1zm0 2h1v1h-1zm0 1h1v1h-1zm0 1h1v1h-1zm0 1h1v1h-1zm0 1h1v1h-1zm0 2h1v1h-1zm0 2h1v1h-1zm0 1h1v1h-1zm1 -22h1v1h-1zm0 2h1v1h-1zm0 3h1v1h-1zm0 1h1v1h-1zm0 1h1v1h-1zm0 1h1v1h-1zm0 2h1v1h-1zm0 2h1v1h-1zm0 1h1v1h-1zm0 1h1v1h-1zm0 1h1v1h-1zm0 1h1v1h-1zm0 2h1v1h-1zm0 4h1v1h-1zm0 1h1v1h-1zm1 -19h1v1h-1zm0 1h1v1h-1zm0 1h1v1h-1zm0 1h1v1h-1zm0 2h1v1h-1zm0 1h1v1h-1zm0 1h1v1h-1zm0 1h1v1h-1zm0 3h1v1h-1zm0 4h1v1h-1zm0 3h1v1h-1zm1 -29h1v1h-1zm0 9h1v1h-1zm0 1h1v1h-1zm0 1h1v1h-1zm0 1h1v1h-1zm0 1h1v1h-1zm0 1h1v1h-1zm0 1h1v1h-1zm0 1h1v1h-1zm0 1h1v1h-1zm0 2h1v1h-1zm0 2h1v1h-1zm0 1h1v1h-1zm0 1h1v1h-1zm1 -11h1v1h-1zm0 1h1v1h-1zm0 2h1v1h-1zm0 1h1v1h-1zm0 2h1v1h-1zm0 1h1v1h-1zm0 2h1v1h-1zm0 2h1v1h-1zm0 2h1v1h-1zm1 -12h1v1h-1zm0 1h1v1h-1zm0 1h1v1h-1zm0 3h1v1h-1zm0 1h1v1h-1zm0 1h1v1h-1zm0 1h1v1h-1zm0 2h1v1h-1zm0 2h1v1h-1zm1 -14h1v1h-1zm0 7h1v1h-1zm0 1h1v1h-1zm0 1h1v1h-1zm0 3h1v1h-1zm0 9h1v1h-1zm1 -26h1v1h-1zm0 9h1v1h-1zm0 2h1v1h-1zm0 1h1v1h-1zm0 1h1v1h-1zm1 -10h1v1h-1zm0 16h1v1h-1zm0 3h1v1h-1zm1 -13h1v1h-1zm1 -2h1v1h-1zm0 4h1v1h-1zm0 5h1v1h-1zm1 -15h1v1h-1zm1 1h1v1h-1zm2 4h1v1h-1zm2 10h1v1h-1zm1 -6h1v1h-1zm0 2h1v1h-1zm2 0h1v1h-1zm3 4h1v1h-1zm1 -19h1v1h-1zm0 20h1v1h-1zm1 -9h1v1h-1zm0 6h1v1h-1zm0 1h1v1h-1zm1 -47h1v1h-1zm1 39h1v1h-1zm0 14h1v1h-1zm1 -17h1v1h-1zm0 3h1v1h-1zm0 3h1v1h-1zm1 -5h1v1h-1zm0 6h1v1h-1zm0 3h1v1h-1zm1 -8h1v1h-1zm0 6h1v1h-1zm0 2h1v1h-1zm0 2h1v1h-1zm1 -9h1v1h-1zm0 2h1v1h-1zm0 4h1v1h-1zm1 -54h1v1h-1zm0 46h1v1h-1zm0 3h1v1h-1zm0 8h1v1h-1zm0 2h1v1h-1zm1 -14h1v1h-1zm0 3h1v1h-1zm0 1h1v1h-1zm1 -40h1v1h-1zm0 38h1v1h-1zm0 12h1v1h-1zm1 -46h1v1h-1zm0 29h1v1h-1zm0 7h1v1h-1zm0 1h1v1h-1zm0 9h1v1h-1zm1 -56h1v1h-1zm0 43h1v1h-1zm0 5h1v1h-1zm0 5h1v1h-1zm0 7h1v1h-1zm1 -55h1v1h-1zm0 41h1v1h-1zm0 2h1v1h-1zm0 2h1v1h-1zm0 1h1v1h-1zm0 2h1v1h-1zm1 -55h1v1h-1zm0 1h1v1h-1zm0 45h1v1h-1zm0 4h1v1h-1zm1 -49h1v1h-1zm0 2h1v1h-1zm0 3h1v1h-1zm0 41h1v1h-1zm0 1h1v1h-1zm0 5h1v1h-1zm0 2h1v1h-1zm1 -57h1v1h-1zm0 4h1v1h-1zm0 1h1v1h-1zm0 2h1v1h-1zm0 2h1v1h-1zm0 3h1v1h-1zm0 40h1v1h-1zm0 3h1v1h-1zm1 -53h1v1h-1zm0 4h1v1h-1zm0 2h1v1h-1zm0 38h1v1h-1zm0 1h1v1h-1zm0 9h1v1h-1zm1 -55h1v1h-1zm0 1h1v1h-1zm0 2h1v1h-1zm0 2h1v1h-1zm0 2h1v1h-1zm0 42h1v1h-1zm0 5h1v1h-1zm0 2h1v1h-1zm0 1h1v1h-1zm1 -56h1v1h-1zm0 4h1v1h-1zm0 1h1v1h-1zm0 42h1v1h-1zm0 3h1v1h-1zm0 3h1v1h-1zm0 5h1v1h-1zm0 8h1v1h-1zm1 -69h1v1h-1zm0 13h1v1h-1zm0 40h1v1h-1zm0 1h1v1h-1zm1 -53h1v1h-1zm0 1h1v1h-1zm0 2h1v1h-1zm0 2h1v1h-1zm0 1h1v1h-1zm0 2h1v1h-1zm0 43h1v1h-1zm1 -51h1v1h-1zm0 2h1v1h-1zm0 3h1v1h-1zm0 3h1v1h-1zm0 2h1v1h-1zm0 2h1v1h-1zm0 50h1v1h-1zm1 -62h1v1h-1zm0 4h1v1h-1zm0 1h1v1h-1zm0 1h1v1h-1zm0 2h1v1h-1zm0 2h1v1h-1zm0 2h1v1h-1zm1 -13h1v1h-1zm0 4h1v1h-1zm0 2h1v1h-1zm0 1h1v1h-1zm0 3h1v1h-1zm0 3h1v1h-1zm0 50h1v1h-1zm1 -63h1v1h-1zm0 2h1v1h-1zm0 1h1v1h-1zm0 1h1v1h-1zm0 1h1v1h-1zm0 1h1v1h-1zm0 2h1v1h-1zm0 1h1v1h-1zm0 2h1v1h-1zm0 41h1v1h-1zm1 -50h1v1h-1zm0 1h1v1h-1zm0 1h1v1h-1zm0 3h1v1h-1zm0 1h1v1h-1zm0 1h1v1h-1zm0 2h1v1h-1zm1 -8h1v1h-1zm0 1h1v1h-1zm0 3h1v1h-1zm0 2h1v1h-1zm0 3h1v1h-1zm0 1h1v1h-1zm1 -14h1v1h-1zm0 2h1v1h-1zm0 1h1v1h-1zm0 2h1v1h-1zm0 4h1v1h-1zm0 1h1v1h-1zm0 1h1v1h-1zm1 -11h1v1h-1zm0 2h1v1h-1zm0 2h1v1h-1zm0 2h1v1h-1zm0 3h1v1h-1zm0 1h1v1h-1zm0 1h1v1h-1zm1 -10h1v1h-1zm0 2h1v1h-1zm0 1h1v1h-1zm0 2h1v1h-1zm0 2h1v1h-1zm0 1h1v1h-1zm0 4h1v1h-1zm1 -14h1v1h-1zm0 3h1v1h-1zm0 4h1v1h-1zm0 4h1v1h-1zm0 1h1v1h-1zm1 -10h1v1h-1zm0 1h1v1h-1zm0 1h1v1h-1zm0 2h1v1h-1zm0 1h1v1h-1zm0 1h1v1h-1zm1 -6h1v1h-1zm0 1h1v1h-1zm0 2h1v1h-1zm0 2h1v1h-1zm1 -4h1v1h-1zm0 1h1v1h-1zm0 7h1v1h-1zm0 1h1v1h-1zm0 3h1v1h-1zm1 -11h1v1h-1zm0 2h1v1h-1zm0 11h1v1h-1zm2 -16h1v1h-1zm0 3h1v1h-1zm1 -3h1v1h-1zm0 3h1v1h-1zm0 4h1v1h-1zm1 -7h1v1h-1zm0 6h1v1h-1zm2 -1h1v1h-1zm1 -1h1v1h-1zm1 -1h1v1h-1zm0 5h1v1h-1zm1 -6h1v1h-1zm2 2h1v1h-1z" fill="#ff0000" fill-opacity="1.0"/>
<rect x="282.5" y="200.5" width="143" height="134" fill="none" stroke="#4a4a4a" stroke-width="1.1"/>
<line x1="340.5" y1="200.5" x2="340.5" y2="334.5" stroke="#555" stroke-width="1.1"/>
<line x1="282.5" y1="278.5" x2="425.5" y2="278.5" stroke="#555" stroke-width="1.1"/>
<path d="M279.3 329.41H282.1M279.3 326.1H282.1M279.3 323.39H282.1M279.3 321.1H282.1M279.3 319.11H282.1M279.3 317.36H282.1M277.3 315.8H282.1M279.3 305.5H282.1M279.3 299.48H282.1M279.3 295.21H282.1M279.3 291.9H282.1M279.3 289.19H282.1M279.3 286.9H282.1M279.3 284.91H282.1M279.3 283.16H282.1M277.3 281.6H282.1M279.3 271.3H282.1M279.3 265.28H282.1M279.3 261.01H282.1M279.3 257.7H282.1M279.3 254.99H282.1M279.3 252.7H282.1M279.3 250.71H282.1M279.3 248.96H282.1M277.3 247.4H282.1M279.3 237.1H282.1M279.3 231.08H282.1M279.3 226.81H282.1M279.3 223.5H282.1M279.3 220.79H282.1M279.3 218.5H282.1M279.3 216.51H282.1M279.3 214.76H282.1M277.3 213.2H282.1M279.3 202.9H282.1M286.37 334.5V337.5M289.86 334.5V337.5M292.71 334.5V337.5M295.12 334.5V337.5M297.21 334.5V337.5M299.05 334.5V337.5M300.7 334.5V339.3M311.54 334.5V337.5M317.88 334.5V337.5M322.37 334.5V337.5M325.86 334.5V337.5M328.71 334.5V337.5M331.12 334.5V337.5M333.21 334.5V337.5M335.05 334.5V337.5M336.7 334.5V339.3M347.54 334.5V337.5M353.88 334.5V337.5M358.37 334.5V337.5M361.86 334.5V337.5M364.71 334.5V337.5M367.12 334.5V337.5M369.21 334.5V337.5M371.05 334.5V337.5M372.7 334.5V339.3M383.54 334.5V337.5M389.88 334.5V337.5M394.37 334.5V337.5M397.86 334.5V337.5M400.71 334.5V337.5M403.12 334.5V337.5M405.21 334.5V337.5M407.05 334.5V337.5M408.7 334.5V339.3M419.54 334.5V337.5" stroke="#333" stroke-width="1" fill="none"/>
<text transform="translate(276.1 317.3) rotate(-90)" font-size="6" font-family="Liberation Sans" text-anchor="middle" fill="#222">10<tspan dy="-2.4" font-size="4.3">2</tspan></text>
<text x="302.2" y="346.1" font-size="6" font-family="Liberation Sans" text-anchor="middle" fill="#222">10<tspan dy="-2.4" font-size="4.3">2</tspan></text>
<text transform="translate(276.1 283.1) rotate(-90)" font-size="6" font-family="Liberation Sans" text-anchor="middle" fill="#222">10<tspan dy="-2.4" font-size="4.3">3</tspan></text>
<text x="338.2" y="346.1" font-size="6" font-family="Liberation Sans" text-anchor="middle" fill="#222">10<tspan dy="-2.4" font-size="4.3">3</tspan></text>
<text transform="translate(276.1 248.9) rotate(-90)" font-size="6" font-family="Liberation Sans" text-anchor="middle" fill="#222">10<tspan dy="-2.4" font-size="4.3">4</tspan></text>
<text x="374.2" y="346.1" font-size="6" font-family="Liberation Sans" text-anchor="middle" fill="#222">10<tspan dy="-2.4" font-size="4.3">4</tspan></text>
<text transform="translate(276.1 214.7) rotate(-90)" font-size="6" font-family="Liberation Sans" text-anchor="middle" fill="#222">10<tspan dy="-2.4" font-size="4.3">5</tspan></text>
<text x="410.2" y="346.1" font-size="6" font-family="Liberation Sans" text-anchor="middle" fill="#222">10<tspan dy="-2.4" font-size="4.3">5</tspan></text>
<text x="318.4" y="265.6" font-size="6.8" font-family="Liberation Sans" fill="#333">Q1</text>
<text x="353.1" y="265.6" font-size="6.8" font-family="Liberation Sans" fill="#333">Q2</text>
<text x="318.4" y="299.5" font-size="6.8" font-family="Liberation Sans" fill="#333">Q3</text>
<text x="353.1" y="299.9" font-size="6.8" font-family="Liberation Sans" fill="#333">Q4</text>
<text x="353.7" y="197.4" font-size="15.8" text-anchor="middle">H/R</text>
<text x="291.2" y="219.4" font-size="13.6" font-weight="bold">1.8%</text>
<text x="382.6" y="219.4" font-size="13.6" font-weight="bold">16.7%</text>
<text x="285.6" y="295.2" font-size="13.6" font-weight="bold">69.5%</text>
<text x="381.6" y="295.2" font-size="13.6" font-weight="bold">12.0%</text>
<path d="M455 302h1v1h-1zm0 22h1v1h-1zm0 6h1v1h-1zm0 1h1v1h-1zm1 -24h1v1h-1zm0 5h1v1h-1zm0 4h1v1h-1zm0 2h1v1h-1zm0 1h1v1h-1zm0 1h1v1h-1zm0 2h1v1h-1zm0 1h1v1h-1zm0 2h1v1h-1zm0 1h1v1h-1zm0 1h1v1h-1zm0 2h1v1h-1zm1 -42h1v1h-1zm0 16h1v1h-1zm0 1h1v1h-1zm0 3h1v1h-1zm0 1h1v1h-1zm0 1h1v1h-1zm0 8h1v1h-1zm0 1h1v1h-1zm0 4h1v1h-1zm0 8h1v1h-1zm1 -25h1v1h-1zm0 2h1v1h-1zm0 4h1v1h-1zm0 7h1v1h-1zm0 1h1v1h-1zm0 1h1v1h-1zm0 4h1v1h-1zm0 5h1v1h-1zm0 3h1v1h-1zm1 -25h1v1h-1zm0 1h1v1h-1zm0 3h1v1h-1zm0 3h1v1h-1zm0 1h1v1h-1zm0 2h1v1h-1zm0 2h1v1h-1zm0 1h1v1h-1zm0 7h1v1h-1zm0 1h1v1h-1zm0 2h1v1h-1zm0 1h1v1h-1zm1 -30h1v1h-1zm0 2h1v1h-1zm0 2h1v1h-1zm0 14h1v1h-1zm0 4h1v1h-1zm1 -30h1v1h-1zm0 14h1v1h-1zm0 4h1v1h-1zm0 4h1v1h-1zm0 1h1v1h-1zm0 1h1v1h-1zm0 4h1v1h-1zm0 1h1v1h-1zm0 1h1v1h-1zm0 1h1v1h-1zm0 2h1v1h-1zm1 -22h1v1h-1zm0 2h1v1h-1zm0 7h1v1h-1zm0 2h1v1h-1zm0 2h1v1h-1zm0 1h1v1h-1zm0 1h1v1h-1zm0 2h1v1h-1zm0 7h1v1h-1zm0 2h1v1h-1zm1 -24h1v1h-1zm0 5h1v1h-1zm0 8h1v1h-1zm0 4h1v1h-1zm0 3h1v1h-1zm0 1h1v1h-1zm0 3h1v1h-1zm0 1h1v1h-1zm1 -34h1v1h-1zm0 5h1v1h-1zm0 7h1v1h-1zm0 7h1v1h-1zm0 2h1v1h-1zm0 1h1v1h-1zm0 2h1v1h-1zm0 3h1v1h-1zm0 3h1v1h-1zm0 4h1v1h-1zm1 -34h1v1h-1zm0 5h1v1h-1zm0 3h1v1h-1zm0 2h1v1h-1zm0 1h1v1h-1zm0 2h1v1h-1zm0 4h1v1h-1zm0 3h1v1h-1zm0 3h1v1h-1zm0 4h1v1h-1zm0 2h1v1h-1zm0 1h1v1h-1zm0 3h1v1h-1zm0 2h1v1h-1zm1 -30h1v1h-1zm0 2h1v1h-1zm0 2h1v1h-1zm0 2h1v1h-1zm0 4h1v1h-1zm0 6h1v1h-1zm0 1h1v1h-1zm0 10h1v1h-1zm0 1h1v1h-1zm0 1h1v1h-1zm1 -29h1v1h-1zm0 4h1v1h-1zm0 2h1v1h-1zm0 4h1v1h-1zm0 8h1v1h-1zm0 8h1v1h-1zm0 1h1v1h-1zm0 1h1v1h-1zm0 2h1v1h-1zm1 -35h1v1h-1zm0 6h1v1h-1zm0 2h1v1h-1zm0 16h1v1h-1zm0 4h1v1h-1zm0 2h1v1h-1zm0 3h1v1h-1zm0 1h1v1h-1zm1 -26h1v1h-1zm0 1h1v1h-1zm0 4h1v1h-1zm0 5h1v1h-1zm0 11h1v1h-1zm0 2h1v1h-1zm0 2h1v1h-1zm1 -24h1v1h-1zm0 2h1v1h-1zm0 2h1v1h-1zm0 1h1v1h-1zm0 8h1v1h-1zm0 2h1v1h-1zm1 -26h1v1h-1zm0 5h1v1h-1zm0 3h1v1h-1zm0 20h1v1h-1zm0 4h1v1h-1zm0 2h1v1h-1zm1 -30h1v1h-1zm0 2h1v1h-1zm0 7h1v1h-1zm0 5h1v1h-1zm0 1h1v1h-1zm0 13h1v1h-1zm0 2h1v1h-1zm0 1h1v1h-1zm0 2h1v1h-1zm1 -39h1v1h-1zm0 2h1v1h-1zm0 4h1v1h-1zm0 4h1v1h-1zm0 2h1v1h-1zm0 1h1v1h-1zm0 3h1v1h-1zm0 8h1v1h-1zm0 12h1v1h-1zm0 3h1v1h-1zm1 -34h1v1h-1zm0 4h1v1h-1zm0 2h1v1h-1zm0 1h1v1h-1zm0 2h1v1h-1zm0 2h1v1h-1zm0 2h1v1h-1zm0 1h1v1h-1zm0 4h1v1h-1zm0 1h1v1h-1zm0 1h1v1h-1zm0 8h1v1h-1zm0 3h1v1h-1zm1 -37h1v1h-1zm0 3h1v1h-1zm0 7h1v1h-1zm0 5h1v1h-1zm0 6h1v1h-1zm0 15h1v1h-1zm0 2h1v1h-1zm0 2h1v1h-1zm1 -41h1v1h-1zm0 5h1v1h-1zm0 4h1v1h-1zm0 1h1v1h-1zm0 1h1v1h-1zm0 2h1v1h-1zm0 4h1v1h-1zm0 15h1v1h-1zm0 5h1v1h-1zm0 1h1v1h-1zm1 -29h1v1h-1zm0 1h1v1h-1zm0 25h1v1h-1zm0 6h1v1h-1zm1 -35h1v1h-1zm0 4h1v1h-1zm0 2h1v1h-1zm0 1h1v1h-1zm0 26h1v1h-1zm0 2h1v1h-1zm1 -42h1v1h-1zm0 11h1v1h-1zm0 27h1v1h-1zm1 -40h1v1h-1zm0 6h1v1h-1zm0 1h1v1h-1zm0 3h1v1h-1zm0 3h1v1h-1zm0 1h1v1h-1zm0 1h1v1h-1zm0 21h1v1h-1zm0 6h1v1h-1zm1 -47h1v1h-1zm0 9h1v1h-1zm0 3h1v1h-1zm0 2h1v1h-1zm0 2h1v1h-1zm0 1h1v1h-1zm0 1h1v1h-1zm0 2h1v1h-1zm1 -16h1v1h-1zm0 4h1v1h-1zm0 4h1v1h-1zm0 1h1v1h-1zm0 1h1v1h-1zm0 2h1v1h-1zm0 30h1v1h-1zm0 1h1v1h-1zm1 -42h1v1h-1zm0 5h1v1h-1zm0 1h1v1h-1zm0 2h1v1h-1zm0 1h1v1h-1zm0 4h1v1h-1zm0 1h1v1h-1zm0 30h1v1h-1zm1 -41h1v1h-1zm0 3h1v1h-1zm0 2h1v1h-1zm0 2h1v1h-1zm0 2h1v1h-1zm0 1h1v1h-1zm0 27h1v1h-1zm0 1h1v1h-1zm0 1h1v1h-1zm1 -35h1v1h-1zm0 6h1v1h-1zm0 8h1v1h-1zm0 19h1v1h-1zm1 -45h1v1h-1zm0 2h1v1h-1zm0 7h1v1h-1zm0 2h1v1h-1zm0 3h1v1h-1zm0 3h1v1h-1zm0 1h1v1h-1zm0 2h1v1h-1zm1 -19h1v1h-1zm0 13h1v1h-1zm0 1h1v1h-1zm0 2h1v1h-1zm0 29h1v1h-1zm1 -37h1v1h-1zm0 2h1v1h-1zm0 7h1v1h-1zm0 1h1v1h-1zm0 2h1v1h-1zm0 1h1v1h-1zm0 1h1v1h-1zm0 25h1v1h-1zm0 1h1v1h-1zm1 -44h1v1h-1zm0 6h1v1h-1zm0 2h1v1h-1zm0 2h1v1h-1zm0 5h1v1h-1zm0 27h1v1h-1zm0 1h1v1h-1zm0 1h1v1h-1zm1 -41h1v1h-1zm0 5h1v1h-1zm0 1h1v1h-1zm0 5h1v1h-1zm0 26h1v1h-1zm0 3h1v1h-1zm1 -37h1v1h-1zm0 4h1v1h-1zm0 8h1v1h-1zm0 21h1v1h-1zm0 4h1v1h-1zm1 -40h1v1h-1zm0 3h1v1h-1zm0 2h1v1h-1zm0 1h1v1h-1zm0 1h1v1h-1zm0 12h1v1h-1zm0 3h1v1h-1zm1 -21h1v1h-1zm0 2h1v1h-1zm0 2h1v1h-1zm0 10h1v1h-1zm0 23h1v1h-1zm0 2h1v1h-1zm0 1h1v1h-1zm1 -35h1v1h-1zm0 26h1v1h-1zm0 7h1v1h-1zm0 2h1v1h-1zm1 -41h1v1h-1zm0 2h1v1h-1zm0 7h1v1h-1zm0 5h1v1h-1zm0 26h1v1h-1zm1 -37h1v1h-1zm0 1h1v1h-1zm0 1h1v1h-1zm0 4h1v1h-1zm0 2h1v1h-1zm0 29h1v1h-1zm1 -34h1v1h-1zm0 2h1v1h-1zm0 2h1v1h-1zm0 4h1v1h-1zm0 13h1v1h-1zm0 4h1v1h-1zm0 5h1v1h-1zm0 1h1v1h-1zm0 1h1v1h-1zm0 2h1v1h-1zm1 -45h1v1h-1zm0 7h1v1h-1zm0 1h1v1h-1zm0 1h1v1h-1zm0 5h1v1h-1zm0 26h1v1h-1zm0 2h1v1h-1zm0 2h1v1h-1zm1 -49h1v1h-1zm0 5h1v1h-1zm0 3h1v1h-1zm0 1h1v1h-1zm0 3h1v1h-1zm0 3h1v1h-1zm0 2h1v1h-1zm0 3h1v1h-1zm0 14h1v1h-1zm0 7h1v1h-1zm0 3h1v1h-1zm0 1h1v1h-1zm0 2h1v1h-1zm0 2h1v1h-1zm1 -50h1v1h-1zm0 4h1v1h-1zm0 3h1v1h-1zm0 4h1v1h-1zm0 1h1v1h-1zm0 5h1v1h-1zm0 4h1v1h-1zm0 24h1v1h-1zm0 6h1v1h-1zm1 -49h1v1h-1zm0 14h1v1h-1zm0 1h1v1h-1zm0 5h1v1h-1zm0 4h1v1h-1zm0 9h1v1h-1zm0 13h1v1h-1zm0 2h1v1h-1zm1 -43h1v1h-1zm0 1h1v1h-1zm0 3h1v1h-1zm0 1h1v1h-1zm0 3h1v1h-1zm0 1h1v1h-1zm0 1h1v1h-1zm0 1h1v1h-1zm0 2h1v1h-1zm0 1h1v1h-1zm0 18h1v1h-1zm0 1h1v1h-1zm0 2h1v1h-1zm0 1h1v1h-1zm0 1h1v1h-1zm0 2h1v1h-1zm0 1h1v1h-1zm0 4h1v1h-1zm1 -46h1v1h-1zm0 2h1v1h-1zm0 2h1v1h-1zm0 5h1v1h-1zm0 1h1v1h-1zm0 1h1v1h-1zm0 3h1v1h-1zm0 8h1v1h-1zm0 10h1v1h-1zm0 1h1v1h-1zm0 4h1v1h-1zm0 3h1v1h-1zm0 4h1v1h-1zm0 2h1v1h-1zm0 1h1v1h-1zm1 -55h1v1h-1zm0 1h1v1h-1zm0 3h1v1h-1zm0 13h1v1h-1zm0 5h1v1h-1zm0 18h1v1h-1zm0 3h1v1h-1zm0 2h1v1h-1zm0 10h1v1h-1zm1 -79h1v1h-1zm0 27h1v1h-1zm0 2h1v1h-1zm0 3h1v1h-1zm0 2h1v1h-1zm0 4h1v1h-1zm0 1h1v1h-1zm0 7h1v1h-1zm0 7h1v1h-1zm0 6h1v1h-1zm0 5h1v1h-1zm0 1h1v1h-1zm0 1h1v1h-1zm0 5h1v1h-1zm0 1h1v1h-1zm1 -46h1v1h-1zm0 3h1v1h-1zm0 6h1v1h-1zm0 5h1v1h-1zm0 3h1v1h-1zm0 3h1v1h-1zm0 2h1v1h-1zm0 2h1v1h-1zm0 7h1v1h-1zm0 4h1v1h-1zm0 3h1v1h-1zm0 2h1v1h-1zm0 2h1v1h-1zm0 6h1v1h-1zm0 2h1v1h-1zm1 -44h1v1h-1zm0 6h1v1h-1zm0 1h1v1h-1zm0 3h1v1h-1zm0 1h1v1h-1zm0 1h1v1h-1zm0 3h1v1h-1zm0 2h1v1h-1zm0 1h1v1h-1zm0 5h1v1h-1zm0 1h1v1h-1zm0 1h1v1h-1zm0 2h1v1h-1zm0 10h1v1h-1zm0 1h1v1h-1zm0 3h1v1h-1zm1 -52h1v1h-1zm0 2h1v1h-1zm0 10h1v1h-1zm0 9h1v1h-1zm0 2h1v1h-1zm0 1h1v1h-1zm0 2h1v1h-1zm0 3h1v1h-1zm0 7h1v1h-1zm0 1h1v1h-1zm0 1h1v1h-1zm0 3h1v1h-1zm0 1h1v1h-1zm0 1h1v1h-1zm0 2h1v1h-1zm0 1h1v1h-1zm0 1h1v1h-1zm0 2h1v1h-1zm0 1h1v1h-1zm0 1h1v1h-1zm1 -59h1v1h-1zm0 14h1v1h-1zm0 3h1v1h-1zm0 5h1v1h-1zm0 1h1v1h-1zm0 2h1v1h-1zm0 1h1v1h-1zm0 1h1v1h-1zm0 1h1v1h-1zm0 2h1v1h-1zm0 4h1v1h-1zm0 2h1v1h-1zm0 2h1v1h-1zm0 2h1v1h-1zm0 2h1v1h-1zm0 1h1v1h-1zm0 3h1v1h-1zm0 1h1v1h-1zm0 1h1v1h-1zm0 9h1v1h-1zm0 6h1v1h-1zm1 -57h1v1h-1zm0 9h1v1h-1zm0 8h1v1h-1zm0 2h1v1h-1zm0 6h1v1h-1zm0 6h1v1h-1zm0 1h1v1h-1zm0 7h1v1h-1zm0 2h1v1h-1zm0 2h1v1h-1zm0 5h1v1h-1zm0 1h1v1h-1zm0 2h1v1h-1zm1 -62h1v1h-1zm0 26h1v1h-1zm0 5h1v1h-1zm0 4h1v1h-1zm0 5h1v1h-1zm0 2h1v1h-1zm0 1h1v1h-1zm0 1h1v1h-1zm0 2h1v1h-1zm0 6h1v1h-1zm0 1h1v1h-1zm0 3h1v1h-1zm0 2h1v1h-1zm0 4h1v1h-1zm0 1h1v1h-1zm0 3h1v1h-1zm1 -58h1v1h-1zm0 6h1v1h-1zm0 10h1v1h-1zm0 1h1v1h-1zm0 4h1v1h-1zm0 1h1v1h-1zm0 1h1v1h-1zm0 6h1v1h-1zm0 2h1v1h-1zm0 7h1v1h-1zm0 1h1v1h-1zm0 1h1v1h-1zm0 3h1v1h-1zm0 1h1v1h-1zm0 1h1v1h-1zm0 1h1v1h-1zm0 1h1v1h-1zm0 1h1v1h-1zm0 2h1v1h-1zm0 3h1v1h-1zm1 -44h1v1h-1zm0 4h1v1h-1zm0 1h1v1h-1zm0 2h1v1h-1zm0 17h1v1h-1zm0 3h1v1h-1zm0 2h1v1h-1zm0 1h1v1h-1zm0 1h1v1h-1zm0 4h1v1h-1zm0 1h1v1h-1zm0 2h1v1h-1zm0 5h1v1h-1zm0 1h1v1h-1zm1 -42h1v1h-1zm0 20h1v1h-1zm0 1h1v1h-1zm0 1h1v1h-1zm0 10h1v1h-1zm0 10h1v1h-1zm0 1h1v1h-1zm0 4h1v1h-1zm1 -48h1v1h-1zm0 4h1v1h-1zm0 2h1v1h-1zm0 2h1v1h-1zm0 2h1v1h-1zm0 3h1v1h-1zm0 6h1v1h-1zm0 2h1v1h-1zm0 1h1v1h-1zm0 8h1v1h-1zm0 2h1v1h-1zm0 13h1v1h-1zm0 1h1v1h-1zm1 -59h1v1h-1zm0 13h1v1h-1zm0 3h1v1h-1zm0 4h1v1h-1zm0 11h1v1h-1zm0 3h1v1h-1zm0 1h1v1h-1zm0 9h1v1h-1zm0 2h1v1h-1zm0 6h1v1h-1zm0 1h1v1h-1zm0 4h1v1h-1zm1 -30h1v1h-1zm0 1h1v1h-1zm0 2h1v1h-1zm0 5h1v1h-1zm0 3h1v1h-1zm0 1h1v1h-1zm0 1h1v1h-1zm0 3h1v1h-1zm0 5h1v1h-1zm0 2h1v1h-1zm0 2h1v1h-1zm0 13h1v1h-1zm1 -63h1v1h-1zm0 9h1v1h-1zm0 7h1v1h-1zm0 9h1v1h-1zm0 3h1v1h-1zm0 2h1v1h-1zm0 1h1v1h-1zm0 4h1v1h-1zm0 6h1v1h-1zm0 12h1v1h-1zm1 -53h1v1h-1zm0 20h1v1h-1zm0 18h1v1h-1zm0 3h1v1h-1zm0 4h1v1h-1zm0 1h1v1h-1zm1 -52h1v1h-1zm0 4h1v1h-1zm0 10h1v1h-1zm0 4h1v1h-1zm0 3h1v1h-1zm0 22h1v1h-1zm0 6h1v1h-1zm0 1h1v1h-1zm0 2h1v1h-1zm0 5h1v1h-1zm0 1h1v1h-1zm0 4h1v1h-1zm1 -49h1v1h-1zm0 1h1v1h-1zm0 30h1v1h-1zm0 1h1v1h-1zm0 6h1v1h-1zm0 2h1v1h-1zm1 -58h1v1h-1zm0 6h1v1h-1zm0 2h1v1h-1zm0 7h1v1h-1zm0 25h1v1h-1zm0 4h1v1h-1zm0 3h1v1h-1zm0 1h1v1h-1zm0 7h1v1h-1zm0 1h1v1h-1zm1 -55h1v1h-1zm0 3h1v1h-1zm0 12h1v1h-1zm0 15h1v1h-1zm0 1h1v1h-1zm0 19h1v1h-1zm0 21h1v1h-1zm1 -66h1v1h-1zm0 2h1v1h-1zm0 20h1v1h-1zm0 10h1v1h-1zm0 2h1v1h-1zm0 5h1v1h-1zm0 2h1v1h-1zm0 8h1v1h-1zm0 10h1v1h-1zm0 1h1v1h-1zm1 -69h1v1h-1zm0 17h1v1h-1zm0 1h1v1h-1zm0 12h1v1h-1zm0 13h1v1h-1zm0 12h1v1h-1zm1 -55h1v1h-1zm0 3h1v1h-1zm0 5h1v1h-1zm0 5h1v1h-1zm0 6h1v1h-1zm0 5h1v1h-1zm0 4h1v1h-1zm0 17h1v1h-1zm0 5h1v1h-1zm0 11h1v1h-1zm0 5h1v1h-1zm1 -69h1v1h-1zm0 4h1v1h-1zm0 4h1v1h-1zm0 8h1v1h-1zm0 2h1v1h-1zm0 1h1v1h-1zm0 1h1v1h-1zm0 13h1v1h-1zm0 11h1v1h-1zm0 10h1v1h-1zm1 -46h1v1h-1zm0 11h1v1h-1zm0 4h1v1h-1zm0 5h1v1h-1zm0 11h1v1h-1zm0 3h1v1h-1zm0 10h1v1h-1zm0 7h1v1h-1zm1 -60h1v1h-1zm0 7h1v1h-1zm0 2h1v1h-1zm0 1h1v1h-1zm0 2h1v1h-1zm0 4h1v1h-1zm0 1h1v1h-1zm0 13h1v1h-1zm0 8h1v1h-1zm0 1h1v1h-1zm0 31h1v1h-1zm1 -68h1v1h-1zm0 3h1v1h-1zm0 2h1v1h-1zm0 1h1v1h-1zm0 8h1v1h-1zm0 3h1v1h-1zm0 28h1v1h-1zm0 14h1v1h-1zm0 18h1v1h-1zm1 -72h1v1h-1zm0 3h1v1h-1zm0 3h1v1h-1zm0 27h1v1h-1zm0 14h1v1h-1zm1 -51h1v1h-1zm0 1h1v1h-1zm0 12h1v1h-1zm0 8h1v1h-1zm0 25h1v1h-1zm0 5h1v1h-1zm0 3h1v1h-1zm1 -50h1v1h-1zm0 4h1v1h-1zm0 35h1v1h-1zm0 12h1v1h-1zm0 4h1v1h-1zm0 7h1v1h-1zm1 -92h1v1h-1zm0 26h1v1h-1zm0 1h1v1h-1zm0 2h1v1h-1zm0 3h1v1h-1zm0 7h1v1h-1zm0 6h1v1h-1zm0 17h1v1h-1zm0 29h1v1h-1zm0 6h1v1h-1zm1 -64h1v1h-1zm0 5h1v1h-1zm0 10h1v1h-1zm0 26h1v1h-1zm0 13h1v1h-1zm1 -71h1v1h-1zm0 7h1v1h-1zm0 1h1v1h-1zm0 1h1v1h-1zm0 5h1v1h-1zm0 1h1v1h-1zm0 12h1v1h-1zm0 15h1v1h-1zm0 2h1v1h-1zm0 7h1v1h-1zm0 8h1v1h-1zm1 -56h1v1h-1zm0 5h1v1h-1zm0 6h1v1h-1zm0 11h1v1h-1zm0 15h1v1h-1zm0 2h1v1h-1zm0 8h1v1h-1zm0 2h1v1h-1zm0 14h1v1h-1zm1 -61h1v1h-1zm0 5h1v1h-1zm0 4h1v1h-1zm0 7h1v1h-1zm0 1h1v1h-1zm0 48h1v1h-1zm1 -68h1v1h-1zm0 9h1v1h-1zm0 2h1v1h-1zm0 3h1v1h-1zm0 7h1v1h-1zm0 10h1v1h-1zm1 -27h1v1h-1zm0 7h1v1h-1zm0 7h1v1h-1zm0 24h1v1h-1zm0 10h1v1h-1zm0 8h1v1h-1zm0 7h1v1h-1zm1 -67h1v1h-1zm0 7h1v1h-1zm0 1h1v1h-1zm0 1h1v1h-1zm0 2h1v1h-1zm0 1h1v1h-1zm0 7h1v1h-1zm0 25h1v1h-1zm0 10h1v1h-1zm0 18h1v1h-1zm1 -64h1v1h-1zm0 1h1v1h-1zm0 2h1v1h-1zm0 1h1v1h-1zm0 2h1v1h-1zm0 32h1v1h-1zm1 -44h1v1h-1zm0 4h1v1h-1zm0 8h1v1h-1zm0 2h1v1h-1zm0 4h1v1h-1zm0 55h1v1h-1zm1 -75h1v1h-1zm0 7h1v1h-1zm0 10h1v1h-1zm0 1h1v1h-1zm0 39h1v1h-1zm0 14h1v1h-1zm1 -63h1v1h-1zm0 1h1v1h-1zm0 1h1v1h-1zm0 2h1v1h-1zm0 28h1v1h-1zm0 24h1v1h-1zm0 7h1v1h-1zm1 -74h1v1h-1zm0 5h1v1h-1zm0 2h1v1h-1zm0 1h1v1h-1zm0 9h1v1h-1zm0 1h1v1h-1zm0 38h1v1h-1zm1 -50h1v1h-1zm0 10h1v1h-1zm0 57h1v1h-1zm0 11h1v1h-1zm1 -81h1v1h-1zm0 5h1v1h-1zm0 1h1v1h-1zm0 1h1v1h-1zm0 1h1v1h-1zm0 3h1v1h-1zm0 2h1v1h-1zm0 3h1v1h-1zm0 9h1v1h-1zm0 26h1v1h-1zm0 26h1v1h-1zm0 9h1v1h-1zm1 -87h1v1h-1zm0 2h1v1h-1zm0 1h1v1h-1zm0 3h1v1h-1zm0 1h1v1h-1zm0 2h1v1h-1zm0 3h1v1h-1zm0 1h1v1h-1zm0 1h1v1h-1zm0 9h1v1h-1zm0 1h1v1h-1zm0 33h1v1h-1zm0 4h1v1h-1zm0 4h1v1h-1zm1 -106h1v1h-1zm0 47h1v1h-1zm0 2h1v1h-1zm0 4h1v1h-1zm0 1h1v1h-1zm0 2h1v1h-1zm1 -14h1v1h-1zm0 6h1v1h-1zm0 4h1v1h-1zm0 1h1v1h-1zm0 1h1v1h-1zm0 1h1v1h-1zm0 12h1v1h-1zm0 39h1v1h-1zm1 -61h1v1h-1zm0 1h1v1h-1zm0 2h1v1h-1zm0 1h1v1h-1zm0 3h1v1h-1zm0 10h1v1h-1zm0 29h1v1h-1zm0 20h1v1h-1zm1 -97h1v1h-1zm0 22h1v1h-1zm0 4h1v1h-1zm0 3h1v1h-1zm0 2h1v1h-1zm0 1h1v1h-1zm0 1h1v1h-1zm0 1h1v1h-1zm0 4h1v1h-1zm0 1h1v1h-1zm0 2h1v1h-1zm0 6h1v1h-1zm0 4h1v1h-1zm0 28h1v1h-1zm0 15h1v1h-1zm1 -68h1v1h-1zm0 3h1v1h-1zm0 2h1v1h-1zm0 4h1v1h-1zm0 2h1v1h-1zm0 3h1v1h-1zm0 4h1v1h-1zm1 -18h1v1h-1zm0 8h1v1h-1zm0 2h1v1h-1zm0 5h1v1h-1zm0 12h1v1h-1zm1 -23h1v1h-1zm0 1h1v1h-1zm0 6h1v1h-1zm0 1h1v1h-1zm0 5h1v1h-1zm0 31h1v1h-1zm0 20h1v1h-1zm0 13h1v1h-1zm1 -80h1v1h-1zm0 2h1v1h-1zm0 2h1v1h-1zm0 7h1v1h-1zm0 4h1v1h-1zm0 35h1v1h-1zm1 -64h1v1h-1zm0 17h1v1h-1zm0 3h1v1h-1zm0 2h1v1h-1zm0 3h1v1h-1zm0 3h1v1h-1zm0 1h1v1h-1zm0 49h1v1h-1zm1 -67h1v1h-1zm0 12h1v1h-1zm1 -9h1v1h-1zm0 1h1v1h-1zm0 2h1v1h-1zm0 3h1v1h-1zm0 2h1v1h-1zm0 1h1v1h-1zm0 1h1v1h-1zm0 2h1v1h-1zm0 1h1v1h-1zm0 1h1v1h-1zm0 17h1v1h-1zm0 31h1v1h-1zm0 17h1v1h-1zm1 -82h1v1h-1zm0 6h1v1h-1zm0 2h1v1h-1zm0 7h1v1h-1zm0 5h1v1h-1zm0 44h1v1h-1zm0 3h1v1h-1zm1 -64h1v1h-1zm0 3h1v1h-1zm0 2h1v1h-1zm1 -3h1v1h-1zm0 3h1v1h-1zm0 4h1v1h-1zm0 1h1v1h-1zm0 1h1v1h-1zm0 39h1v1h-1zm0 11h1v1h-1zm1 -61h1v1h-1zm0 1h1v1h-1zm0 1h1v1h-1zm0 2h1v1h-1zm0 5h1v1h-1zm0 1h1v1h-1zm0 1h1v1h-1zm0 1h1v1h-1zm0 1h1v1h-1zm1 -13h1v1h-1zm0 1h1v1h-1zm0 2h1v1h-1zm0 7h1v1h-1zm1 -14h1v1h-1zm0 1h1v1h-1zm0 1h1v1h-1zm0 7h1v1h-1zm0 5h1v1h-1zm1 -13h1v1h-1zm0 2h1v1h-1zm0 7h1v1h-1zm0 3h1v1h-1zm0 1h1v1h-1zm0 4h1v1h-1zm1 -52h1v1h-1zm0 37h1v1h-1zm0 1h1v1h-1zm0 5h1v1h-1zm0 8h1v1h-1zm0 1h1v1h-1zm1 -17h1v1h-1zm0 4h1v1h-1zm0 2h1v1h-1zm0 3h1v1h-1zm0 1h1v1h-1zm0 1h1v1h-1zm0 1h1v1h-1zm0 7h1v1h-1zm1 -20h1v1h-1zm0 3h1v1h-1zm0 1h1v1h-1zm0 2h1v1h-1zm0 2h1v1h-1zm0 53h1v1h-1zm1 -62h1v1h-1zm0 2h1v1h-1zm0 3h1v1h-1zm0 1h1v1h-1zm0 4h1v1h-1zm0 2h1v1h-1zm0 3h1v1h-1zm0 1h1v1h-1zm0 2h1v1h-1zm0 54h1v1h-1zm1 -68h1v1h-1zm0 1h1v1h-1zm0 3h1v1h-1zm0 2h1v1h-1zm0 3h1v1h-1zm0 1h1v1h-1zm0 1h1v1h-1zm0 1h1v1h-1zm0 2h1v1h-1zm0 57h1v1h-1zm1 -73h1v1h-1zm0 5h1v1h-1zm0 5h1v1h-1zm0 3h1v1h-1zm0 2h1v1h-1zm1 -15h1v1h-1zm0 2h1v1h-1zm0 3h1v1h-1zm0 7h1v1h-1zm0 4h1v1h-1zm0 1h1v1h-1zm1 -19h1v1h-1zm0 2h1v1h-1zm0 3h1v1h-1zm0 3h1v1h-1zm0 2h1v1h-1zm0 5h1v1h-1zm1 -16h1v1h-1zm0 3h1v1h-1zm0 1h1v1h-1zm0 4h1v1h-1zm0 1h1v1h-1zm0 2h1v1h-1zm0 2h1v1h-1zm1 -11h1v1h-1zm0 9h1v1h-1zm0 5h1v1h-1zm1 -39h1v1h-1zm0 26h1v1h-1zm0 2h1v1h-1zm0 5h1v1h-1zm0 1h1v1h-1zm0 2h1v1h-1zm0 6h1v1h-1zm1 -14h1v1h-1zm0 1h1v1h-1zm0 5h1v1h-1zm0 1h1v1h-1zm0 5h1v1h-1zm0 1h1v1h-1zm1 -11h1v1h-1zm0 69h1v1h-1zm1 -77h1v1h-1zm0 5h1v1h-1zm0 2h1v1h-1zm0 1h1v1h-1zm0 1h1v1h-1zm0 4h1v1h-1zm0 1h1v1h-1zm0 3h1v1h-1zm0 54h1v1h-1zm1 -64h1v1h-1zm0 1h1v1h-1zm0 1h1v1h-1zm0 1h1v1h-1zm0 1h1v1h-1zm0 7h1v1h-1zm0 28h1v1h-1zm1 -44h1v1h-1zm0 1h1v1h-1zm0 8h1v1h-1zm0 4h1v1h-1zm0 1h1v1h-1zm1 -13h1v1h-1zm0 2h1v1h-1zm0 1h1v1h-1zm0 2h1v1h-1zm0 1h1v1h-1zm0 3h1v1h-1zm0 39h1v1h-1zm1 -50h1v1h-1zm0 2h1v1h-1zm0 3h1v1h-1zm0 2h1v1h-1zm0 1h1v1h-1zm0 1h1v1h-1zm0 3h1v1h-1zm0 1h1v1h-1zm1 -9h1v1h-1zm0 3h1v1h-1zm0 3h1v1h-1zm1 -4h1v1h-1zm0 1h1v1h-1zm0 2h1v1h-1zm0 1h1v1h-1zm0 1h1v1h-1zm0 2h1v1h-1zm1 -13h1v1h-1zm0 5h1v1h-1zm0 3h1v1h-1zm0 1h1v1h-1zm0 1h1v1h-1zm0 1h1v1h-1zm0 1h1v1h-1zm0 2h1v1h-1zm1 -11h1v1h-1zm0 6h1v1h-1zm0 3h1v1h-1zm1 -13h1v1h-1zm0 3h1v1h-1zm0 2h1v1h-1zm0 1h1v1h-1zm0 1h1v1h-1zm0 2h1v1h-1zm0 4h1v1h-1zm1 -7h1v1h-1zm0 2h1v1h-1zm0 2h1v1h-1zm1 -4h1v1h-1zm0 1h1v1h-1zm0 5h1v1h-1zm0 2h1v1h-1zm0 2h1v1h-1zm1 -36h1v1h-1zm0 26h1v1h-1zm0 1h1v1h-1zm0 3h1v1h-1zm0 3h1v1h-1zm0 41h1v1h-1zm1 -52h1v1h-1zm0 1h1v1h-1zm0 4h1v1h-1zm1 -1h1v1h-1zm0 2h1v1h-1zm0 3h1v1h-1zm0 2h1v1h-1zm0 1h1v1h-1zm1 -12h1v1h-1zm0 8h1v1h-1zm0 1h1v1h-1zm0 1h1v1h-1zm1 -7h1v1h-1zm0 2h1v1h-1z" fill="#e62020" fill-opacity="0.55"/>
<path d="M456 331h1v1h-1zm1 -4h1v1h-1zm0 1h1v1h-1zm1 -6h1v1h-1zm0 9h1v1h-1zm1 -10h1v1h-1zm0 5h1v1h-1zm1 1h1v1h-1zm1 -2h1v1h-1zm0 2h1v1h-1zm0 5h1v1h-1zm1 -22h1v1h-1zm0 10h1v1h-1zm0 6h1v1h-1zm0 1h1v1h-1zm0 5h1v1h-1zm1 -19h1v1h-1zm0 19h1v1h-1zm1 -18h1v1h-1zm0 6h1v1h-1zm0 5h1v1h-1zm0 1h1v1h-1zm0 4h1v1h-1zm1 -15h1v1h-1zm0 4h1v1h-1zm0 3h1v1h-1zm0 1h1v1h-1zm0 2h1v1h-1zm1 -20h1v1h-1zm0 6h1v1h-1zm0 5h1v1h-1zm0 1h1v1h-1zm0 3h1v1h-1zm0 1h1v1h-1zm0 1h1v1h-1zm0 1h1v1h-1zm0 3h1v1h-1zm1 -21h1v1h-1zm0 2h1v1h-1zm0 4h1v1h-1zm0 2h1v1h-1zm0 1h1v1h-1zm0 1h1v1h-1zm0 3h1v1h-1zm0 6h1v1h-1zm1 -18h1v1h-1zm0 2h1v1h-1zm0 2h1v1h-1zm0 3h1v1h-1zm0 4h1v1h-1zm0 2h1v1h-1zm0 1h1v1h-1zm0 6h1v1h-1zm0 2h1v1h-1zm0 4h1v1h-1zm1 -23h1v1h-1zm0 2h1v1h-1zm0 1h1v1h-1zm0 7h1v1h-1zm0 4h1v1h-1zm1 -9h1v1h-1zm0 3h1v1h-1zm0 3h1v1h-1zm0 2h1v1h-1zm0 2h1v1h-1zm0 5h1v1h-1zm1 -17h1v1h-1zm0 1h1v1h-1zm0 13h1v1h-1zm1 -22h1v1h-1zm0 6h1v1h-1zm0 14h1v1h-1zm1 -13h1v1h-1zm0 2h1v1h-1zm0 9h1v1h-1zm0 2h1v1h-1zm0 2h1v1h-1zm1 -20h1v1h-1zm0 9h1v1h-1zm0 4h1v1h-1zm0 5h1v1h-1zm0 3h1v1h-1zm1 -27h1v1h-1zm0 1h1v1h-1zm0 11h1v1h-1zm0 13h1v1h-1zm0 2h1v1h-1zm0 2h1v1h-1zm1 -26h1v1h-1zm0 6h1v1h-1zm0 10h1v1h-1zm0 6h1v1h-1zm0 7h1v1h-1zm1 -30h1v1h-1zm0 3h1v1h-1zm0 3h1v1h-1zm0 15h1v1h-1zm0 6h1v1h-1zm0 1h1v1h-1zm1 -28h1v1h-1zm0 5h1v1h-1zm0 1h1v1h-1zm0 7h1v1h-1zm0 16h1v1h-1zm1 -31h1v1h-1zm0 3h1v1h-1zm0 23h1v1h-1zm1 -27h1v1h-1zm0 5h1v1h-1zm0 2h1v1h-1zm0 17h1v1h-1zm0 4h1v1h-1zm0 5h1v1h-1zm1 -8h1v1h-1zm0 4h1v1h-1zm0 4h1v1h-1zm1 -34h1v1h-1zm0 4h1v1h-1zm0 7h1v1h-1zm0 2h1v1h-1zm0 16h1v1h-1zm1 -32h1v1h-1zm0 3h1v1h-1zm0 2h1v1h-1zm0 29h1v1h-1zm0 1h1v1h-1zm1 -38h1v1h-1zm0 7h1v1h-1zm0 3h1v1h-1zm0 7h1v1h-1zm0 22h1v1h-1zm0 1h1v1h-1zm1 -34h1v1h-1zm0 1h1v1h-1zm0 4h1v1h-1zm0 2h1v1h-1zm0 24h1v1h-1zm0 1h1v1h-1zm0 2h1v1h-1zm1 -36h1v1h-1zm0 34h1v1h-1zm1 -27h1v1h-1zm0 27h1v1h-1zm1 -33h1v1h-1zm0 1h1v1h-1zm0 1h1v1h-1zm0 1h1v1h-1zm0 27h1v1h-1zm0 2h1v1h-1zm1 -32h1v1h-1zm0 3h1v1h-1zm0 4h1v1h-1zm0 14h1v1h-1zm1 -26h1v1h-1zm0 7h1v1h-1zm0 19h1v1h-1zm0 3h1v1h-1zm0 4h1v1h-1zm0 2h1v1h-1zm1 -8h1v1h-1zm0 11h1v1h-1zm1 -31h1v1h-1zm0 3h1v1h-1zm1 -2h1v1h-1zm0 1h1v1h-1zm0 3h1v1h-1zm0 20h1v1h-1zm0 1h1v1h-1zm0 1h1v1h-1zm0 2h1v1h-1zm1 -37h1v1h-1zm0 3h1v1h-1zm0 2h1v1h-1zm0 4h1v1h-1zm0 2h1v1h-1zm0 23h1v1h-1zm0 1h1v1h-1zm0 2h1v1h-1zm1 -29h1v1h-1zm0 2h1v1h-1zm0 1h1v1h-1zm0 24h1v1h-1zm0 1h1v1h-1zm1 -30h1v1h-1zm0 4h1v1h-1zm0 19h1v1h-1zm0 6h1v1h-1zm0 1h1v1h-1zm1 -29h1v1h-1zm0 2h1v1h-1zm0 4h1v1h-1zm0 4h1v1h-1zm0 13h1v1h-1zm0 5h1v1h-1zm1 -30h1v1h-1zm0 1h1v1h-1zm0 5h1v1h-1zm0 16h1v1h-1zm0 1h1v1h-1zm0 2h1v1h-1zm0 2h1v1h-1zm1 -21h1v1h-1zm0 1h1v1h-1zm0 1h1v1h-1zm0 13h1v1h-1zm0 6h1v1h-1zm0 8h1v1h-1zm1 -36h1v1h-1zm0 7h1v1h-1zm0 2h1v1h-1zm0 17h1v1h-1zm0 3h1v1h-1zm0 2h1v1h-1zm0 1h1v1h-1zm0 1h1v1h-1zm1 -33h1v1h-1zm0 4h1v1h-1zm0 5h1v1h-1zm0 4h1v1h-1zm0 3h1v1h-1zm0 7h1v1h-1zm0 5h1v1h-1zm0 4h1v1h-1zm1 -41h1v1h-1zm0 4h1v1h-1zm0 9h1v1h-1zm0 5h1v1h-1zm0 1h1v1h-1zm0 1h1v1h-1zm0 1h1v1h-1zm0 3h1v1h-1zm0 1h1v1h-1zm0 4h1v1h-1zm0 2h1v1h-1zm0 1h1v1h-1zm1 -26h1v1h-1zm0 6h1v1h-1zm0 3h1v1h-1zm0 1h1v1h-1zm0 2h1v1h-1zm0 2h1v1h-1zm0 5h1v1h-1zm0 8h1v1h-1zm0 1h1v1h-1zm0 3h1v1h-1zm1 -34h1v1h-1zm0 2h1v1h-1zm0 5h1v1h-1zm0 4h1v1h-1zm0 4h1v1h-1zm0 2h1v1h-1zm0 1h1v1h-1zm0 2h1v1h-1zm0 1h1v1h-1zm0 2h1v1h-1zm0 4h1v1h-1zm0 2h1v1h-1zm0 1h1v1h-1zm0 4h1v1h-1zm1 -30h1v1h-1zm0 2h1v1h-1zm0 1h1v1h-1zm0 2h1v1h-1zm0 2h1v1h-1zm0 8h1v1h-1zm0 1h1v1h-1zm0 1h1v1h-1zm0 3h1v1h-1zm0 1h1v1h-1zm0 8h1v1h-1zm1 -30h1v1h-1zm0 5h1v1h-1zm0 8h1v1h-1zm0 11h1v1h-1zm0 7h1v1h-1zm0 5h1v1h-1zm1 -34h1v1h-1zm0 7h1v1h-1zm0 6h1v1h-1zm0 7h1v1h-1zm1 -34h1v1h-1zm0 12h1v1h-1zm0 1h1v1h-1zm0 13h1v1h-1zm0 1h1v1h-1zm0 6h1v1h-1zm0 5h1v1h-1zm1 -19h1v1h-1zm0 2h1v1h-1zm0 9h1v1h-1zm0 6h1v1h-1zm0 1h1v1h-1zm0 1h1v1h-1zm0 1h1v1h-1zm1 -12h1v1h-1zm0 2h1v1h-1zm0 7h1v1h-1zm0 2h1v1h-1zm1 -9h1v1h-1zm0 23h1v1h-1zm1 -43h1v1h-1zm0 14h1v1h-1zm0 1h1v1h-1zm1 -20h1v1h-1zm0 11h1v1h-1zm0 4h1v1h-1zm0 2h1v1h-1zm0 11h1v1h-1zm0 6h1v1h-1zm1 -12h1v1h-1zm1 -24h1v1h-1zm0 25h1v1h-1zm0 8h1v1h-1zm2 -7h1v1h-1zm0 3h1v1h-1zm1 -17h1v1h-1zm0 8h1v1h-1zm0 3h1v1h-1zm0 3h1v1h-1zm0 3h1v1h-1zm1 -27h1v1h-1zm0 8h1v1h-1zm0 15h1v1h-1zm1 14h1v1h-1zm1 -5h1v1h-1zm7 -47h1v1h-1zm0 55h1v1h-1zm1 -17h1v1h-1zm4 -52h1v1h-1zm0 18h1v1h-1zm0 27h1v1h-1zm2 -31h1v1h-1zm2 -7h1v1h-1zm0 12h1v1h-1zm0 1h1v1h-1zm1 -6h1v1h-1zm1 -21h1v1h-1zm1 6h1v1h-1zm2 27h1v1h-1zm1 -27h1v1h-1zm0 13h1v1h-1zm1 -17h1v1h-1zm0 4h1v1h-1zm0 3h1v1h-1zm1 -6h1v1h-1zm1 -3h1v1h-1zm1 1h1v1h-1zm0 1h1v1h-1zm0 1h1v1h-1zm0 1h1v1h-1zm0 1h1v1h-1zm1 1h1v1h-1zm3 -8h1v1h-1zm0 2h1v1h-1zm0 2h1v1h-1zm0 4h1v1h-1zm0 5h1v1h-1zm1 -12h1v1h-1zm1 6h1v1h-1zm1 -9h1v1h-1zm0 7h1v1h-1zm0 2h1v1h-1zm0 6h1v1h-1zm1 -14h1v1h-1zm0 4h1v1h-1zm0 7h1v1h-1zm1 -5h1v1h-1zm0 2h1v1h-1zm0 3h1v1h-1zm1 -6h1v1h-1zm0 3h1v1h-1zm0 1h1v1h-1zm1 -8h1v1h-1zm0 7h1v1h-1zm0 1h1v1h-1zm0 12h1v1h-1zm1 -14h1v1h-1zm0 2h1v1h-1zm0 2h1v1h-1zm1 -13h1v1h-1zm0 12h1v1h-1zm1 -10h1v1h-1zm0 1h1v1h-1zm0 4h1v1h-1zm0 1h1v1h-1zm1 -3h1v1h-1zm0 5h1v1h-1zm0 1h1v1h-1zm1 -11h1v1h-1zm0 1h1v1h-1zm0 6h1v1h-1zm0 2h1v1h-1zm2 -4h1v1h-1zm0 1h1v1h-1zm0 3h1v1h-1zm2 -8h1v1h-1zm0 5h1v1h-1zm1 -2h1v1h-1zm0 3h1v1h-1zm0 4h1v1h-1zm1 -10h1v1h-1zm0 2h1v1h-1zm1 -1h1v1h-1zm0 2h1v1h-1zm0 6h1v1h-1zm2 -7h1v1h-1zm0 2h1v1h-1zm0 2h1v1h-1zm0 1h1v1h-1zm1 -11h1v1h-1zm0 5h1v1h-1zm0 3h1v1h-1zm0 1h1v1h-1zm0 1h1v1h-1zm0 3h1v1h-1zm0 2h1v1h-1zm1 -11h1v1h-1zm0 6h1v1h-1zm0 1h1v1h-1zm0 1h1v1h-1zm1 -9h1v1h-1zm0 2h1v1h-1zm0 5h1v1h-1zm1 -10h1v1h-1zm0 5h1v1h-1zm0 5h1v1h-1zm1 -6h1v1h-1zm0 4h1v1h-1zm0 5h1v1h-1zm1 -6h1v1h-1zm1 -6h1v1h-1zm1 9h1v1h-1zm1 -3h1v1h-1zm0 1h1v1h-1zm0 1h1v1h-1zm3 -1h1v1h-1zm0 2h1v1h-1zm2 1h1v1h-1zm3 -3h1v1h-1zm2 -7h1v1h-1zm0 5h1v1h-1zm3 0h1v1h-1z" fill="#f41010" fill-opacity="0.8"/>
<path d="M456 328h1v1h-1zm5 -9h1v1h-1zm0 12h1v1h-1zm1 -17h1v1h-1zm1 1h1v1h-1zm2 6h1v1h-1zm0 7h1v1h-1zm0 3h1v1h-1zm1 -21h1v1h-1zm0 5h1v1h-1zm1 1h1v1h-1zm0 1h1v1h-1zm0 2h1v1h-1zm0 2h1v1h-1zm0 1h1v1h-1zm0 1h1v1h-1zm0 2h1v1h-1zm0 2h1v1h-1zm1 -15h1v1h-1zm0 3h1v1h-1zm0 1h1v1h-1zm0 2h1v1h-1zm0 5h1v1h-1zm0 1h1v1h-1zm1 -10h1v1h-1zm0 4h1v1h-1zm0 3h1v1h-1zm0 1h1v1h-1zm0 2h1v1h-1zm0 1h1v1h-1zm0 2h1v1h-1zm0 4h1v1h-1zm1 -24h1v1h-1zm0 5h1v1h-1zm0 1h1v1h-1zm0 2h1v1h-1zm0 1h1v1h-1zm0 2h1v1h-1zm0 5h1v1h-1zm0 2h1v1h-1zm0 1h1v1h-1zm0 2h1v1h-1zm0 3h1v1h-1zm1 -25h1v1h-1zm0 3h1v1h-1zm0 1h1v1h-1zm0 4h1v1h-1zm0 1h1v1h-1zm0 1h1v1h-1zm0 1h1v1h-1zm0 1h1v1h-1zm0 1h1v1h-1zm0 1h1v1h-1zm0 1h1v1h-1zm0 1h1v1h-1zm0 2h1v1h-1zm0 1h1v1h-1zm0 3h1v1h-1zm0 3h1v1h-1zm1 -22h1v1h-1zm0 2h1v1h-1zm0 1h1v1h-1zm0 3h1v1h-1zm0 1h1v1h-1zm0 1h1v1h-1zm0 1h1v1h-1zm0 1h1v1h-1zm0 1h1v1h-1zm0 1h1v1h-1zm0 1h1v1h-1zm0 1h1v1h-1zm0 2h1v1h-1zm0 1h1v1h-1zm0 2h1v1h-1zm0 3h1v1h-1zm1 -23h1v1h-1zm0 2h1v1h-1zm0 2h1v1h-1zm0 2h1v1h-1zm0 1h1v1h-1zm0 1h1v1h-1zm0 2h1v1h-1zm0 1h1v1h-1zm0 1h1v1h-1zm0 1h1v1h-1zm0 2h1v1h-1zm0 2h1v1h-1zm0 2h1v1h-1zm0 1h1v1h-1zm0 2h1v1h-1zm0 1h1v1h-1zm1 -23h1v1h-1zm0 2h1v1h-1zm0 3h1v1h-1zm0 1h1v1h-1zm0 6h1v1h-1zm0 1h1v1h-1zm0 1h1v1h-1zm0 1h1v1h-1zm0 2h1v1h-1zm0 5h1v1h-1zm0 1h1v1h-1zm0 1h1v1h-1zm1 -29h1v1h-1zm0 2h1v1h-1zm0 3h1v1h-1zm0 2h1v1h-1zm0 1h1v1h-1zm0 3h1v1h-1zm0 1h1v1h-1zm0 1h1v1h-1zm0 1h1v1h-1zm0 1h1v1h-1zm0 1h1v1h-1zm0 1h1v1h-1zm0 1h1v1h-1zm0 1h1v1h-1zm0 1h1v1h-1zm0 1h1v1h-1zm0 2h1v1h-1zm0 5h1v1h-1zm1 -25h1v1h-1zm0 1h1v1h-1zm0 3h1v1h-1zm0 1h1v1h-1zm0 1h1v1h-1zm0 1h1v1h-1zm0 1h1v1h-1zm0 1h1v1h-1zm0 1h1v1h-1zm0 1h1v1h-1zm0 1h1v1h-1zm0 2h1v1h-1zm0 1h1v1h-1zm0 1h1v1h-1zm0 2h1v1h-1zm0 2h1v1h-1zm0 1h1v1h-1zm0 3h1v1h-1zm0 1h1v1h-1zm1 -27h1v1h-1zm0 2h1v1h-1zm0 1h1v1h-1zm0 2h1v1h-1zm0 1h1v1h-1zm0 1h1v1h-1zm0 1h1v1h-1zm0 1h1v1h-1zm0 1h1v1h-1zm0 1h1v1h-1zm0 1h1v1h-1zm0 1h1v1h-1zm0 1h1v1h-1zm0 1h1v1h-1zm0 1h1v1h-1zm0 1h1v1h-1zm0 1h1v1h-1zm0 2h1v1h-1zm0 1h1v1h-1zm0 2h1v1h-1zm0 4h1v1h-1zm1 -31h1v1h-1zm0 6h1v1h-1zm0 3h1v1h-1zm0 1h1v1h-1zm0 1h1v1h-1zm0 1h1v1h-1zm0 1h1v1h-1zm0 1h1v1h-1zm0 2h1v1h-1zm0 1h1v1h-1zm0 1h1v1h-1zm0 1h1v1h-1zm0 1h1v1h-1zm0 1h1v1h-1zm0 1h1v1h-1zm0 1h1v1h-1zm0 1h1v1h-1zm0 1h1v1h-1zm0 1h1v1h-1zm0 2h1v1h-1zm0 1h1v1h-1zm1 -24h1v1h-1zm0 1h1v1h-1zm0 1h1v1h-1zm0 1h1v1h-1zm0 1h1v1h-1zm0 1h1v1h-1zm0 1h1v1h-1zm0 1h1v1h-1zm0 1h1v1h-1zm0 1h1v1h-1zm0 1h1v1h-1zm0 1h1v1h-1zm0 1h1v1h-1zm0 1h1v1h-1zm0 1h1v1h-1zm0 1h1v1h-1zm0 1h1v1h-1zm0 1h1v1h-1zm0 1h1v1h-1zm0 1h1v1h-1zm0 1h1v1h-1zm0 2h1v1h-1zm0 2h1v1h-1zm0 1h1v1h-1zm0 1h1v1h-1zm0 1h1v1h-1zm1 -27h1v1h-1zm0 2h1v1h-1zm0 1h1v1h-1zm0 1h1v1h-1zm0 1h1v1h-1zm0 1h1v1h-1zm0 1h1v1h-1zm0 1h1v1h-1zm0 1h1v1h-1zm0 1h1v1h-1zm0 1h1v1h-1zm0 1h1v1h-1zm0 1h1v1h-1zm0 1h1v1h-1zm0 1h1v1h-1zm0 1h1v1h-1zm0 1h1v1h-1zm0 3h1v1h-1zm0 1h1v1h-1zm0 2h1v1h-1zm0 1h1v1h-1zm0 2h1v1h-1zm1 -29h1v1h-1zm0 3h1v1h-1zm0 1h1v1h-1zm0 1h1v1h-1zm0 1h1v1h-1zm0 1h1v1h-1zm0 1h1v1h-1zm0 1h1v1h-1zm0 1h1v1h-1zm0 1h1v1h-1zm0 1h1v1h-1zm0 1h1v1h-1zm0 1h1v1h-1zm0 1h1v1h-1zm0 1h1v1h-1zm0 1h1v1h-1zm0 1h1v1h-1zm0 1h1v1h-1zm0 1h1v1h-1zm0 1h1v1h-1zm0 2h1v1h-1zm0 1h1v1h-1zm0 1h1v1h-1zm0 2h1v1h-1zm0 1h1v1h-1zm0 1h1v1h-1zm1 -30h1v1h-1zm0 2h1v1h-1zm0 1h1v1h-1zm0 1h1v1h-1zm0 1h1v1h-1zm0 1h1v1h-1zm0 1h1v1h-1zm0 2h1v1h-1zm0 2h1v1h-1zm0 1h1v1h-1zm0 1h1v1h-1zm0 1h1v1h-1zm0 1h1v1h-1zm0 1h1v1h-1zm0 1h1v1h-1zm0 1h1v1h-1zm0 1h1v1h-1zm0 1h1v1h-1zm0 1h1v1h-1zm0 1h1v1h-1zm0 1h1v1h-1zm0 1h1v1h-1zm0 1h1v1h-1zm0 2h1v1h-1zm0 3h1v1h-1zm0 1h1v1h-1zm1 -29h1v1h-1zm0 1h1v1h-1zm0 1h1v1h-1zm0 2h1v1h-1zm0 1h1v1h-1zm0 1h1v1h-1zm0 1h1v1h-1zm0 1h1v1h-1zm0 1h1v1h-1zm0 1h1v1h-1zm0 1h1v1h-1zm0 1h1v1h-1zm0 1h1v1h-1zm0 1h1v1h-1zm0 1h1v1h-1zm0 1h1v1h-1zm0 1h1v1h-1zm0 1h1v1h-1zm0 1h1v1h-1zm0 1h1v1h-1zm0 1h1v1h-1zm0 1h1v1h-1zm0 1h1v1h-1zm0 2h1v1h-1zm0 3h1v1h-1zm1 -28h1v1h-1zm0 1h1v1h-1zm0 1h1v1h-1zm0 1h1v1h-1zm0 1h1v1h-1zm0 1h1v1h-1zm0 2h1v1h-1zm0 1h1v1h-1zm0 1h1v1h-1zm0 1h1v1h-1zm0 1h1v1h-1zm0 1h1v1h-1zm0 1h1v1h-1zm0 1h1v1h-1zm0 1h1v1h-1zm0 1h1v1h-1zm0 1h1v1h-1zm0 1h1v1h-1zm0 1h1v1h-1zm0 1h1v1h-1zm0 1h1v1h-1zm0 1h1v1h-1zm0 1h1v1h-1zm0 1h1v1h-1zm1 -30h1v1h-1zm0 3h1v1h-1zm0 2h1v1h-1zm0 2h1v1h-1zm0 2h1v1h-1zm0 1h1v1h-1zm0 1h1v1h-1zm0 2h1v1h-1zm0 1h1v1h-1zm0 1h1v1h-1zm0 1h1v1h-1zm0 1h1v1h-1zm0 1h1v1h-1zm0 1h1v1h-1zm0 1h1v1h-1zm0 1h1v1h-1zm0 1h1v1h-1zm0 1h1v1h-1zm0 1h1v1h-1zm0 1h1v1h-1zm0 1h1v1h-1zm0 1h1v1h-1zm0 1h1v1h-1zm0 1h1v1h-1zm0 1h1v1h-1zm0 4h1v1h-1zm1 -33h1v1h-1zm0 4h1v1h-1zm0 2h1v1h-1zm0 1h1v1h-1zm0 1h1v1h-1zm0 1h1v1h-1zm0 1h1v1h-1zm0 1h1v1h-1zm0 1h1v1h-1zm0 1h1v1h-1zm0 1h1v1h-1zm0 1h1v1h-1zm0 1h1v1h-1zm0 1h1v1h-1zm0 1h1v1h-1zm0 1h1v1h-1zm0 1h1v1h-1zm0 1h1v1h-1zm0 1h1v1h-1zm0 1h1v1h-1zm0 1h1v1h-1zm0 1h1v1h-1zm0 1h1v1h-1zm0 1h1v1h-1zm0 1h1v1h-1zm0 1h1v1h-1zm0 1h1v1h-1zm0 1h1v1h-1zm0 2h1v1h-1zm1 -30h1v1h-1zm0 1h1v1h-1zm0 2h1v1h-1zm0 1h1v1h-1zm0 1h1v1h-1zm0 1h1v1h-1zm0 1h1v1h-1zm0 1h1v1h-1zm0 1h1v1h-1zm0 1h1v1h-1zm0 1h1v1h-1zm0 1h1v1h-1zm0 1h1v1h-1zm0 1h1v1h-1zm0 1h1v1h-1zm0 1h1v1h-1zm0 1h1v1h-1zm0 1h1v1h-1zm0 1h1v1h-1zm0 1h1v1h-1zm0 1h1v1h-1zm0 1h1v1h-1zm0 1h1v1h-1zm0 1h1v1h-1zm0 2h1v1h-1zm0 1h1v1h-1zm0 3h1v1h-1zm0 1h1v1h-1zm1 -29h1v1h-1zm0 4h1v1h-1zm0 1h1v1h-1zm0 1h1v1h-1zm0 1h1v1h-1zm0 1h1v1h-1zm0 1h1v1h-1zm0 1h1v1h-1zm0 1h1v1h-1zm0 1h1v1h-1zm0 1h1v1h-1zm0 1h1v1h-1zm0 1h1v1h-1zm0 1h1v1h-1zm0 1h1v1h-1zm0 1h1v1h-1zm0 1h1v1h-1zm0 1h1v1h-1zm0 1h1v1h-1zm0 1h1v1h-1zm0 1h1v1h-1zm0 2h1v1h-1zm1 -29h1v1h-1zm0 2h1v1h-1zm0 1h1v1h-1zm0 3h1v1h-1zm0 1h1v1h-1zm0 1h1v1h-1zm0 1h1v1h-1zm0 1h1v1h-1zm0 1h1v1h-1zm0 1h1v1h-1zm0 1h1v1h-1zm0 1h1v1h-1zm0 1h1v1h-1zm0 1h1v1h-1zm0 1h1v1h-1zm0 1h1v1h-1zm0 2h1v1h-1zm0 1h1v1h-1zm0 1h1v1h-1zm0 1h1v1h-1zm0 1h1v1h-1zm0 1h1v1h-1zm0 1h1v1h-1zm0 1h1v1h-1zm0 1h1v1h-1zm0 1h1v1h-1zm0 1h1v1h-1zm1 -29h1v1h-1zm0 1h1v1h-1zm0 2h1v1h-1zm0 1h1v1h-1zm0 1h1v1h-1zm0 1h1v1h-1zm0 1h1v1h-1zm0 1h1v1h-1zm0 1h1v1h-1zm0 1h1v1h-1zm0 1h1v1h-1zm0 1h1v1h-1zm0 1h1v1h-1zm0 1h1v1h-1zm0 1h1v1h-1zm0 1h1v1h-1zm0 1h1v1h-1zm0 2h1v1h-1zm0 1h1v1h-1zm0 2h1v1h-1zm0 1h1v1h-1zm0 1h1v1h-1zm0 2h1v1h-1zm0 3h1v1h-1zm0 1h1v1h-1zm1 -29h1v1h-1zm0 1h1v1h-1zm0 1h1v1h-1zm0 1h1v1h-1zm0 1h1v1h-1zm0 2h1v1h-1zm0 1h1v1h-1zm0 1h1v1h-1zm0 1h1v1h-1zm0 1h1v1h-1zm0 1h1v1h-1zm0 1h1v1h-1zm0 1h1v1h-1zm0 1h1v1h-1zm0 1h1v1h-1zm0 1h1v1h-1zm0 1h1v1h-1zm0 2h1v1h-1zm0 1h1v1h-1zm0 1h1v1h-1zm0 1h1v1h-1zm0 1h1v1h-1zm0 1h1v1h-1zm0 1h1v1h-1zm0 2h1v1h-1zm1 -27h1v1h-1zm0 2h1v1h-1zm0 1h1v1h-1zm0 1h1v1h-1zm0 1h1v1h-1zm0 1h1v1h-1zm0 1h1v1h-1zm0 1h1v1h-1zm0 2h1v1h-1zm0 1h1v1h-1zm0 2h1v1h-1zm0 1h1v1h-1zm0 1h1v1h-1zm0 1h1v1h-1zm0 1h1v1h-1zm0 1h1v1h-1zm0 1h1v1h-1zm0 1h1v1h-1zm0 1h1v1h-1zm0 1h1v1h-1zm0 1h1v1h-1zm0 1h1v1h-1zm0 2h1v1h-1zm0 1h1v1h-1zm0 2h1v1h-1zm0 1h1v1h-1zm1 -32h1v1h-1zm0 3h1v1h-1zm0 1h1v1h-1zm0 2h1v1h-1zm0 2h1v1h-1zm0 1h1v1h-1zm0 1h1v1h-1zm0 1h1v1h-1zm0 1h1v1h-1zm0 1h1v1h-1zm0 1h1v1h-1zm0 1h1v1h-1zm0 1h1v1h-1zm0 1h1v1h-1zm0 1h1v1h-1zm0 1h1v1h-1zm0 1h1v1h-1zm0 1h1v1h-1zm0 1h1v1h-1zm0 1h1v1h-1zm0 1h1v1h-1zm0 4h1v1h-1zm1 -26h1v1h-1zm0 2h1v1h-1zm0 1h1v1h-1zm0 1h1v1h-1zm0 1h1v1h-1zm0 1h1v1h-1zm0 1h1v1h-1zm0 1h1v1h-1zm0 1h1v1h-1zm0 1h1v1h-1zm0 1h1v1h-1zm0 1h1v1h-1zm0 1h1v1h-1zm0 1h1v1h-1zm0 1h1v1h-1zm0 1h1v1h-1zm0 1h1v1h-1zm0 1h1v1h-1zm0 1h1v1h-1zm0 1h1v1h-1zm0 1h1v1h-1zm0 2h1v1h-1zm0 3h1v1h-1zm0 4h1v1h-1zm1 -36h1v1h-1zm0 8h1v1h-1zm0 1h1v1h-1zm0 2h1v1h-1zm0 1h1v1h-1zm0 1h1v1h-1zm0 1h1v1h-1zm0 1h1v1h-1zm0 1h1v1h-1zm0 1h1v1h-1zm0 1h1v1h-1zm0 1h1v1h-1zm0 1h1v1h-1zm0 1h1v1h-1zm0 1h1v1h-1zm0 1h1v1h-1zm0 1h1v1h-1zm0 1h1v1h-1zm0 1h1v1h-1zm0 1h1v1h-1zm0 2h1v1h-1zm0 1h1v1h-1zm1 -26h1v1h-1zm0 4h1v1h-1zm0 1h1v1h-1zm0 1h1v1h-1zm0 1h1v1h-1zm0 1h1v1h-1zm0 1h1v1h-1zm0 1h1v1h-1zm0 1h1v1h-1zm0 1h1v1h-1zm0 1h1v1h-1zm0 1h1v1h-1zm0 1h1v1h-1zm0 1h1v1h-1zm0 1h1v1h-1zm0 1h1v1h-1zm0 1h1v1h-1zm0 1h1v1h-1zm0 2h1v1h-1zm0 2h1v1h-1zm0 1h1v1h-1zm1 -22h1v1h-1zm0 1h1v1h-1zm0 3h1v1h-1zm0 1h1v1h-1zm0 3h1v1h-1zm0 1h1v1h-1zm0 1h1v1h-1zm0 1h1v1h-1zm0 1h1v1h-1zm0 1h1v1h-1zm0 1h1v1h-1zm0 1h1v1h-1zm0 2h1v1h-1zm0 1h1v1h-1zm0 3h1v1h-1zm0 1h1v1h-1zm0 1h1v1h-1zm1 -24h1v1h-1zm0 2h1v1h-1zm0 2h1v1h-1zm0 1h1v1h-1zm0 1h1v1h-1zm0 1h1v1h-1zm0 1h1v1h-1zm0 1h1v1h-1zm0 1h1v1h-1zm0 1h1v1h-1zm0 1h1v1h-1zm0 1h1v1h-1zm0 1h1v1h-1zm0 1h1v1h-1zm0 1h1v1h-1zm0 3h1v1h-1zm0 2h1v1h-1zm0 2h1v1h-1zm0 1h1v1h-1zm1 -25h1v1h-1zm0 5h1v1h-1zm0 2h1v1h-1zm0 1h1v1h-1zm0 1h1v1h-1zm0 1h1v1h-1zm0 1h1v1h-1zm0 1h1v1h-1zm0 1h1v1h-1zm0 1h1v1h-1zm0 2h1v1h-1zm0 2h1v1h-1zm0 1h1v1h-1zm0 1h1v1h-1zm0 7h1v1h-1zm1 -28h1v1h-1zm0 4h1v1h-1zm0 2h1v1h-1zm0 1h1v1h-1zm0 1h1v1h-1zm0 1h1v1h-1zm0 1h1v1h-1zm0 1h1v1h-1zm0 1h1v1h-1zm0 1h1v1h-1zm0 1h1v1h-1zm0 1h1v1h-1zm0 1h1v1h-1zm0 1h1v1h-1zm0 1h1v1h-1zm0 1h1v1h-1zm0 1h1v1h-1zm0 3h1v1h-1zm0 7h1v1h-1zm1 -28h1v1h-1zm0 2h1v1h-1zm0 2h1v1h-1zm0 2h1v1h-1zm0 2h1v1h-1zm0 1h1v1h-1zm0 2h1v1h-1zm0 1h1v1h-1zm0 1h1v1h-1zm0 2h1v1h-1zm0 1h1v1h-1zm0 2h1v1h-1zm0 2h1v1h-1zm0 1h1v1h-1zm1 -20h1v1h-1zm0 1h1v1h-1zm0 5h1v1h-1zm0 1h1v1h-1zm0 3h1v1h-1zm0 1h1v1h-1zm0 1h1v1h-1zm0 2h1v1h-1zm0 5h1v1h-1zm1 -30h1v1h-1zm0 9h1v1h-1zm0 3h1v1h-1zm0 2h1v1h-1zm0 3h1v1h-1zm0 1h1v1h-1zm0 1h1v1h-1zm0 2h1v1h-1zm0 1h1v1h-1zm0 1h1v1h-1zm0 1h1v1h-1zm0 1h1v1h-1zm0 5h1v1h-1zm1 -36h1v1h-1zm0 12h1v1h-1zm0 4h1v1h-1zm0 2h1v1h-1zm0 2h1v1h-1zm0 3h1v1h-1zm0 3h1v1h-1zm0 2h1v1h-1zm0 1h1v1h-1zm0 1h1v1h-1zm1 -12h1v1h-1zm0 2h1v1h-1zm0 2h1v1h-1zm0 4h1v1h-1zm0 4h1v1h-1zm0 8h1v1h-1zm1 -16h1v1h-1zm0 1h1v1h-1zm0 1h1v1h-1zm0 2h1v1h-1zm0 1h1v1h-1zm0 1h1v1h-1zm0 2h1v1h-1zm0 3h1v1h-1zm1 -19h1v1h-1zm0 5h1v1h-1zm0 2h1v1h-1zm0 5h1v1h-1zm0 5h1v1h-1zm0 5h1v1h-1zm1 -20h1v1h-1zm0 4h1v1h-1zm0 9h1v1h-1zm1 -27h1v1h-1zm0 16h1v1h-1zm0 4h1v1h-1zm0 4h1v1h-1zm1 -1h1v1h-1zm1 -4h1v1h-1zm1 4h1v1h-1zm0 1h1v1h-1zm1 -8h1v1h-1zm5 -3h1v1h-1zm2 2h1v1h-1zm23 -45h1v1h-1zm3 -2h1v1h-1zm8 -8h1v1h-1zm0 3h1v1h-1zm4 -2h1v1h-1zm1 0h1v1h-1zm0 1h1v1h-1zm0 1h1v1h-1zm0 1h1v1h-1zm1 0h1v1h-1zm1 -7h1v1h-1zm0 4h1v1h-1zm4 2h1v1h-1zm1 0h1v1h-1zm1 -5h1v1h-1zm0 3h1v1h-1zm1 -2h1v1h-1zm0 6h1v1h-1zm2 -3h1v1h-1zm0 2h1v1h-1zm0 4h1v1h-1zm1 -9h1v1h-1zm0 1h1v1h-1zm0 1h1v1h-1zm3 -3h1v1h-1zm0 2h1v1h-1zm0 1h1v1h-1zm0 1h1v1h-1zm3 -6h1v1h-1zm0 3h1v1h-1zm0 5h1v1h-1zm1 -5h1v1h-1zm1 0h1v1h-1zm0 5h1v1h-1zm4 -5h1v1h-1zm2 -2h1v1h-1zm4 1h1v1h-1zm7 -1h1v1h-1z" fill="#ff0000" fill-opacity="1.0"/>
<rect x="454.5" y="199.5" width="145" height="134" fill="none" stroke="#4a4a4a" stroke-width="1.1"/>
<line x1="514.5" y1="199.5" x2="514.5" y2="333.5" stroke="#555" stroke-width="1.1"/>
<line x1="454.5" y1="277.5" x2="599.5" y2="277.5" stroke="#555" stroke-width="1.1"/>
<path d="M452 332.28H454.8M452 328.01H454.8M452 324.7H454.8M452 321.99H454.8M452 319.7H454.8M452 317.71H454.8M452 315.96H454.8M450 314.4H454.8M452 304.1H454.8M452 298.08H454.8M452 293.81H454.8M452 290.5H454.8M452 287.79H454.8M452 285.5H454.8M452 283.51H454.8M452 281.76H454.8M450 280.2H454.8M452 269.9H454.8M452 263.88H454.8M452 259.61H454.8M452 256.3H454.8M452 253.59H454.8M452 251.3H454.8M452 249.31H454.8M452 247.56H454.8M450 246H454.8M452 235.7H454.8M452 229.68H454.8M452 225.41H454.8M452 222.1H454.8M452 219.39H454.8M452 217.1H454.8M452 215.11H454.8M452 213.36H454.8M450 211.8H454.8M452 201.5H454.8M459.77 333.9V336.9M463.26 333.9V336.9M466.11 333.9V336.9M468.52 333.9V336.9M470.61 333.9V336.9M472.45 333.9V336.9M474.1 333.9V338.7M484.94 333.9V336.9M491.28 333.9V336.9M495.77 333.9V336.9M499.26 333.9V336.9M502.11 333.9V336.9M504.52 333.9V336.9M506.61 333.9V336.9M508.45 333.9V336.9M510.1 333.9V338.7M520.94 333.9V336.9M527.28 333.9V336.9M531.77 333.9V336.9M535.26 333.9V336.9M538.11 333.9V336.9M540.52 333.9V336.9M542.61 333.9V336.9M544.45 333.9V336.9M546.1 333.9V338.7M556.94 333.9V336.9M563.28 333.9V336.9M567.77 333.9V336.9M571.26 333.9V336.9M574.11 333.9V336.9M576.52 333.9V336.9M578.61 333.9V336.9M580.45 333.9V336.9M582.1 333.9V338.7M592.94 333.9V336.9" stroke="#333" stroke-width="1" fill="none"/>
<text transform="translate(448.8 315.9) rotate(-90)" font-size="6" font-family="Liberation Sans" text-anchor="middle" fill="#222">10<tspan dy="-2.4" font-size="4.3">2</tspan></text>
<text x="475.6" y="345.5" font-size="6" font-family="Liberation Sans" text-anchor="middle" fill="#222">10<tspan dy="-2.4" font-size="4.3">2</tspan></text>
<text transform="translate(448.8 281.7) rotate(-90)" font-size="6" font-family="Liberation Sans" text-anchor="middle" fill="#222">10<tspan dy="-2.4" font-size="4.3">3</tspan></text>
<text x="511.6" y="345.5" font-size="6" font-family="Liberation Sans" text-anchor="middle" fill="#222">10<tspan dy="-2.4" font-size="4.3">3</tspan></text>
<text transform="translate(448.8 247.5) rotate(-90)" font-size="6" font-family="Liberation Sans" text-anchor="middle" fill="#222">10<tspan dy="-2.4" font-size="4.3">4</tspan></text>
<text x="547.6" y="345.5" font-size="6" font-family="Liberation Sans" text-anchor="middle" fill="#222">10<tspan dy="-2.4" font-size="4.3">4</tspan></text>
<text transform="translate(448.8 213.3) rotate(-90)" font-size="6" font-family="Liberation Sans" text-anchor="middle" fill="#222">10<tspan dy="-2.4" font-size="4.3">5</tspan></text>
<text x="583.6" y="345.5" font-size="6" font-family="Liberation Sans" text-anchor="middle" fill="#222">10<tspan dy="-2.4" font-size="4.3">5</tspan></text>
<text x="491.8" y="264.2" font-size="6.8" font-family="Liberation Sans" fill="#333">Q1</text>
<text x="526.5" y="264.2" font-size="6.8" font-family="Liberation Sans" fill="#333">Q2</text>
<text x="491.8" y="298.1" font-size="6.8" font-family="Liberation Sans" fill="#333">Q3</text>
<text x="526.5" y="298.5" font-size="6.8" font-family="Liberation Sans" fill="#333">Q4</text>
<text x="521.8" y="197.4" font-size="15.8" text-anchor="middle">H/R+25μM</text>
<text x="461.2" y="218.6" font-size="13.6" font-weight="bold">0.1%</text>
<text x="560.6" y="218.6" font-size="13.6" font-weight="bold">8.1%</text>
<text x="456.6" y="294.3" font-size="13.6" font-weight="bold">88.8%</text>
<text x="559.5" y="294.3" font-size="13.6" font-weight="bold">3.0%</text>
<path d="M258.7 13V355.2H617.5" fill="none" stroke="#000" stroke-width="2"/>
<path d="M254.6 21.5L258.7 13L262.8 21.5" fill="none" stroke="#000" stroke-width="1.9"/>
<path d="M610 350.8L618.4 355.2L610 359.6" fill="none" stroke="#000" stroke-width="1.9"/>
<text x="443.4" y="376.3" font-size="16.2" text-anchor="middle">FITC</text>
<text x="248.8" y="177.8" font-size="16.2" text-anchor="middle" transform="rotate(-90 248.8 177.8)">PI</text>
<defs><filter id="bl" x="-30%" y="-100%" width="160%" height="300%"><feGaussianBlur stdDeviation="1.0"/></filter><linearGradient id="wb0" x1="0" y1="0" x2="0" y2="1"><stop offset="0" stop-color="#f0f0f0"/><stop offset="1" stop-color="#eaeaea"/></linearGradient><linearGradient id="wb1" x1="0" y1="0" x2="0" y2="1"><stop offset="0" stop-color="#d2d2d2"/><stop offset="1" stop-color="#e2e2e2"/></linearGradient><linearGradient id="wb2" x1="0" y1="0" x2="0" y2="1"><stop offset="0" stop-color="#d6d6d6"/><stop offset="1" stop-color="#e2e2e2"/></linearGradient><linearGradient id="wb3" x1="0" y1="0" x2="0" y2="1"><stop offset="0" stop-color="#f3f3f3"/><stop offset="1" stop-color="#ebebeb"/></linearGradient></defs>
<rect x="87.0" y="448.7" width="129.2" height="25" fill="url(#wb0)" stroke="#333" stroke-width="1.4"/>
<g filter="url(#bl)"><rect x="90.9" y="459.9" width="20" height="5.4" rx="2.7" ry="2.7" fill="#000" fill-opacity="0.95"/><rect x="124.1" y="460.3" width="22" height="5" rx="2.5" ry="2.5" fill="#000" fill-opacity="0.9"/><rect x="156.5" y="458.7" width="21.8" height="7.4" rx="3.7" ry="3.7" fill="#000" fill-opacity="1.0"/><rect x="188.7" y="459.6" width="22.2" height="6" rx="3" ry="3" fill="#000" fill-opacity="0.97"/></g>
<rect x="87.0" y="480.1" width="129.2" height="24.9" fill="url(#wb1)" stroke="#333" stroke-width="1.4"/>
<g filter="url(#bl)"><rect x="90.5" y="489.6" width="26.6" height="6" rx="3" ry="3" fill="#000" fill-opacity="1.0"/><rect x="123.7" y="489.2" width="23.1" height="6.2" rx="3.1" ry="3.1" fill="#000" fill-opacity="1.0"/><rect x="155.8" y="491.6" width="21.1" height="3.6" rx="1.8" ry="1.8" fill="#000" fill-opacity="0.85"/><rect x="188.4" y="489.8" width="23.6" height="5.6" rx="2.8" ry="2.8" fill="#000" fill-opacity="1.0"/></g>
<rect x="87.0" y="511" width="129.2" height="24.9" fill="url(#wb2)" stroke="#333" stroke-width="1.4"/>
<g filter="url(#bl)"><rect x="90.5" y="522.5" width="25.4" height="3.6" rx="1.8" ry="1.8" fill="#000" fill-opacity="0.6"/><rect x="123.7" y="521.6" width="21.5" height="3.8" rx="1.9" ry="1.9" fill="#000" fill-opacity="0.72"/><rect x="154" y="517.4" width="24.6" height="8.4" rx="4.2" ry="4.2" fill="#000" fill-opacity="1.0"/><rect x="188.5" y="519.5" width="21.5" height="5.6" rx="2.8" ry="2.8" fill="#000" fill-opacity="0.95"/><ellipse cx="166.5" cy="530" rx="7" ry="4" fill="#000" fill-opacity="0.06"/></g>
<rect x="87.0" y="541.8" width="129.2" height="26.7" fill="url(#wb3)" stroke="#333" stroke-width="1.4"/>
<g filter="url(#bl)"><rect x="91" y="550.4" width="26.6" height="11.6" rx="5" ry="5.8" fill="#000" fill-opacity="1.0"/><rect x="122.7" y="550.4" width="26.6" height="11.6" rx="5" ry="5.8" fill="#000" fill-opacity="1.0"/><rect x="153.8" y="550.4" width="26.6" height="11.6" rx="5" ry="5.8" fill="#000" fill-opacity="1.0"/><rect x="184.6" y="550.5" width="27.9" height="11.8" rx="5" ry="5.9" fill="#000" fill-opacity="1.0"/></g>
<text x="78.6" y="466.7" font-size="15.9" text-anchor="end">BAX</text>
<text x="221.3" y="466.8" font-size="16.4">23kDa</text>
<text x="78.6" y="498.05" font-size="15.9" text-anchor="end">BCL-2</text>
<text x="221.3" y="498.15" font-size="16.4">26kDa</text>
<text x="78.6" y="528.95" font-size="15.9" text-anchor="end">C-Caspase3</text>
<text x="221.3" y="529.05" font-size="16.4">19kDa</text>
<text x="78.6" y="560.65" font-size="15.9" text-anchor="end">GAPDH</text>
<text x="221.3" y="560.75" font-size="16.4">37kDa</text>
<text x="103" y="441.4" font-size="15.9" transform="rotate(-45 103 441.4)">control</text>
<text x="135" y="442.6" font-size="15.9" transform="rotate(-45 135 442.6)">25μM</text>
<text x="168.8" y="442.2" font-size="15.9" transform="rotate(-45 168.8 442.2)">H/R</text>
<text x="198.2" y="441.8" font-size="15.9" transform="rotate(-45 198.2 441.8)">H/R+25μM</text>
<text x="17" y="17" font-size="20.5">A</text>
<text x="222.8" y="16.8" font-size="20.5">C</text>
<text x="18.5" y="191.2" font-size="20.5">B</text>
<text x="627.5" y="92.3" font-size="20.5">D</text>
<text x="18.5" y="426.3" font-size="20.5">E</text>
<text x="291.4" y="426.3" font-size="20.5">F</text>
<text x="457.4" y="426.3" font-size="20.5">G</text>
<text x="629.8" y="426.3" font-size="20.5">H</text>
<text x="75.8" y="626.3" font-size="20.5">I</text>
<text x="256.2" y="626.3" font-size="20.5">J</text>
<text x="437.3" y="626.3" font-size="20.5">K</text>
<text x="624.2" y="626.3" font-size="20.5">L</text>
<line x1="74.35" y1="70.5" x2="74.35" y2="67.23" stroke="#222" stroke-width="1.5"/>
<line x1="71.13" y1="67.23" x2="77.58" y2="67.23" stroke="#222" stroke-width="1.5"/>
<rect x="67.9" y="70.5" width="12.9" height="65.4" fill="#000"/>
<line x1="92.76" y1="72.46" x2="92.76" y2="66.25" stroke="#222" stroke-width="1.5"/>
<line x1="89.54" y1="66.25" x2="95.98" y2="66.25" stroke="#222" stroke-width="1.5"/>
<rect x="86.31" y="72.46" width="12.9" height="63.44" fill="#000"/>
<line x1="111.17" y1="70.5" x2="111.17" y2="67.23" stroke="#222" stroke-width="1.5"/>
<line x1="107.95" y1="67.23" x2="114.39" y2="67.23" stroke="#222" stroke-width="1.5"/>
<rect x="104.72" y="70.5" width="12.9" height="65.4" fill="#000"/>
<line x1="129.58" y1="77.04" x2="129.58" y2="72.46" stroke="#222" stroke-width="1.5"/>
<line x1="126.36" y1="72.46" x2="132.81" y2="72.46" stroke="#222" stroke-width="1.5"/>
<rect x="123.13" y="77.04" width="12.9" height="58.86" fill="#000"/>
<line x1="147.99" y1="77.04" x2="147.99" y2="70.5" stroke="#222" stroke-width="1.5"/>
<line x1="144.77" y1="70.5" x2="151.22" y2="70.5" stroke="#222" stroke-width="1.5"/>
<rect x="141.54" y="77.04" width="12.9" height="58.86" fill="#000"/>
<line x1="166.4" y1="88.62" x2="166.4" y2="83.58" stroke="#222" stroke-width="1.5"/>
<line x1="163.17" y1="83.58" x2="169.62" y2="83.58" stroke="#222" stroke-width="1.5"/>
<rect x="159.95" y="88.62" width="12.9" height="47.28" fill="#000"/>
<line x1="184.81" y1="103.98" x2="184.81" y2="99.93" stroke="#222" stroke-width="1.5"/>
<line x1="181.59" y1="99.93" x2="188.03" y2="99.93" stroke="#222" stroke-width="1.5"/>
<rect x="178.36" y="103.98" width="12.9" height="31.92" fill="#000"/>
<line x1="203.22" y1="118.7" x2="203.22" y2="115.63" stroke="#222" stroke-width="1.5"/>
<line x1="200" y1="115.63" x2="206.44" y2="115.63" stroke="#222" stroke-width="1.5"/>
<rect x="196.77" y="118.7" width="12.9" height="17.2" fill="#000"/>
<line x1="64.7" y1="37.2" x2="64.7" y2="136.65" stroke="#222" stroke-width="1.5"/>
<line x1="63.95" y1="135.9" x2="212.5" y2="135.9" stroke="#222" stroke-width="1.5"/>
<line x1="61.7" y1="135.9" x2="64.7" y2="135.9" stroke="#222" stroke-width="1.5"/>
<text x="60.9" y="138.62" font-size="8" font-weight="bold" text-anchor="end">0.0</text>
<line x1="61.7" y1="103.2" x2="64.7" y2="103.2" stroke="#222" stroke-width="1.5"/>
<text x="60.9" y="105.92" font-size="8" font-weight="bold" text-anchor="end">0.5</text>
<line x1="61.7" y1="70.5" x2="64.7" y2="70.5" stroke="#222" stroke-width="1.5"/>
<text x="60.9" y="73.22" font-size="8" font-weight="bold" text-anchor="end">1.0</text>
<line x1="61.7" y1="37.8" x2="64.7" y2="37.8" stroke="#222" stroke-width="1.5"/>
<text x="60.9" y="40.52" font-size="8" font-weight="bold" text-anchor="end">1.5</text>
<line x1="74.35" y1="135.9" x2="74.35" y2="138.9" stroke="#222" stroke-width="1.5"/>
<line x1="92.76" y1="135.9" x2="92.76" y2="138.9" stroke="#222" stroke-width="1.5"/>
<line x1="111.17" y1="135.9" x2="111.17" y2="138.9" stroke="#222" stroke-width="1.5"/>
<line x1="129.58" y1="135.9" x2="129.58" y2="138.9" stroke="#222" stroke-width="1.5"/>
<line x1="147.99" y1="135.9" x2="147.99" y2="138.9" stroke="#222" stroke-width="1.5"/>
<line x1="166.4" y1="135.9" x2="166.4" y2="138.9" stroke="#222" stroke-width="1.5"/>
<line x1="184.81" y1="135.9" x2="184.81" y2="138.9" stroke="#222" stroke-width="1.5"/>
<line x1="203.22" y1="135.9" x2="203.22" y2="138.9" stroke="#222" stroke-width="1.5"/>
<text x="74.35" y="147.8" font-size="8.6" font-weight="bold" text-anchor="middle">0</text>
<text x="92.76" y="147.8" font-size="8.6" font-weight="bold" text-anchor="middle">5</text>
<text x="111.17" y="147.8" font-size="8.6" font-weight="bold" text-anchor="middle">10</text>
<text x="129.58" y="147.8" font-size="8.6" font-weight="bold" text-anchor="middle">25</text>
<text x="147.99" y="147.8" font-size="8.6" font-weight="bold" text-anchor="middle">50</text>
<text x="166.4" y="147.8" font-size="8.6" font-weight="bold" text-anchor="middle">75</text>
<text x="184.81" y="147.8" font-size="8.6" font-weight="bold" text-anchor="middle">100</text>
<text x="203.22" y="147.8" font-size="8.6" font-weight="bold" text-anchor="middle">200</text>
<text x="215.6" y="147.8" font-size="8.6" font-weight="bold">μM</text>
<text x="166.5" y="79.6" font-size="9.7" text-anchor="middle" fill="#222">&amp;&amp;</text>
<text x="184.8" y="93.4" font-size="9.7" text-anchor="middle" fill="#222">&amp;&amp;</text>
<text x="203.1" y="110.1" font-size="9.7" text-anchor="middle" fill="#222">&amp;&amp;</text>
<text x="46.57" y="85.5" font-size="9.6" font-weight="bold" text-anchor="middle" transform="rotate(-90 46.57 85.5)">Relative cell vitality</text>
<line x1="99" y1="244.4" x2="99" y2="239.1" stroke="#222" stroke-width="1.5"/>
<line x1="95.1" y1="239.1" x2="102.9" y2="239.1" stroke="#222" stroke-width="1.5"/>
<rect x="91.9" y="244.4" width="14.2" height="80.3" fill="#e0e0e0" stroke="#222" stroke-width="1.4"/>
<line x1="121.8" y1="283.75" x2="121.8" y2="279.73" stroke="#222" stroke-width="1.5"/>
<line x1="117.9" y1="279.73" x2="125.7" y2="279.73" stroke="#222" stroke-width="1.5"/>
<rect x="114.7" y="283.75" width="14.2" height="40.95" fill="#9d9da5" stroke="#222" stroke-width="1.4"/>
<line x1="144.6" y1="276.76" x2="144.6" y2="272.99" stroke="#222" stroke-width="1.5"/>
<line x1="140.7" y1="272.99" x2="148.5" y2="272.99" stroke="#222" stroke-width="1.5"/>
<rect x="137.5" y="276.76" width="14.2" height="47.94" fill="#a6a6a6" stroke="#222" stroke-width="1.4"/>
<line x1="167.4" y1="271.3" x2="167.4" y2="266.72" stroke="#222" stroke-width="1.5"/>
<line x1="163.5" y1="266.72" x2="171.3" y2="266.72" stroke="#222" stroke-width="1.5"/>
<rect x="160.3" y="271.3" width="14.2" height="53.4" fill="#8c8c8c" stroke="#222" stroke-width="1.4"/>
<line x1="190.2" y1="259.98" x2="190.2" y2="254.6" stroke="#222" stroke-width="1.5"/>
<line x1="186.3" y1="254.6" x2="194.1" y2="254.6" stroke="#222" stroke-width="1.5"/>
<rect x="183.1" y="259.98" width="14.2" height="64.72" fill="#585858" stroke="#222" stroke-width="1.4"/>
<line x1="213" y1="255.16" x2="213" y2="249.54" stroke="#222" stroke-width="1.5"/>
<line x1="209.1" y1="249.54" x2="216.9" y2="249.54" stroke="#222" stroke-width="1.5"/>
<rect x="205.9" y="255.16" width="14.2" height="69.54" fill="#000" stroke="#222" stroke-width="1.4"/>
<line x1="87.5" y1="203.65" x2="87.5" y2="325.45" stroke="#222" stroke-width="1.5"/>
<line x1="86.75" y1="324.7" x2="223.9" y2="324.7" stroke="#222" stroke-width="1.5"/>
<line x1="84" y1="324.7" x2="87.5" y2="324.7" stroke="#222" stroke-width="1.5"/>
<text x="83.2" y="328.03" font-size="9.8" font-weight="bold" text-anchor="end">0.0</text>
<line x1="84" y1="284.55" x2="87.5" y2="284.55" stroke="#222" stroke-width="1.5"/>
<text x="83.2" y="287.88" font-size="9.8" font-weight="bold" text-anchor="end">0.5</text>
<line x1="84" y1="244.4" x2="87.5" y2="244.4" stroke="#222" stroke-width="1.5"/>
<text x="83.2" y="247.73" font-size="9.8" font-weight="bold" text-anchor="end">1.0</text>
<line x1="84" y1="204.25" x2="87.5" y2="204.25" stroke="#222" stroke-width="1.5"/>
<text x="83.2" y="207.58" font-size="9.8" font-weight="bold" text-anchor="end">1.5</text>
<line x1="99" y1="324.7" x2="99" y2="328.2" stroke="#222" stroke-width="1.5"/>
<line x1="121.8" y1="324.7" x2="121.8" y2="328.2" stroke="#222" stroke-width="1.5"/>
<line x1="144.6" y1="324.7" x2="144.6" y2="328.2" stroke="#222" stroke-width="1.5"/>
<line x1="167.4" y1="324.7" x2="167.4" y2="328.2" stroke="#222" stroke-width="1.5"/>
<line x1="190.2" y1="324.7" x2="190.2" y2="328.2" stroke="#222" stroke-width="1.5"/>
<line x1="213" y1="324.7" x2="213" y2="328.2" stroke="#222" stroke-width="1.5"/>
<text x="103.5" y="339.2" font-size="12.2" text-anchor="end" transform="rotate(-45 103.5 339.2)">control</text>
<text x="126.3" y="339.2" font-size="12.2" text-anchor="end" transform="rotate(-45 126.3 339.2)">H/R</text>
<text x="149.1" y="339.2" font-size="12.2" text-anchor="end" transform="rotate(-45 149.1 339.2)">H/R+5</text>
<text x="171.9" y="339.2" font-size="12.2" text-anchor="end" transform="rotate(-45 171.9 339.2)">H/R+10</text>
<text x="194.7" y="339.2" font-size="12.2" text-anchor="end" transform="rotate(-45 194.7 339.2)">H/R+25</text>
<text x="217.5" y="339.2" font-size="12.2" text-anchor="end" transform="rotate(-45 217.5 339.2)">H/R+50</text>
<text x="121.75" y="280.7" font-size="15.8" text-anchor="middle" fill="#333">**</text>
<text x="144.6" y="267.4" font-size="12.3" text-anchor="middle" fill="#555">##</text>
<text x="167.4" y="259.9" font-size="12.3" text-anchor="middle" fill="#555">##</text>
<text x="190.2" y="248.6" font-size="12.3" text-anchor="middle" fill="#555">##</text>
<text x="213" y="244" font-size="12.3" text-anchor="middle" fill="#555">##</text>
<text x="64.63" y="263.2" font-size="11.6" font-weight="bold" text-anchor="middle" transform="rotate(-90 64.63 263.2)">Relative cell vitality</text>
<line x1="694.05" y1="175.09" x2="694.05" y2="170.04" stroke="#222" stroke-width="1.5"/>
<line x1="689.77" y1="170.04" x2="698.32" y2="170.04" stroke="#222" stroke-width="1.5"/>
<rect x="686.2" y="175.09" width="15.7" height="15.91" fill="#e0e0e0" stroke="#222" stroke-width="1.4"/>
<line x1="720.05" y1="172.82" x2="720.05" y2="167.01" stroke="#222" stroke-width="1.5"/>
<line x1="715.77" y1="167.01" x2="724.32" y2="167.01" stroke="#222" stroke-width="1.5"/>
<rect x="712.2" y="172.82" width="15.7" height="18.18" fill="#a2a2a9" stroke="#222" stroke-width="1.4"/>
<line x1="746.25" y1="116.01" x2="746.25" y2="105.15" stroke="#222" stroke-width="1.5"/>
<line x1="741.98" y1="105.15" x2="750.52" y2="105.15" stroke="#222" stroke-width="1.5"/>
<rect x="738.4" y="116.01" width="15.7" height="74.99" fill="#858585" stroke="#222" stroke-width="1.4"/>
<line x1="771.75" y1="151.61" x2="771.75" y2="142.27" stroke="#222" stroke-width="1.5"/>
<line x1="767.48" y1="142.27" x2="776.02" y2="142.27" stroke="#222" stroke-width="1.5"/>
<rect x="763.9" y="151.61" width="15.7" height="39.39" fill="#000" stroke="#222" stroke-width="1.4"/>
<line x1="680.9" y1="89.4" x2="680.9" y2="191.75" stroke="#222" stroke-width="1.5"/>
<line x1="680.15" y1="191" x2="785.4" y2="191" stroke="#222" stroke-width="1.5"/>
<line x1="677.9" y1="191" x2="680.9" y2="191" stroke="#222" stroke-width="1.5"/>
<text x="677.1" y="193.92" font-size="8.6" font-weight="bold" text-anchor="end">0</text>
<line x1="677.9" y1="165.75" x2="680.9" y2="165.75" stroke="#222" stroke-width="1.5"/>
<text x="677.1" y="168.67" font-size="8.6" font-weight="bold" text-anchor="end">10</text>
<line x1="677.9" y1="140.5" x2="680.9" y2="140.5" stroke="#222" stroke-width="1.5"/>
<text x="677.1" y="143.42" font-size="8.6" font-weight="bold" text-anchor="end">20</text>
<line x1="677.9" y1="115.25" x2="680.9" y2="115.25" stroke="#222" stroke-width="1.5"/>
<text x="677.1" y="118.17" font-size="8.6" font-weight="bold" text-anchor="end">30</text>
<line x1="677.9" y1="90" x2="680.9" y2="90" stroke="#222" stroke-width="1.5"/>
<text x="677.1" y="92.92" font-size="8.6" font-weight="bold" text-anchor="end">40</text>
<line x1="694.05" y1="191" x2="694.05" y2="194" stroke="#222" stroke-width="1.5"/>
<line x1="720.05" y1="191" x2="720.05" y2="194" stroke="#222" stroke-width="1.5"/>
<line x1="746.25" y1="191" x2="746.25" y2="194" stroke="#222" stroke-width="1.5"/>
<line x1="771.75" y1="191" x2="771.75" y2="194" stroke="#222" stroke-width="1.5"/>
<text x="697.05" y="205" font-size="9.7" font-weight="bold" text-anchor="end" transform="rotate(-45 697.05 205)">control</text>
<text x="723.05" y="205" font-size="9.7" font-weight="bold" text-anchor="end" transform="rotate(-45 723.05 205)">25μM</text>
<text x="749.25" y="205" font-size="9.7" font-weight="bold" text-anchor="end" transform="rotate(-45 749.25 205)">H/R</text>
<text x="774.75" y="205" font-size="9.7" font-weight="bold" text-anchor="end" transform="rotate(-45 774.75 205)">H/R+25μM</text>
<text x="745.3" y="102.9" font-size="13" text-anchor="middle" fill="#333">**</text>
<text x="771.7" y="134.4" font-size="10.6" text-anchor="middle" fill="#555">##</text>
<text x="665.33" y="139.4" font-size="9.8" font-weight="bold" text-anchor="middle" transform="rotate(-90 665.33 139.4)">Apoptosis rates(%)</text>
<line x1="353.2" y1="498.6" x2="353.2" y2="493.3" stroke="#222" stroke-width="1.5"/>
<line x1="348.7" y1="493.3" x2="357.7" y2="493.3" stroke="#222" stroke-width="1.5"/>
<rect x="344.9" y="498.6" width="16.6" height="53" fill="#e0e0e0" stroke="#222" stroke-width="1.4"/>
<line x1="379.5" y1="495.95" x2="379.5" y2="490.12" stroke="#222" stroke-width="1.5"/>
<line x1="375" y1="490.12" x2="384" y2="490.12" stroke="#222" stroke-width="1.5"/>
<rect x="371.2" y="495.95" width="16.6" height="55.65" fill="#a2a2a9" stroke="#222" stroke-width="1.4"/>
<line x1="406" y1="460.44" x2="406" y2="452.49" stroke="#222" stroke-width="1.5"/>
<line x1="401.5" y1="452.49" x2="410.5" y2="452.49" stroke="#222" stroke-width="1.5"/>
<rect x="397.7" y="460.44" width="16.6" height="91.16" fill="#858585" stroke="#222" stroke-width="1.4"/>
<line x1="432.5" y1="490.12" x2="432.5" y2="482.7" stroke="#222" stroke-width="1.5"/>
<line x1="428" y1="482.7" x2="437" y2="482.7" stroke="#222" stroke-width="1.5"/>
<rect x="424.2" y="490.12" width="16.6" height="61.48" fill="#000" stroke="#222" stroke-width="1.4"/>
<line x1="340.2" y1="445" x2="340.2" y2="552.35" stroke="#222" stroke-width="1.5"/>
<line x1="339.45" y1="551.6" x2="445.7" y2="551.6" stroke="#222" stroke-width="1.5"/>
<line x1="337.2" y1="551.6" x2="340.2" y2="551.6" stroke="#222" stroke-width="1.5"/>
<text x="336.4" y="554.52" font-size="8.6" font-weight="bold" text-anchor="end">0.0</text>
<line x1="337.2" y1="525.1" x2="340.2" y2="525.1" stroke="#222" stroke-width="1.5"/>
<text x="336.4" y="528.02" font-size="8.6" font-weight="bold" text-anchor="end">0.5</text>
<line x1="337.2" y1="498.6" x2="340.2" y2="498.6" stroke="#222" stroke-width="1.5"/>
<text x="336.4" y="501.52" font-size="8.6" font-weight="bold" text-anchor="end">1.0</text>
<line x1="337.2" y1="472.1" x2="340.2" y2="472.1" stroke="#222" stroke-width="1.5"/>
<text x="336.4" y="475.02" font-size="8.6" font-weight="bold" text-anchor="end">1.5</text>
<line x1="337.2" y1="445.6" x2="340.2" y2="445.6" stroke="#222" stroke-width="1.5"/>
<text x="336.4" y="448.52" font-size="8.6" font-weight="bold" text-anchor="end">2.0</text>
<line x1="353.2" y1="551.6" x2="353.2" y2="554.6" stroke="#222" stroke-width="1.5"/>
<line x1="379.5" y1="551.6" x2="379.5" y2="554.6" stroke="#222" stroke-width="1.5"/>
<line x1="406" y1="551.6" x2="406" y2="554.6" stroke="#222" stroke-width="1.5"/>
<line x1="432.5" y1="551.6" x2="432.5" y2="554.6" stroke="#222" stroke-width="1.5"/>
<text x="356.7" y="564.6" font-size="10.1" font-weight="bold" text-anchor="end" transform="rotate(-45 356.7 564.6)">control</text>
<text x="383" y="564.6" font-size="10.1" font-weight="bold" text-anchor="end" transform="rotate(-45 383 564.6)">25μM</text>
<text x="409.5" y="564.6" font-size="10.1" font-weight="bold" text-anchor="end" transform="rotate(-45 409.5 564.6)">H/R</text>
<text x="436" y="564.6" font-size="10.1" font-weight="bold" text-anchor="end" transform="rotate(-45 436 564.6)">H/R+25μM</text>
<text x="406.2" y="451.1" font-size="12.5" text-anchor="middle" fill="#333">**</text>
<text x="433.6" y="478.2" font-size="10.5" text-anchor="middle" fill="#555">##</text>
<text x="320.2" y="497.4" font-size="10.3" font-weight="bold" text-anchor="middle" transform="rotate(-90 320.2 497.4)">Relative protein level of BAX</text>
<line x1="523.5" y1="481.6" x2="523.5" y2="474.76" stroke="#222" stroke-width="1.5"/>
<line x1="519.15" y1="474.76" x2="527.85" y2="474.76" stroke="#222" stroke-width="1.5"/>
<rect x="515.5" y="481.6" width="16" height="68.4" fill="#e0e0e0" stroke="#222" stroke-width="1.4"/>
<line x1="549.3" y1="479.55" x2="549.3" y2="471.34" stroke="#222" stroke-width="1.5"/>
<line x1="544.95" y1="471.34" x2="553.65" y2="471.34" stroke="#222" stroke-width="1.5"/>
<rect x="541.3" y="479.55" width="16" height="70.45" fill="#a2a2a9" stroke="#222" stroke-width="1.4"/>
<line x1="575" y1="516.48" x2="575" y2="510.33" stroke="#222" stroke-width="1.5"/>
<line x1="570.65" y1="510.33" x2="579.35" y2="510.33" stroke="#222" stroke-width="1.5"/>
<rect x="567" y="516.48" width="16" height="33.52" fill="#858585" stroke="#222" stroke-width="1.4"/>
<line x1="601" y1="491.18" x2="601" y2="485.7" stroke="#222" stroke-width="1.5"/>
<line x1="596.65" y1="485.7" x2="605.35" y2="485.7" stroke="#222" stroke-width="1.5"/>
<rect x="593" y="491.18" width="16" height="58.82" fill="#000" stroke="#222" stroke-width="1.4"/>
<line x1="509.8" y1="446.8" x2="509.8" y2="550.75" stroke="#222" stroke-width="1.5"/>
<line x1="509.05" y1="550" x2="614" y2="550" stroke="#222" stroke-width="1.5"/>
<line x1="506.8" y1="550" x2="509.8" y2="550" stroke="#222" stroke-width="1.5"/>
<text x="506" y="552.92" font-size="8.6" font-weight="bold" text-anchor="end">0.0</text>
<line x1="506.8" y1="515.8" x2="509.8" y2="515.8" stroke="#222" stroke-width="1.5"/>
<text x="506" y="518.72" font-size="8.6" font-weight="bold" text-anchor="end">0.5</text>
<line x1="506.8" y1="481.6" x2="509.8" y2="481.6" stroke="#222" stroke-width="1.5"/>
<text x="506" y="484.52" font-size="8.6" font-weight="bold" text-anchor="end">1.0</text>
<line x1="506.8" y1="447.4" x2="509.8" y2="447.4" stroke="#222" stroke-width="1.5"/>
<text x="506" y="450.32" font-size="8.6" font-weight="bold" text-anchor="end">1.5</text>
<line x1="523.5" y1="550" x2="523.5" y2="553" stroke="#222" stroke-width="1.5"/>
<line x1="549.3" y1="550" x2="549.3" y2="553" stroke="#222" stroke-width="1.5"/>
<line x1="575" y1="550" x2="575" y2="553" stroke="#222" stroke-width="1.5"/>
<line x1="601" y1="550" x2="601" y2="553" stroke="#222" stroke-width="1.5"/>
<text x="527" y="563" font-size="10.1" font-weight="bold" text-anchor="end" transform="rotate(-45 527 563)">control</text>
<text x="552.8" y="563" font-size="10.1" font-weight="bold" text-anchor="end" transform="rotate(-45 552.8 563)">25μM</text>
<text x="578.5" y="563" font-size="10.1" font-weight="bold" text-anchor="end" transform="rotate(-45 578.5 563)">H/R</text>
<text x="604.5" y="563" font-size="10.1" font-weight="bold" text-anchor="end" transform="rotate(-45 604.5 563)">H/R+25μM</text>
<text x="575.5" y="509.7" font-size="12.8" text-anchor="middle" fill="#333">**</text>
<text x="602.2" y="479.2" font-size="10.8" text-anchor="middle" fill="#555">##</text>
<text x="490.7" y="498" font-size="10.0" font-weight="bold" text-anchor="middle" transform="rotate(-90 490.7 498)">Relative protein level of BCL-2</text>
<line x1="702.2" y1="528.8" x2="702.2" y2="523.1" stroke="#222" stroke-width="1.5"/>
<line x1="697.75" y1="523.1" x2="706.65" y2="523.1" stroke="#222" stroke-width="1.5"/>
<rect x="694" y="528.8" width="16.4" height="21.1" fill="#e0e0e0" stroke="#222" stroke-width="1.4"/>
<line x1="728.4" y1="527.75" x2="728.4" y2="522.89" stroke="#222" stroke-width="1.5"/>
<line x1="723.95" y1="522.89" x2="732.85" y2="522.89" stroke="#222" stroke-width="1.5"/>
<rect x="720.2" y="527.75" width="16.4" height="22.15" fill="#a2a2a9" stroke="#222" stroke-width="1.4"/>
<line x1="754.8" y1="472.46" x2="754.8" y2="464.02" stroke="#222" stroke-width="1.5"/>
<line x1="750.35" y1="464.02" x2="759.25" y2="464.02" stroke="#222" stroke-width="1.5"/>
<rect x="746.6" y="472.46" width="16.4" height="77.44" fill="#858585" stroke="#222" stroke-width="1.4"/>
<line x1="781.2" y1="499.47" x2="781.2" y2="491.45" stroke="#222" stroke-width="1.5"/>
<line x1="776.75" y1="491.45" x2="785.65" y2="491.45" stroke="#222" stroke-width="1.5"/>
<rect x="773" y="499.47" width="16.4" height="50.43" fill="#000" stroke="#222" stroke-width="1.4"/>
<line x1="688.2" y1="443.8" x2="688.2" y2="550.65" stroke="#222" stroke-width="1.5"/>
<line x1="687.45" y1="549.9" x2="794" y2="549.9" stroke="#222" stroke-width="1.5"/>
<line x1="685.2" y1="549.9" x2="688.2" y2="549.9" stroke="#222" stroke-width="1.5"/>
<text x="684.4" y="552.96" font-size="9" font-weight="bold" text-anchor="end">0</text>
<line x1="685.2" y1="528.8" x2="688.2" y2="528.8" stroke="#222" stroke-width="1.5"/>
<text x="684.4" y="531.86" font-size="9" font-weight="bold" text-anchor="end">1</text>
<line x1="685.2" y1="507.7" x2="688.2" y2="507.7" stroke="#222" stroke-width="1.5"/>
<text x="684.4" y="510.76" font-size="9" font-weight="bold" text-anchor="end">2</text>
<line x1="685.2" y1="486.6" x2="688.2" y2="486.6" stroke="#222" stroke-width="1.5"/>
<text x="684.4" y="489.66" font-size="9" font-weight="bold" text-anchor="end">3</text>
<line x1="685.2" y1="465.5" x2="688.2" y2="465.5" stroke="#222" stroke-width="1.5"/>
<text x="684.4" y="468.56" font-size="9" font-weight="bold" text-anchor="end">4</text>
<line x1="685.2" y1="444.4" x2="688.2" y2="444.4" stroke="#222" stroke-width="1.5"/>
<text x="684.4" y="447.46" font-size="9" font-weight="bold" text-anchor="end">5</text>
<line x1="702.2" y1="549.9" x2="702.2" y2="552.9" stroke="#222" stroke-width="1.5"/>
<line x1="728.4" y1="549.9" x2="728.4" y2="552.9" stroke="#222" stroke-width="1.5"/>
<line x1="754.8" y1="549.9" x2="754.8" y2="552.9" stroke="#222" stroke-width="1.5"/>
<line x1="781.2" y1="549.9" x2="781.2" y2="552.9" stroke="#222" stroke-width="1.5"/>
<text x="705.7" y="562.9" font-size="10.1" font-weight="bold" text-anchor="end" transform="rotate(-45 705.7 562.9)">control</text>
<text x="731.9" y="562.9" font-size="10.1" font-weight="bold" text-anchor="end" transform="rotate(-45 731.9 562.9)">25μM</text>
<text x="758.3" y="562.9" font-size="10.1" font-weight="bold" text-anchor="end" transform="rotate(-45 758.3 562.9)">H/R</text>
<text x="784.7" y="562.9" font-size="10.1" font-weight="bold" text-anchor="end" transform="rotate(-45 784.7 562.9)">H/R+25μM</text>
<text x="754.9" y="464.3" font-size="13.5" text-anchor="middle" fill="#333">**</text>
<text x="781.6" y="484.4" font-size="10.5" text-anchor="middle" fill="#555">##</text>
<text x="663.9" y="496" font-size="10.3" font-weight="bold" text-anchor="middle" transform="rotate(-90 663.9 496)">Relative protein level of</text>
<text x="674.4" y="498.2" font-size="10.3" font-weight="bold" text-anchor="middle" transform="rotate(-90 674.4 498.2)">C-Caspase3</text>
<line x1="125.15" y1="730.95" x2="125.15" y2="729.89" stroke="#222" stroke-width="1.5"/>
<line x1="120.58" y1="729.89" x2="129.72" y2="729.89" stroke="#222" stroke-width="1.5"/>
<rect x="116.7" y="730.95" width="16.9" height="13.25" fill="#e0e0e0" stroke="#222" stroke-width="1.4"/>
<line x1="152.05" y1="730.95" x2="152.05" y2="727.37" stroke="#222" stroke-width="1.5"/>
<line x1="147.48" y1="727.37" x2="156.62" y2="727.37" stroke="#222" stroke-width="1.5"/>
<rect x="143.6" y="730.95" width="16.9" height="13.25" fill="#a2a2a9" stroke="#222" stroke-width="1.4"/>
<line x1="179.45" y1="676.62" x2="179.45" y2="661.39" stroke="#222" stroke-width="1.5"/>
<line x1="174.88" y1="661.39" x2="184.03" y2="661.39" stroke="#222" stroke-width="1.5"/>
<rect x="171" y="676.62" width="16.9" height="67.58" fill="#858585" stroke="#222" stroke-width="1.4"/>
<line x1="206.45" y1="716.38" x2="206.45" y2="711.08" stroke="#222" stroke-width="1.5"/>
<line x1="201.88" y1="711.08" x2="211.03" y2="711.08" stroke="#222" stroke-width="1.5"/>
<rect x="198" y="716.38" width="16.9" height="27.83" fill="#000" stroke="#222" stroke-width="1.4"/>
<line x1="111.3" y1="637.6" x2="111.3" y2="744.95" stroke="#222" stroke-width="1.5"/>
<line x1="110.55" y1="744.2" x2="220.2" y2="744.2" stroke="#222" stroke-width="1.5"/>
<line x1="108.3" y1="744.2" x2="111.3" y2="744.2" stroke="#222" stroke-width="1.5"/>
<text x="107.5" y="746.92" font-size="8" font-family="Liberation Sans" font-weight="bold" text-anchor="end">0</text>
<line x1="108.3" y1="717.7" x2="111.3" y2="717.7" stroke="#222" stroke-width="1.5"/>
<text x="107.5" y="720.42" font-size="8" font-family="Liberation Sans" font-weight="bold" text-anchor="end">2</text>
<line x1="108.3" y1="691.2" x2="111.3" y2="691.2" stroke="#222" stroke-width="1.5"/>
<text x="107.5" y="693.92" font-size="8" font-family="Liberation Sans" font-weight="bold" text-anchor="end">4</text>
<line x1="108.3" y1="664.7" x2="111.3" y2="664.7" stroke="#222" stroke-width="1.5"/>
<text x="107.5" y="667.42" font-size="8" font-family="Liberation Sans" font-weight="bold" text-anchor="end">6</text>
<line x1="108.3" y1="638.2" x2="111.3" y2="638.2" stroke="#222" stroke-width="1.5"/>
<text x="107.5" y="640.92" font-size="8" font-family="Liberation Sans" font-weight="bold" text-anchor="end">8</text>
<line x1="125.15" y1="744.2" x2="125.15" y2="747.2" stroke="#222" stroke-width="1.5"/>
<line x1="152.05" y1="744.2" x2="152.05" y2="747.2" stroke="#222" stroke-width="1.5"/>
<line x1="179.45" y1="744.2" x2="179.45" y2="747.2" stroke="#222" stroke-width="1.5"/>
<line x1="206.45" y1="744.2" x2="206.45" y2="747.2" stroke="#222" stroke-width="1.5"/>
<text x="128.65" y="757.2" font-size="10.1" font-weight="bold" text-anchor="end" transform="rotate(-45 128.65 757.2)">control</text>
<text x="155.55" y="757.2" font-size="10.1" font-weight="bold" text-anchor="end" transform="rotate(-45 155.55 757.2)">25μM</text>
<text x="182.95" y="757.2" font-size="10.1" font-weight="bold" text-anchor="end" transform="rotate(-45 182.95 757.2)">H/R</text>
<text x="209.95" y="757.2" font-size="10.1" font-weight="bold" text-anchor="end" transform="rotate(-45 209.95 757.2)">H/R+25μM</text>
<text x="161.6" y="641.5" font-size="13.3" text-anchor="middle">IL-1β</text>
<text x="178.25" y="661.4" font-size="14.5" text-anchor="middle" fill="#333">**</text>
<text x="206" y="705.7" font-size="10.6" text-anchor="middle" fill="#555">##</text>
<text x="98.17" y="689.9" font-size="10.2" font-weight="bold" text-anchor="middle" transform="rotate(-90 98.17 689.9)">Relative mRNA expression</text>
<line x1="309.9" y1="722.9" x2="309.9" y2="716.99" stroke="#222" stroke-width="1.5"/>
<line x1="305.35" y1="716.99" x2="314.45" y2="716.99" stroke="#222" stroke-width="1.5"/>
<rect x="301.5" y="722.9" width="16.8" height="21.1" fill="#e0e0e0" stroke="#222" stroke-width="1.4"/>
<line x1="336.6" y1="723.74" x2="336.6" y2="717.41" stroke="#222" stroke-width="1.5"/>
<line x1="332.05" y1="717.41" x2="341.15" y2="717.41" stroke="#222" stroke-width="1.5"/>
<rect x="328.2" y="723.74" width="16.8" height="20.26" fill="#a2a2a9" stroke="#222" stroke-width="1.4"/>
<line x1="363.9" y1="672.68" x2="363.9" y2="658.97" stroke="#222" stroke-width="1.5"/>
<line x1="359.35" y1="658.97" x2="368.45" y2="658.97" stroke="#222" stroke-width="1.5"/>
<rect x="355.5" y="672.68" width="16.8" height="71.32" fill="#858585" stroke="#222" stroke-width="1.4"/>
<line x1="391" y1="704.97" x2="391" y2="694.63" stroke="#222" stroke-width="1.5"/>
<line x1="386.45" y1="694.63" x2="395.55" y2="694.63" stroke="#222" stroke-width="1.5"/>
<rect x="382.6" y="704.97" width="16.8" height="39.03" fill="#000" stroke="#222" stroke-width="1.4"/>
<line x1="295.9" y1="637.9" x2="295.9" y2="744.75" stroke="#222" stroke-width="1.5"/>
<line x1="295.15" y1="744" x2="404.6" y2="744" stroke="#222" stroke-width="1.5"/>
<line x1="292.9" y1="744" x2="295.9" y2="744" stroke="#222" stroke-width="1.5"/>
<text x="292.1" y="746.72" font-size="8" font-family="Liberation Sans" font-weight="bold" text-anchor="end">0</text>
<line x1="292.9" y1="722.9" x2="295.9" y2="722.9" stroke="#222" stroke-width="1.5"/>
<text x="292.1" y="725.62" font-size="8" font-family="Liberation Sans" font-weight="bold" text-anchor="end">1</text>
<line x1="292.9" y1="701.8" x2="295.9" y2="701.8" stroke="#222" stroke-width="1.5"/>
<text x="292.1" y="704.52" font-size="8" font-family="Liberation Sans" font-weight="bold" text-anchor="end">2</text>
<line x1="292.9" y1="680.7" x2="295.9" y2="680.7" stroke="#222" stroke-width="1.5"/>
<text x="292.1" y="683.42" font-size="8" font-family="Liberation Sans" font-weight="bold" text-anchor="end">3</text>
<line x1="292.9" y1="659.6" x2="295.9" y2="659.6" stroke="#222" stroke-width="1.5"/>
<text x="292.1" y="662.32" font-size="8" font-family="Liberation Sans" font-weight="bold" text-anchor="end">4</text>
<line x1="292.9" y1="638.5" x2="295.9" y2="638.5" stroke="#222" stroke-width="1.5"/>
<text x="292.1" y="641.22" font-size="8" font-family="Liberation Sans" font-weight="bold" text-anchor="end">5</text>
<line x1="309.9" y1="744" x2="309.9" y2="747" stroke="#222" stroke-width="1.5"/>
<line x1="336.6" y1="744" x2="336.6" y2="747" stroke="#222" stroke-width="1.5"/>
<line x1="363.9" y1="744" x2="363.9" y2="747" stroke="#222" stroke-width="1.5"/>
<line x1="391" y1="744" x2="391" y2="747" stroke="#222" stroke-width="1.5"/>
<text x="313.4" y="757" font-size="10.1" font-weight="bold" text-anchor="end" transform="rotate(-45 313.4 757)">control</text>
<text x="340.1" y="757" font-size="10.1" font-weight="bold" text-anchor="end" transform="rotate(-45 340.1 757)">25μM</text>
<text x="367.4" y="757" font-size="10.1" font-weight="bold" text-anchor="end" transform="rotate(-45 367.4 757)">H/R</text>
<text x="394.5" y="757" font-size="10.1" font-weight="bold" text-anchor="end" transform="rotate(-45 394.5 757)">H/R+25μM</text>
<text x="349.1" y="641.5" font-size="13.3" text-anchor="middle">IL-6</text>
<text x="364" y="659.6" font-size="13.5" text-anchor="middle" fill="#333">**</text>
<text x="391" y="690.7" font-size="10.6" text-anchor="middle" fill="#555">##</text>
<text x="283.17" y="689.9" font-size="10.2" font-weight="bold" text-anchor="middle" transform="rotate(-90 283.17 689.9)">Relative mRNA expression</text>
<line x1="501.45" y1="733.26" x2="501.45" y2="730.71" stroke="#222" stroke-width="1.5"/>
<line x1="496.97" y1="730.71" x2="505.93" y2="730.71" stroke="#222" stroke-width="1.5"/>
<rect x="493.2" y="733.26" width="16.5" height="12.04" fill="#e0e0e0" stroke="#222" stroke-width="1.4"/>
<line x1="528.55" y1="737.15" x2="528.55" y2="734.36" stroke="#222" stroke-width="1.5"/>
<line x1="524.08" y1="734.36" x2="533.03" y2="734.36" stroke="#222" stroke-width="1.5"/>
<rect x="520.3" y="737.15" width="16.5" height="8.15" fill="#a2a2a9" stroke="#222" stroke-width="1.4"/>
<line x1="556.25" y1="671.49" x2="556.25" y2="654.34" stroke="#222" stroke-width="1.5"/>
<line x1="551.77" y1="654.34" x2="560.73" y2="654.34" stroke="#222" stroke-width="1.5"/>
<rect x="548" y="671.49" width="16.5" height="73.81" fill="#858585" stroke="#222" stroke-width="1.4"/>
<line x1="583.55" y1="706.14" x2="583.55" y2="700.31" stroke="#222" stroke-width="1.5"/>
<line x1="579.08" y1="700.31" x2="588.03" y2="700.31" stroke="#222" stroke-width="1.5"/>
<rect x="575.3" y="706.14" width="16.5" height="39.16" fill="#000" stroke="#222" stroke-width="1.4"/>
<line x1="487.2" y1="647.42" x2="487.2" y2="746.05" stroke="#222" stroke-width="1.5"/>
<line x1="486.45" y1="745.3" x2="597.4" y2="745.3" stroke="#222" stroke-width="1.5"/>
<line x1="484.2" y1="745.3" x2="487.2" y2="745.3" stroke="#222" stroke-width="1.5"/>
<text x="483.4" y="748.02" font-size="8" font-family="Liberation Sans" font-weight="bold" text-anchor="end">0</text>
<line x1="484.2" y1="720.98" x2="487.2" y2="720.98" stroke="#222" stroke-width="1.5"/>
<text x="483.4" y="723.7" font-size="8" font-family="Liberation Sans" font-weight="bold" text-anchor="end">2</text>
<line x1="484.2" y1="696.66" x2="487.2" y2="696.66" stroke="#222" stroke-width="1.5"/>
<text x="483.4" y="699.38" font-size="8" font-family="Liberation Sans" font-weight="bold" text-anchor="end">4</text>
<line x1="484.2" y1="672.34" x2="487.2" y2="672.34" stroke="#222" stroke-width="1.5"/>
<text x="483.4" y="675.06" font-size="8" font-family="Liberation Sans" font-weight="bold" text-anchor="end">6</text>
<line x1="484.2" y1="648.02" x2="487.2" y2="648.02" stroke="#222" stroke-width="1.5"/>
<text x="483.4" y="650.74" font-size="8" font-family="Liberation Sans" font-weight="bold" text-anchor="end">8</text>
<line x1="501.45" y1="745.3" x2="501.45" y2="748.3" stroke="#222" stroke-width="1.5"/>
<line x1="528.55" y1="745.3" x2="528.55" y2="748.3" stroke="#222" stroke-width="1.5"/>
<line x1="556.25" y1="745.3" x2="556.25" y2="748.3" stroke="#222" stroke-width="1.5"/>
<line x1="583.55" y1="745.3" x2="583.55" y2="748.3" stroke="#222" stroke-width="1.5"/>
<text x="504.95" y="758.3" font-size="10.1" font-weight="bold" text-anchor="end" transform="rotate(-45 504.95 758.3)">control</text>
<text x="532.05" y="758.3" font-size="10.1" font-weight="bold" text-anchor="end" transform="rotate(-45 532.05 758.3)">25μM</text>
<text x="559.75" y="758.3" font-size="10.1" font-weight="bold" text-anchor="end" transform="rotate(-45 559.75 758.3)">H/R</text>
<text x="587.05" y="758.3" font-size="10.1" font-weight="bold" text-anchor="end" transform="rotate(-45 587.05 758.3)">H/R+25μM</text>
<text x="542.5" y="638.8" font-size="13.3" text-anchor="middle">TNF-α</text>
<text x="556.2" y="653.8" font-size="13.8" text-anchor="middle" fill="#333">**</text>
<text x="582.9" y="694.9" font-size="10.6" text-anchor="middle" fill="#555">##</text>
<text x="473.35" y="696.1" font-size="9.55" font-weight="bold" text-anchor="middle" transform="rotate(-90 473.35 696.1)">Relative mRNA expression</text>
<line x1="692.25" y1="725" x2="692.25" y2="723.63" stroke="#222" stroke-width="1.5"/>
<line x1="687.77" y1="723.63" x2="696.73" y2="723.63" stroke="#222" stroke-width="1.5"/>
<rect x="684" y="725" width="16.5" height="19.6" fill="#e0e0e0" stroke="#222" stroke-width="1.4"/>
<line x1="719.35" y1="729.31" x2="719.35" y2="724.41" stroke="#222" stroke-width="1.5"/>
<line x1="714.88" y1="724.41" x2="723.83" y2="724.41" stroke="#222" stroke-width="1.5"/>
<rect x="711.1" y="729.31" width="16.5" height="15.29" fill="#a2a2a9" stroke="#222" stroke-width="1.4"/>
<line x1="746.65" y1="664.44" x2="746.65" y2="651.7" stroke="#222" stroke-width="1.5"/>
<line x1="742.18" y1="651.7" x2="751.13" y2="651.7" stroke="#222" stroke-width="1.5"/>
<rect x="738.4" y="664.44" width="16.5" height="80.16" fill="#858585" stroke="#222" stroke-width="1.4"/>
<line x1="773.75" y1="713.63" x2="773.75" y2="706.97" stroke="#222" stroke-width="1.5"/>
<line x1="769.27" y1="706.97" x2="778.23" y2="706.97" stroke="#222" stroke-width="1.5"/>
<rect x="765.5" y="713.63" width="16.5" height="30.97" fill="#000" stroke="#222" stroke-width="1.4"/>
<line x1="678.2" y1="646" x2="678.2" y2="745.35" stroke="#222" stroke-width="1.5"/>
<line x1="677.45" y1="744.6" x2="788" y2="744.6" stroke="#222" stroke-width="1.5"/>
<line x1="675.2" y1="744.6" x2="678.2" y2="744.6" stroke="#222" stroke-width="1.5"/>
<text x="674.4" y="747.32" font-size="8" font-family="Liberation Sans" font-weight="bold" text-anchor="end">0</text>
<line x1="675.2" y1="725" x2="678.2" y2="725" stroke="#222" stroke-width="1.5"/>
<text x="674.4" y="727.72" font-size="8" font-family="Liberation Sans" font-weight="bold" text-anchor="end">1</text>
<line x1="675.2" y1="705.4" x2="678.2" y2="705.4" stroke="#222" stroke-width="1.5"/>
<text x="674.4" y="708.12" font-size="8" font-family="Liberation Sans" font-weight="bold" text-anchor="end">2</text>
<line x1="675.2" y1="685.8" x2="678.2" y2="685.8" stroke="#222" stroke-width="1.5"/>
<text x="674.4" y="688.52" font-size="8" font-family="Liberation Sans" font-weight="bold" text-anchor="end">3</text>
<line x1="675.2" y1="666.2" x2="678.2" y2="666.2" stroke="#222" stroke-width="1.5"/>
<text x="674.4" y="668.92" font-size="8" font-family="Liberation Sans" font-weight="bold" text-anchor="end">4</text>
<line x1="675.2" y1="646.6" x2="678.2" y2="646.6" stroke="#222" stroke-width="1.5"/>
<text x="674.4" y="649.32" font-size="8" font-family="Liberation Sans" font-weight="bold" text-anchor="end">5</text>
<line x1="692.25" y1="744.6" x2="692.25" y2="747.6" stroke="#222" stroke-width="1.5"/>
<line x1="719.35" y1="744.6" x2="719.35" y2="747.6" stroke="#222" stroke-width="1.5"/>
<line x1="746.65" y1="744.6" x2="746.65" y2="747.6" stroke="#222" stroke-width="1.5"/>
<line x1="773.75" y1="744.6" x2="773.75" y2="747.6" stroke="#222" stroke-width="1.5"/>
<text x="695.75" y="757.6" font-size="10.1" font-weight="bold" text-anchor="end" transform="rotate(-45 695.75 757.6)">control</text>
<text x="722.85" y="757.6" font-size="10.1" font-weight="bold" text-anchor="end" transform="rotate(-45 722.85 757.6)">25μM</text>
<text x="750.15" y="757.6" font-size="10.1" font-weight="bold" text-anchor="end" transform="rotate(-45 750.15 757.6)">H/R</text>
<text x="777.25" y="757.6" font-size="10.1" font-weight="bold" text-anchor="end" transform="rotate(-45 777.25 757.6)">H/R+25μM</text>
<text x="729.4" y="639.6" font-size="13.3" text-anchor="middle">MCP-1</text>
<text x="746.6" y="652.8" font-size="13.5" text-anchor="middle" fill="#333">**</text>
<text x="773" y="702.6" font-size="10.6" text-anchor="middle" fill="#555">##</text>
<text x="663.35" y="694.9" font-size="9.55" font-weight="bold" text-anchor="middle" transform="rotate(-90 663.35 694.9)">Relative mRNA expression</text>
</svg></body></html>
